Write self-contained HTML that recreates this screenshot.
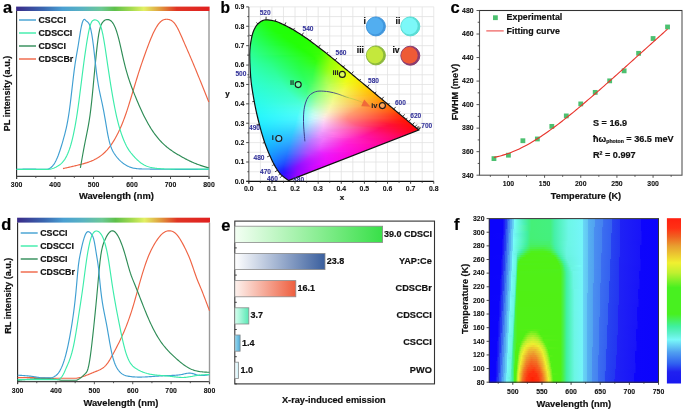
<!DOCTYPE html><html><head><meta charset="utf-8"><style>html,body{margin:0;padding:0;background:#fff;overflow:hidden}svg{display:block;will-change:transform}</style></head><body><svg width="685" height="410" viewBox="0 0 685 410" font-family="Liberation Sans, sans-serif" font-weight="bold"><defs><linearGradient id="sbA"><stop offset="0.000" stop-color="#3a2a88"/><stop offset="0.140" stop-color="#3a66b0"/><stop offset="0.240" stop-color="#4a9fd2"/><stop offset="0.340" stop-color="#58b2c2"/><stop offset="0.440" stop-color="#6cc896"/><stop offset="0.510" stop-color="#5ec04a"/><stop offset="0.600" stop-color="#a8dc50"/><stop offset="0.660" stop-color="#e2f064"/><stop offset="0.740" stop-color="#e0a040"/><stop offset="0.830" stop-color="#e03424"/><stop offset="1.000" stop-color="#e02020"/></linearGradient><linearGradient id="sbD"><stop offset="0.000" stop-color="#3a2a88"/><stop offset="0.140" stop-color="#3a66b0"/><stop offset="0.240" stop-color="#4a9fd2"/><stop offset="0.340" stop-color="#58b2c2"/><stop offset="0.440" stop-color="#6cc896"/><stop offset="0.510" stop-color="#5ec04a"/><stop offset="0.600" stop-color="#a8dc50"/><stop offset="0.660" stop-color="#e2f064"/><stop offset="0.740" stop-color="#e0a040"/><stop offset="0.830" stop-color="#e03424"/><stop offset="1.000" stop-color="#e02020"/></linearGradient><clipPath id="cieclip"><path d="M289.05,180.43 L288.98,180.46 L288.87,180.47 L288.71,180.47 L288.43,180.41 L287.85,180.06 L286.81,179.29 L285.01,177.97 L282.09,175.64 L281.73,175.31 L281.36,174.96 L280.97,174.57 L280.56,174.14 L280.13,173.66 L279.66,173.12 L279.16,172.49 L278.63,171.79 L278.07,171.02 L277.49,170.19 L276.89,169.28 L276.25,168.26 L275.57,167.13 L274.87,165.90 L274.14,164.57 L273.37,163.10 L272.56,161.46 L271.71,159.67 L270.83,157.73 L269.91,155.67 L268.94,153.43 L267.91,150.97 L266.84,148.31 L265.76,145.48 L264.68,142.48 L263.61,139.27 L262.52,135.79 L261.44,132.09 L260.36,128.21 L259.30,124.20 L258.24,119.98 L257.16,115.51 L256.11,110.86 L255.13,106.12 L254.23,101.38 L253.38,96.58 L252.54,91.65 L251.76,86.70 L251.13,81.78 L250.70,77.00 L250.39,72.31 L250.12,67.64 L249.90,63.06 L249.76,58.63 L249.70,54.43 L249.84,50.37 L250.20,46.39 L250.72,42.59 L251.35,39.07 L252.01,35.94 L252.82,33.03 L253.87,30.22 L255.10,27.67 L256.43,25.53 L257.79,23.95 L259.23,22.71 L260.82,21.57 L262.50,20.61 L264.23,19.97 L265.98,19.73 L267.75,19.81 L269.58,20.04 L271.45,20.37 L273.33,20.77 L275.20,21.20 L277.08,21.75 L278.96,22.48 L280.85,23.34 L282.73,24.25 L284.57,25.14 L286.37,26.02 L288.15,26.93 L289.92,27.88 L291.66,28.86 L293.40,29.85 L295.12,30.86 L296.82,31.90 L298.51,32.96 L300.20,34.04 L301.88,35.14 L303.57,36.26 L305.24,37.41 L306.92,38.58 L308.59,39.76 L310.25,40.96 L311.91,42.17 L313.57,43.40 L315.23,44.64 L316.88,45.90 L318.53,47.16 L320.18,48.44 L321.83,49.72 L323.48,51.02 L325.13,52.33 L326.78,53.64 L328.44,54.96 L330.10,56.29 L331.75,57.63 L333.41,58.97 L335.06,60.31 L336.71,61.66 L338.36,63.01 L340.00,64.37 L341.65,65.72 L343.29,67.08 L344.93,68.43 L346.58,69.79 L348.22,71.14 L349.85,72.50 L351.48,73.84 L353.09,75.19 L354.71,76.53 L356.31,77.87 L357.91,79.21 L359.50,80.53 L361.08,81.85 L362.65,83.16 L364.21,84.47 L365.76,85.77 L367.29,87.05 L368.81,88.32 L370.32,89.58 L371.82,90.84 L373.30,92.07 L374.76,93.29 L376.20,94.50 L377.63,95.69 L379.04,96.86 L380.43,98.01 L381.79,99.15 L383.12,100.26 L384.43,101.37 L385.72,102.45 L386.98,103.50 L388.19,104.52 L389.37,105.50 L390.51,106.46 L391.62,107.39 L392.71,108.29 L393.76,109.17 L394.80,110.04 L395.81,110.88 L396.80,111.71 L397.75,112.50 L398.66,113.26 L399.54,113.99 L400.40,114.70 L401.22,115.39 L402.00,116.03 L402.73,116.64 L403.42,117.21 L404.10,117.78 L404.75,118.33 L405.39,118.86 L406.00,119.37 L406.59,119.87 L407.15,120.34 L407.69,120.79 L408.20,121.22 L408.67,121.62 L409.13,122.00 L409.56,122.36 L409.98,122.71 L410.38,123.04 L410.77,123.36 L411.14,123.67 L411.49,123.97 L411.83,124.25 L412.15,124.52 L412.47,124.78 L412.77,125.03 L413.06,125.28 L413.35,125.52 L413.62,125.75 L413.88,125.97 L414.14,126.18 L414.38,126.39 L414.61,126.58 L414.83,126.76 L416.65,128.27 L417.58,129.05 L418.36,129.71 L418.66,129.96 Z"/></clipPath><linearGradient id="c6"><stop offset="0.071" stop-color="#21ff0e"/><stop offset="0.929" stop-color="#20ff08"/></linearGradient><linearGradient id="c7"><stop offset="0.036" stop-color="#21ff12"/><stop offset="0.964" stop-color="#20ff07"/></linearGradient><linearGradient id="c8"><stop offset="0.025" stop-color="#22ff18"/><stop offset="0.975" stop-color="#20ff06"/></linearGradient><linearGradient id="c9"><stop offset="0.022" stop-color="#22ff1d"/><stop offset="0.848" stop-color="#20ff06"/><stop offset="0.978" stop-color="#20ff05"/></linearGradient><linearGradient id="c10"><stop offset="0.019" stop-color="#22ff23"/><stop offset="0.673" stop-color="#21ff07"/><stop offset="0.981" stop-color="#20ff05"/></linearGradient><linearGradient id="c11"><stop offset="0.017" stop-color="#22ff2a"/><stop offset="0.569" stop-color="#21ff08"/><stop offset="0.983" stop-color="#20ff05"/></linearGradient><linearGradient id="c12"><stop offset="0.016" stop-color="#23ff32"/><stop offset="0.516" stop-color="#21ff0a"/><stop offset="0.984" stop-color="#20ff04"/></linearGradient><linearGradient id="c13"><stop offset="0.014" stop-color="#23ff3b"/><stop offset="0.500" stop-color="#21ff0a"/><stop offset="0.986" stop-color="#20ff04"/></linearGradient><linearGradient id="c14"><stop offset="0.014" stop-color="#23ff3f"/><stop offset="0.473" stop-color="#21ff0b"/><stop offset="0.986" stop-color="#20ff03"/></linearGradient><linearGradient id="c15"><stop offset="0.013" stop-color="#23ff46"/><stop offset="0.487" stop-color="#21ff0b"/><stop offset="0.988" stop-color="#21ff03"/></linearGradient><linearGradient id="c16"><stop offset="0.012" stop-color="#23ff4a"/><stop offset="0.488" stop-color="#21ff0b"/><stop offset="0.988" stop-color="#21ff02"/></linearGradient><linearGradient id="c17"><stop offset="0.011" stop-color="#24ff50"/><stop offset="0.511" stop-color="#21ff0b"/><stop offset="0.989" stop-color="#21ff02"/></linearGradient><linearGradient id="c18"><stop offset="0.011" stop-color="#24ff53"/><stop offset="0.511" stop-color="#21ff0b"/><stop offset="0.989" stop-color="#21ff02"/></linearGradient><linearGradient id="c19"><stop offset="0.010" stop-color="#24ff58"/><stop offset="0.541" stop-color="#21ff0a"/><stop offset="0.990" stop-color="#21ff01"/></linearGradient><linearGradient id="c20"><stop offset="0.010" stop-color="#24ff5b"/><stop offset="0.550" stop-color="#21ff0a"/><stop offset="0.990" stop-color="#21ff01"/></linearGradient><linearGradient id="c21"><stop offset="0.010" stop-color="#25ff5e"/><stop offset="0.394" stop-color="#22ff1d"/><stop offset="0.644" stop-color="#22ff07"/><stop offset="0.990" stop-color="#22ff01"/></linearGradient><linearGradient id="c22"><stop offset="0.009" stop-color="#25ff61"/><stop offset="0.387" stop-color="#22ff22"/><stop offset="0.613" stop-color="#22ff08"/><stop offset="0.991" stop-color="#23ff01"/></linearGradient><linearGradient id="c23"><stop offset="0.009" stop-color="#25ff66"/><stop offset="0.384" stop-color="#22ff27"/><stop offset="0.598" stop-color="#22ff09"/><stop offset="0.991" stop-color="#24ff01"/></linearGradient><linearGradient id="c24"><stop offset="0.009" stop-color="#26ff69"/><stop offset="0.395" stop-color="#22ff27"/><stop offset="0.605" stop-color="#22ff09"/><stop offset="0.991" stop-color="#24ff01"/></linearGradient><linearGradient id="c25"><stop offset="0.008" stop-color="#26ff6c"/><stop offset="0.398" stop-color="#22ff28"/><stop offset="0.619" stop-color="#22ff08"/><stop offset="0.992" stop-color="#26ff01"/></linearGradient><linearGradient id="c26"><stop offset="0.008" stop-color="#26ff6f"/><stop offset="0.408" stop-color="#22ff29"/><stop offset="0.625" stop-color="#22ff09"/><stop offset="0.992" stop-color="#26ff01"/></linearGradient><linearGradient id="c27"><stop offset="0.008" stop-color="#27ff72"/><stop offset="0.418" stop-color="#22ff29"/><stop offset="0.648" stop-color="#22ff08"/><stop offset="0.992" stop-color="#27ff01"/></linearGradient><linearGradient id="c28"><stop offset="0.008" stop-color="#27ff77"/><stop offset="0.414" stop-color="#23ff2e"/><stop offset="0.633" stop-color="#22ff09"/><stop offset="0.992" stop-color="#29ff01"/></linearGradient><linearGradient id="c29"><stop offset="0.008" stop-color="#28ff7a"/><stop offset="0.438" stop-color="#22ff2b"/><stop offset="0.669" stop-color="#22ff08"/><stop offset="0.992" stop-color="#29ff01"/></linearGradient><linearGradient id="c30"><stop offset="0.007" stop-color="#28ff7d"/><stop offset="0.440" stop-color="#23ff2c"/><stop offset="0.679" stop-color="#23ff07"/><stop offset="0.993" stop-color="#2bff01"/></linearGradient><linearGradient id="c31"><stop offset="0.007" stop-color="#28ff80"/><stop offset="0.463" stop-color="#22ff29"/><stop offset="0.699" stop-color="#23ff07"/><stop offset="0.993" stop-color="#2cff01"/></linearGradient><linearGradient id="c32"><stop offset="0.007" stop-color="#29ff83"/><stop offset="0.486" stop-color="#23ff27"/><stop offset="0.717" stop-color="#23ff06"/><stop offset="0.993" stop-color="#2eff02"/></linearGradient><linearGradient id="c33"><stop offset="0.007" stop-color="#29ff85"/><stop offset="0.693" stop-color="#23ff08"/><stop offset="0.993" stop-color="#30ff02"/></linearGradient><linearGradient id="c34"><stop offset="0.007" stop-color="#2aff88"/><stop offset="0.688" stop-color="#23ff08"/><stop offset="0.993" stop-color="#36ff02"/></linearGradient><linearGradient id="c35"><stop offset="0.007" stop-color="#2aff8b"/><stop offset="0.705" stop-color="#24ff08"/><stop offset="0.979" stop-color="#37ff02"/><stop offset="0.993" stop-color="#3bff02"/></linearGradient><linearGradient id="c36"><stop offset="0.007" stop-color="#2bff8f"/><stop offset="0.727" stop-color="#24ff07"/><stop offset="0.967" stop-color="#38ff03"/><stop offset="0.993" stop-color="#43ff02"/></linearGradient><linearGradient id="c37"><stop offset="0.006" stop-color="#2bff92"/><stop offset="0.721" stop-color="#24ff08"/><stop offset="0.942" stop-color="#3aff03"/><stop offset="0.994" stop-color="#55ff02"/></linearGradient><linearGradient id="c38"><stop offset="0.006" stop-color="#2bff95"/><stop offset="0.737" stop-color="#25ff07"/><stop offset="0.929" stop-color="#3bff04"/><stop offset="0.994" stop-color="#60ff02"/></linearGradient><linearGradient id="c39"><stop offset="0.006" stop-color="#2cff97"/><stop offset="0.741" stop-color="#26ff08"/><stop offset="0.918" stop-color="#3dff05"/><stop offset="0.994" stop-color="#6aff02"/></linearGradient><linearGradient id="c40"><stop offset="0.006" stop-color="#2cff9a"/><stop offset="0.756" stop-color="#27ff08"/><stop offset="0.894" stop-color="#39ff06"/><stop offset="0.994" stop-color="#74ff02"/></linearGradient><linearGradient id="c41"><stop offset="0.006" stop-color="#2cff9c"/><stop offset="0.750" stop-color="#28ff08"/><stop offset="0.872" stop-color="#3bff06"/><stop offset="0.994" stop-color="#82ff02"/></linearGradient><linearGradient id="c42"><stop offset="0.006" stop-color="#2cff9f"/><stop offset="0.428" stop-color="#25ff47"/><stop offset="0.765" stop-color="#2aff08"/><stop offset="0.873" stop-color="#43ff07"/><stop offset="0.994" stop-color="#89ff02"/></linearGradient><linearGradient id="c43"><stop offset="0.006" stop-color="#2cffa1"/><stop offset="0.387" stop-color="#25ff54"/><stop offset="0.768" stop-color="#2bff09"/><stop offset="0.863" stop-color="#45ff07"/><stop offset="0.982" stop-color="#8aff03"/><stop offset="0.994" stop-color="#8fff02"/></linearGradient><linearGradient id="c44"><stop offset="0.006" stop-color="#2cffa3"/><stop offset="0.347" stop-color="#26ff60"/><stop offset="0.782" stop-color="#2eff09"/><stop offset="0.865" stop-color="#4fff07"/><stop offset="0.982" stop-color="#91ff03"/><stop offset="0.994" stop-color="#95ff02"/></linearGradient><linearGradient id="c45"><stop offset="0.006" stop-color="#2dffa6"/><stop offset="0.293" stop-color="#27ff6e"/><stop offset="0.764" stop-color="#2eff0a"/><stop offset="0.845" stop-color="#51ff08"/><stop offset="0.960" stop-color="#93ff04"/><stop offset="0.994" stop-color="#9fff02"/></linearGradient><linearGradient id="c46"><stop offset="0.006" stop-color="#2dffa8"/><stop offset="0.267" stop-color="#28ff76"/><stop offset="0.756" stop-color="#2fff0c"/><stop offset="0.835" stop-color="#54ff09"/><stop offset="0.949" stop-color="#95ff05"/><stop offset="0.994" stop-color="#a4ff02"/></linearGradient><linearGradient id="c47"><stop offset="0.006" stop-color="#2dffaa"/><stop offset="0.253" stop-color="#29ff7c"/><stop offset="0.579" stop-color="#26ff34"/><stop offset="0.770" stop-color="#35ff0c"/><stop offset="0.927" stop-color="#92ff07"/><stop offset="0.994" stop-color="#a9ff02"/></linearGradient><linearGradient id="c48"><stop offset="0.006" stop-color="#2dffac"/><stop offset="0.250" stop-color="#29ff80"/><stop offset="0.561" stop-color="#26ff39"/><stop offset="0.761" stop-color="#36ff0f"/><stop offset="0.917" stop-color="#94ff08"/><stop offset="0.994" stop-color="#afff03"/></linearGradient><linearGradient id="c49"><stop offset="0.005" stop-color="#2dffae"/><stop offset="0.245" stop-color="#2aff83"/><stop offset="0.549" stop-color="#26ff3c"/><stop offset="0.734" stop-color="#33ff14"/><stop offset="0.897" stop-color="#96ff08"/><stop offset="0.995" stop-color="#b7ff02"/></linearGradient><linearGradient id="c50"><stop offset="0.005" stop-color="#2dffb0"/><stop offset="0.242" stop-color="#2bff87"/><stop offset="0.543" stop-color="#27ff3f"/><stop offset="0.726" stop-color="#34ff18"/><stop offset="0.887" stop-color="#98ff09"/><stop offset="0.995" stop-color="#bcff02"/></linearGradient><linearGradient id="c51"><stop offset="0.005" stop-color="#2dffb2"/><stop offset="0.239" stop-color="#2bff8b"/><stop offset="0.537" stop-color="#27ff41"/><stop offset="0.718" stop-color="#35ff1d"/><stop offset="0.867" stop-color="#95ff0a"/><stop offset="0.995" stop-color="#c0ff03"/></linearGradient><linearGradient id="c52"><stop offset="0.005" stop-color="#2dffb3"/><stop offset="0.239" stop-color="#2bff8b"/><stop offset="0.527" stop-color="#27ff44"/><stop offset="0.697" stop-color="#33ff24"/><stop offset="0.867" stop-color="#9bff0b"/><stop offset="0.995" stop-color="#c5ff03"/></linearGradient><linearGradient id="c53"><stop offset="0.005" stop-color="#2dffb5"/><stop offset="0.247" stop-color="#2cff8c"/><stop offset="0.532" stop-color="#28ff45"/><stop offset="0.689" stop-color="#34ff29"/><stop offset="0.847" stop-color="#99ff0c"/><stop offset="0.995" stop-color="#caff03"/></linearGradient><linearGradient id="c54"><stop offset="0.005" stop-color="#2dffb7"/><stop offset="0.242" stop-color="#2cff90"/><stop offset="0.521" stop-color="#28ff47"/><stop offset="0.675" stop-color="#35ff2e"/><stop offset="0.830" stop-color="#9aff0e"/><stop offset="0.995" stop-color="#d1ff02"/></linearGradient><linearGradient id="c55"><stop offset="0.005" stop-color="#2dffb9"/><stop offset="0.240" stop-color="#2dff93"/><stop offset="0.515" stop-color="#28ff4a"/><stop offset="0.668" stop-color="#36ff32"/><stop offset="0.811" stop-color="#97ff10"/><stop offset="0.995" stop-color="#d6ff03"/></linearGradient><linearGradient id="c56"><stop offset="0.005" stop-color="#2dffbb"/><stop offset="0.247" stop-color="#2dff94"/><stop offset="0.520" stop-color="#29ff4b"/><stop offset="0.652" stop-color="#33ff38"/><stop offset="0.813" stop-color="#9eff12"/><stop offset="0.995" stop-color="#dbff03"/></linearGradient><linearGradient id="c57"><stop offset="0.005" stop-color="#2dffbd"/><stop offset="0.245" stop-color="#2eff98"/><stop offset="0.515" stop-color="#29ff4d"/><stop offset="0.645" stop-color="#35ff3c"/><stop offset="0.795" stop-color="#9bff17"/><stop offset="0.995" stop-color="#dfff03"/></linearGradient><linearGradient id="c58"><stop offset="0.005" stop-color="#2dffbf"/><stop offset="0.252" stop-color="#2eff99"/><stop offset="0.520" stop-color="#2aff4f"/><stop offset="0.639" stop-color="#36ff3f"/><stop offset="0.787" stop-color="#9dff1b"/><stop offset="0.995" stop-color="#e4ff03"/></linearGradient><linearGradient id="c59"><stop offset="0.005" stop-color="#2dffc1"/><stop offset="0.257" stop-color="#2eff9a"/><stop offset="0.510" stop-color="#2aff51"/><stop offset="0.626" stop-color="#38ff42"/><stop offset="0.772" stop-color="#9fff20"/><stop offset="0.995" stop-color="#eafd02"/></linearGradient><linearGradient id="c60"><stop offset="0.005" stop-color="#2dffc2"/><stop offset="0.255" stop-color="#2fff9d"/><stop offset="0.505" stop-color="#2bff53"/><stop offset="0.611" stop-color="#35ff47"/><stop offset="0.764" stop-color="#a0ff25"/><stop offset="0.976" stop-color="#e9fe04"/><stop offset="0.995" stop-color="#edfc03"/></linearGradient><linearGradient id="c61"><stop offset="0.005" stop-color="#2dffc4"/><stop offset="0.262" stop-color="#2fff9e"/><stop offset="0.510" stop-color="#2bff55"/><stop offset="0.605" stop-color="#36ff49"/><stop offset="0.757" stop-color="#a2ff2b"/><stop offset="0.919" stop-color="#dfff0b"/><stop offset="0.995" stop-color="#f0fa03"/></linearGradient><linearGradient id="c62"><stop offset="0.005" stop-color="#2dffc6"/><stop offset="0.259" stop-color="#30ffa2"/><stop offset="0.505" stop-color="#2cff57"/><stop offset="0.599" stop-color="#38ff4c"/><stop offset="0.741" stop-color="#9fff33"/><stop offset="0.901" stop-color="#deff0e"/><stop offset="0.995" stop-color="#f2f703"/></linearGradient><linearGradient id="c63"><stop offset="0.005" stop-color="#2dffc8"/><stop offset="0.266" stop-color="#30ffa3"/><stop offset="0.509" stop-color="#2cff59"/><stop offset="0.593" stop-color="#3aff4f"/><stop offset="0.734" stop-color="#a1ff38"/><stop offset="0.902" stop-color="#e3ff0e"/><stop offset="0.995" stop-color="#f3f403"/></linearGradient><linearGradient id="c64"><stop offset="0.005" stop-color="#2dffc9"/><stop offset="0.271" stop-color="#31ffa4"/><stop offset="0.500" stop-color="#2dff5b"/><stop offset="0.583" stop-color="#3cff52"/><stop offset="0.711" stop-color="#9eff40"/><stop offset="0.894" stop-color="#e8fe0f"/><stop offset="0.995" stop-color="#f5ef03"/></linearGradient><linearGradient id="c65"><stop offset="0.005" stop-color="#2cffcb"/><stop offset="0.268" stop-color="#32ffa8"/><stop offset="0.505" stop-color="#2eff5d"/><stop offset="0.577" stop-color="#3eff55"/><stop offset="0.705" stop-color="#a0ff44"/><stop offset="0.895" stop-color="#ebfd0f"/><stop offset="0.995" stop-color="#f6ec03"/></linearGradient><linearGradient id="c66"><stop offset="0.005" stop-color="#2cffcc"/><stop offset="0.275" stop-color="#32ffa9"/><stop offset="0.500" stop-color="#2eff5f"/><stop offset="0.572" stop-color="#40ff57"/><stop offset="0.698" stop-color="#a2ff48"/><stop offset="0.887" stop-color="#edfd11"/><stop offset="0.995" stop-color="#f7e903"/></linearGradient><linearGradient id="c67"><stop offset="0.005" stop-color="#2dfece"/><stop offset="0.275" stop-color="#32ffaa"/><stop offset="0.500" stop-color="#2fff61"/><stop offset="0.563" stop-color="#43ff5a"/><stop offset="0.689" stop-color="#a4ff4c"/><stop offset="0.869" stop-color="#edfd15"/><stop offset="0.995" stop-color="#f8e603"/></linearGradient><linearGradient id="c68"><stop offset="0.004" stop-color="#2cfecf"/><stop offset="0.272" stop-color="#33ffae"/><stop offset="0.496" stop-color="#30ff64"/><stop offset="0.558" stop-color="#46ff5d"/><stop offset="0.683" stop-color="#a6ff4f"/><stop offset="0.862" stop-color="#eefc19"/><stop offset="0.996" stop-color="#f9e303"/></linearGradient><linearGradient id="c69"><stop offset="0.004" stop-color="#2cfed0"/><stop offset="0.276" stop-color="#34ffaf"/><stop offset="0.496" stop-color="#32ff65"/><stop offset="0.548" stop-color="#49ff60"/><stop offset="0.671" stop-color="#a9ff53"/><stop offset="0.838" stop-color="#edfc20"/><stop offset="0.996" stop-color="#fade03"/></linearGradient><linearGradient id="c70"><stop offset="0.004" stop-color="#2cfed2"/><stop offset="0.274" stop-color="#34ffb3"/><stop offset="0.491" stop-color="#33ff68"/><stop offset="0.543" stop-color="#4cff62"/><stop offset="0.665" stop-color="#abff56"/><stop offset="0.813" stop-color="#ebfd2c"/><stop offset="0.970" stop-color="#fae006"/><stop offset="0.996" stop-color="#fbdb03"/></linearGradient><linearGradient id="c71"><stop offset="0.004" stop-color="#2cfed3"/><stop offset="0.280" stop-color="#35ffb4"/><stop offset="0.496" stop-color="#36ff6a"/><stop offset="0.556" stop-color="#5fff64"/><stop offset="0.694" stop-color="#c0ff54"/><stop offset="0.841" stop-color="#f3f823"/><stop offset="0.996" stop-color="#fcd703"/></linearGradient><linearGradient id="c72"><stop offset="0.004" stop-color="#2cfed5"/><stop offset="0.278" stop-color="#35ffb7"/><stop offset="0.500" stop-color="#3aff6c"/><stop offset="0.671" stop-color="#b9ff5b"/><stop offset="0.816" stop-color="#f1fa30"/><stop offset="0.953" stop-color="#fbdd09"/><stop offset="0.996" stop-color="#fdd403"/></linearGradient><linearGradient id="c73"><stop offset="0.004" stop-color="#2bfed6"/><stop offset="0.284" stop-color="#36ffb9"/><stop offset="0.496" stop-color="#3cff6f"/><stop offset="0.665" stop-color="#bbff5e"/><stop offset="0.809" stop-color="#f3f836"/><stop offset="0.936" stop-color="#fcdd0c"/><stop offset="0.996" stop-color="#fed103"/></linearGradient><linearGradient id="c74"><stop offset="0.004" stop-color="#2bfdd7"/><stop offset="0.287" stop-color="#37ffba"/><stop offset="0.479" stop-color="#3bff73"/><stop offset="0.662" stop-color="#c2ff61"/><stop offset="0.796" stop-color="#f4f73c"/><stop offset="0.929" stop-color="#fdd90d"/><stop offset="0.996" stop-color="#ffcb02"/></linearGradient><linearGradient id="c75"><stop offset="0.004" stop-color="#2bfdd9"/><stop offset="0.287" stop-color="#37ffbc"/><stop offset="0.471" stop-color="#3dff77"/><stop offset="0.646" stop-color="#c0ff65"/><stop offset="0.779" stop-color="#f3f845"/><stop offset="0.921" stop-color="#fdd80f"/><stop offset="0.996" stop-color="#ffc803"/></linearGradient><linearGradient id="c76"><stop offset="0.004" stop-color="#2bfdda"/><stop offset="0.285" stop-color="#38ffbf"/><stop offset="0.467" stop-color="#3fff7a"/><stop offset="0.640" stop-color="#c3ff69"/><stop offset="0.764" stop-color="#f3f84d"/><stop offset="0.930" stop-color="#fed20d"/><stop offset="0.996" stop-color="#ffc403"/></linearGradient><linearGradient id="c77"><stop offset="0.004" stop-color="#2bfddb"/><stop offset="0.291" stop-color="#39ffc1"/><stop offset="0.455" stop-color="#3eff80"/><stop offset="0.643" stop-color="#caff6b"/><stop offset="0.758" stop-color="#f4f751"/><stop offset="0.930" stop-color="#fecf0e"/><stop offset="0.996" stop-color="#ffc003"/></linearGradient><linearGradient id="c78"><stop offset="0.004" stop-color="#2bfddd"/><stop offset="0.297" stop-color="#3affc2"/><stop offset="0.451" stop-color="#40ff84"/><stop offset="0.638" stop-color="#ccff6f"/><stop offset="0.752" stop-color="#f5f554"/><stop offset="0.939" stop-color="#ffc90c"/><stop offset="0.996" stop-color="#ffbc03"/></linearGradient><linearGradient id="c79"><stop offset="0.004" stop-color="#2bfdde"/><stop offset="0.300" stop-color="#3affc4"/><stop offset="0.444" stop-color="#42ff89"/><stop offset="0.620" stop-color="#caff73"/><stop offset="0.732" stop-color="#f5f55b"/><stop offset="0.940" stop-color="#ffc30b"/><stop offset="0.996" stop-color="#ffb602"/></linearGradient><linearGradient id="c80"><stop offset="0.004" stop-color="#2afde0"/><stop offset="0.306" stop-color="#3bffc6"/><stop offset="0.440" stop-color="#45ff8d"/><stop offset="0.607" stop-color="#c8ff78"/><stop offset="0.718" stop-color="#f5f660"/><stop offset="0.940" stop-color="#ffbf0b"/><stop offset="0.996" stop-color="#ffb103"/></linearGradient><linearGradient id="c81"><stop offset="0.004" stop-color="#2bfde1"/><stop offset="0.306" stop-color="#3cffc7"/><stop offset="0.433" stop-color="#48ff92"/><stop offset="0.591" stop-color="#c6ff7d"/><stop offset="0.702" stop-color="#f5f666"/><stop offset="0.948" stop-color="#ffb80a"/><stop offset="0.996" stop-color="#ffad03"/></linearGradient><linearGradient id="c82"><stop offset="0.004" stop-color="#2afce2"/><stop offset="0.311" stop-color="#3dffc9"/><stop offset="0.421" stop-color="#47ff9b"/><stop offset="0.531" stop-color="#a1ff85"/><stop offset="0.657" stop-color="#edfd74"/><stop offset="0.886" stop-color="#ffc31c"/><stop offset="0.996" stop-color="#ffa903"/></linearGradient><linearGradient id="c83"><stop offset="0.004" stop-color="#2afce4"/><stop offset="0.316" stop-color="#3effcb"/><stop offset="0.418" stop-color="#49ffa1"/><stop offset="0.520" stop-color="#9eff8a"/><stop offset="0.645" stop-color="#ecfd7a"/><stop offset="0.848" stop-color="#ffc92f"/><stop offset="0.980" stop-color="#ffa805"/><stop offset="0.996" stop-color="#ffa403"/></linearGradient><linearGradient id="c84"><stop offset="0.004" stop-color="#2afce5"/><stop offset="0.319" stop-color="#40ffcd"/><stop offset="0.412" stop-color="#4dffa7"/><stop offset="0.504" stop-color="#9bff8e"/><stop offset="0.627" stop-color="#ebfd7f"/><stop offset="0.804" stop-color="#ffce41"/><stop offset="0.958" stop-color="#ffa708"/><stop offset="0.996" stop-color="#ff9d02"/></linearGradient><linearGradient id="c85"><stop offset="0.004" stop-color="#2afce6"/><stop offset="0.324" stop-color="#41ffcf"/><stop offset="0.408" stop-color="#50ffac"/><stop offset="0.500" stop-color="#9fff92"/><stop offset="0.622" stop-color="#eefc83"/><stop offset="0.821" stop-color="#ffc53b"/><stop offset="0.966" stop-color="#ffa007"/><stop offset="0.996" stop-color="#ff9802"/></linearGradient><linearGradient id="c86"><stop offset="0.004" stop-color="#29fce8"/><stop offset="0.330" stop-color="#42ffd1"/><stop offset="0.405" stop-color="#54ffb3"/><stop offset="0.496" stop-color="#a2ff96"/><stop offset="0.617" stop-color="#f0fb86"/><stop offset="0.845" stop-color="#ffba32"/><stop offset="0.973" stop-color="#ff9806"/><stop offset="0.996" stop-color="#ff9203"/></linearGradient><linearGradient id="c87"><stop offset="0.004" stop-color="#2afbe9"/><stop offset="0.337" stop-color="#44ffd1"/><stop offset="0.398" stop-color="#57ffb9"/><stop offset="0.489" stop-color="#a5ff9b"/><stop offset="0.602" stop-color="#effc8c"/><stop offset="0.807" stop-color="#ffbf42"/><stop offset="0.966" stop-color="#ff9407"/><stop offset="0.996" stop-color="#ff8c03"/></linearGradient><linearGradient id="c88"><stop offset="0.004" stop-color="#29fbea"/><stop offset="0.342" stop-color="#46ffd3"/><stop offset="0.395" stop-color="#5bffbf"/><stop offset="0.477" stop-color="#a4ffa0"/><stop offset="0.598" stop-color="#f1fb8f"/><stop offset="0.831" stop-color="#ffb43a"/><stop offset="0.974" stop-color="#ff8d06"/><stop offset="0.996" stop-color="#ff8703"/></linearGradient><linearGradient id="c89"><stop offset="0.004" stop-color="#29fbeb"/><stop offset="0.344" stop-color="#48ffd6"/><stop offset="0.396" stop-color="#67ffc1"/><stop offset="0.470" stop-color="#a7ffa5"/><stop offset="0.589" stop-color="#f3fa93"/><stop offset="0.870" stop-color="#ffa126"/><stop offset="0.996" stop-color="#ff7f02"/></linearGradient><linearGradient id="c90"><stop offset="0.004" stop-color="#28fbed"/><stop offset="0.349" stop-color="#4bffd8"/><stop offset="0.401" stop-color="#74ffc4"/><stop offset="0.489" stop-color="#baffa7"/><stop offset="0.585" stop-color="#f5f896"/><stop offset="0.967" stop-color="#ff8106"/><stop offset="0.996" stop-color="#ff7902"/></linearGradient><linearGradient id="c91"><stop offset="0.004" stop-color="#28faee"/><stop offset="0.354" stop-color="#4fffda"/><stop offset="0.456" stop-color="#aaffb1"/><stop offset="0.573" stop-color="#f5f99c"/><stop offset="0.916" stop-color="#ff8915"/><stop offset="0.996" stop-color="#ff7402"/></linearGradient><linearGradient id="c92"><stop offset="0.004" stop-color="#28faef"/><stop offset="0.339" stop-color="#4effe0"/><stop offset="0.449" stop-color="#aeffb6"/><stop offset="0.558" stop-color="#f4f9a3"/><stop offset="0.858" stop-color="#ff932f"/><stop offset="0.989" stop-color="#ff7103"/><stop offset="0.996" stop-color="#ff6f03"/></linearGradient><linearGradient id="c93"><stop offset="0.004" stop-color="#28faf0"/><stop offset="0.337" stop-color="#4ffee3"/><stop offset="0.438" stop-color="#aeffbf"/><stop offset="0.554" stop-color="#f6f7a6"/><stop offset="0.888" stop-color="#ff8522"/><stop offset="0.996" stop-color="#ff6a03"/></linearGradient><linearGradient id="c94"><stop offset="0.004" stop-color="#27f9f1"/><stop offset="0.325" stop-color="#4dfee7"/><stop offset="0.375" stop-color="#7effde"/><stop offset="0.439" stop-color="#b6ffc3"/><stop offset="0.546" stop-color="#f8f6aa"/><stop offset="0.796" stop-color="#ff9644"/><stop offset="0.982" stop-color="#ff6704"/><stop offset="0.996" stop-color="#ff6302"/></linearGradient><linearGradient id="c95"><stop offset="0.004" stop-color="#27f9f2"/><stop offset="0.323" stop-color="#4efeea"/><stop offset="0.372" stop-color="#82ffe2"/><stop offset="0.436" stop-color="#baffca"/><stop offset="0.535" stop-color="#f8f6b0"/><stop offset="0.762" stop-color="#ff9a50"/><stop offset="0.989" stop-color="#ff6003"/><stop offset="0.996" stop-color="#ff5e02"/></linearGradient><linearGradient id="c96"><stop offset="0.004" stop-color="#26f9f4"/><stop offset="0.320" stop-color="#4ffeed"/><stop offset="0.419" stop-color="#b5ffd6"/><stop offset="0.532" stop-color="#f9f4b4"/><stop offset="0.743" stop-color="#ff9a56"/><stop offset="0.989" stop-color="#ff5b03"/><stop offset="0.996" stop-color="#ff5902"/></linearGradient><linearGradient id="c97"><stop offset="0.004" stop-color="#27f9f5"/><stop offset="0.306" stop-color="#4dfdef"/><stop offset="0.349" stop-color="#76feec"/><stop offset="0.405" stop-color="#b4ffdf"/><stop offset="0.518" stop-color="#f9f4bb"/><stop offset="0.715" stop-color="#ff9d5e"/><stop offset="0.996" stop-color="#ff5302"/></linearGradient><linearGradient id="c98"><stop offset="0.003" stop-color="#26f8f6"/><stop offset="0.304" stop-color="#4efdf2"/><stop offset="0.353" stop-color="#84feef"/><stop offset="0.416" stop-color="#c2ffe0"/><stop offset="0.514" stop-color="#fbf1bf"/><stop offset="0.703" stop-color="#ff9b62"/><stop offset="0.997" stop-color="#ff4c03"/></linearGradient><linearGradient id="c99"><stop offset="0.003" stop-color="#26f8f7"/><stop offset="0.300" stop-color="#4efcf4"/><stop offset="0.348" stop-color="#87fdf2"/><stop offset="0.417" stop-color="#cbfee4"/><stop offset="0.507" stop-color="#fceec2"/><stop offset="0.679" stop-color="#ff9b69"/><stop offset="0.997" stop-color="#ff4202"/></linearGradient><linearGradient id="c100"><stop offset="0.003" stop-color="#25f7f8"/><stop offset="0.291" stop-color="#4bfcf6"/><stop offset="0.332" stop-color="#76fcf5"/><stop offset="0.394" stop-color="#befeef"/><stop offset="0.490" stop-color="#faf1ce"/><stop offset="0.654" stop-color="#ff9d72"/><stop offset="0.997" stop-color="#ff3902"/></linearGradient><linearGradient id="c101"><stop offset="0.003" stop-color="#25f7fa"/><stop offset="0.289" stop-color="#4cfbf8"/><stop offset="0.330" stop-color="#79fcf7"/><stop offset="0.391" stop-color="#c1fdf3"/><stop offset="0.480" stop-color="#faf1d6"/><stop offset="0.643" stop-color="#ff9b76"/><stop offset="0.997" stop-color="#ff3102"/></linearGradient><linearGradient id="c102"><stop offset="0.003" stop-color="#25f6fb"/><stop offset="0.282" stop-color="#4cfafa"/><stop offset="0.330" stop-color="#86fbf9"/><stop offset="0.405" stop-color="#d4fcf3"/><stop offset="0.480" stop-color="#fde9d5"/><stop offset="0.629" stop-color="#ff987a"/><stop offset="0.997" stop-color="#ff2a03"/></linearGradient><linearGradient id="c103"><stop offset="0.003" stop-color="#25f6fc"/><stop offset="0.274" stop-color="#49f9fb"/><stop offset="0.314" stop-color="#74f9fb"/><stop offset="0.375" stop-color="#befbf9"/><stop offset="0.463" stop-color="#fbede2"/><stop offset="0.618" stop-color="#ff957e"/><stop offset="0.997" stop-color="#ff2303"/></linearGradient><linearGradient id="c104"><stop offset="0.003" stop-color="#24f5fc"/><stop offset="0.270" stop-color="#49f7fc"/><stop offset="0.310" stop-color="#76f8fc"/><stop offset="0.377" stop-color="#c5f9fb"/><stop offset="0.457" stop-color="#fce8e6"/><stop offset="0.610" stop-color="#ff9080"/><stop offset="0.997" stop-color="#ff1e02"/></linearGradient><linearGradient id="c105"><stop offset="0.003" stop-color="#23f4fd"/><stop offset="0.268" stop-color="#49f6fd"/><stop offset="0.315" stop-color="#82f6fd"/><stop offset="0.394" stop-color="#d7f5fc"/><stop offset="0.460" stop-color="#fddfe5"/><stop offset="0.606" stop-color="#ff8a82"/><stop offset="0.990" stop-color="#ff1b03"/><stop offset="0.997" stop-color="#ff1a02"/></linearGradient><linearGradient id="c106"><stop offset="0.003" stop-color="#24f3fe"/><stop offset="0.262" stop-color="#49f4fe"/><stop offset="0.361" stop-color="#bff3fe"/><stop offset="0.440" stop-color="#fbe2f0"/><stop offset="0.599" stop-color="#ff8585"/><stop offset="0.818" stop-color="#ff423a"/><stop offset="0.977" stop-color="#ff1906"/><stop offset="0.997" stop-color="#ff1803"/></linearGradient><linearGradient id="c107"><stop offset="0.003" stop-color="#23f1fe"/><stop offset="0.260" stop-color="#49f1fe"/><stop offset="0.352" stop-color="#b8effe"/><stop offset="0.438" stop-color="#fbdcf3"/><stop offset="0.602" stop-color="#ff7e86"/><stop offset="0.812" stop-color="#ff3b3c"/><stop offset="0.957" stop-color="#ff180c"/><stop offset="0.997" stop-color="#ff1503"/></linearGradient><linearGradient id="c108"><stop offset="0.003" stop-color="#23f0fe"/><stop offset="0.252" stop-color="#44efff"/><stop offset="0.297" stop-color="#7ceeff"/><stop offset="0.376" stop-color="#cee7ff"/><stop offset="0.441" stop-color="#fcd3f1"/><stop offset="0.605" stop-color="#ff7787"/><stop offset="0.807" stop-color="#ff343e"/><stop offset="0.938" stop-color="#ff1614"/><stop offset="0.997" stop-color="#ff1303"/></linearGradient><linearGradient id="c109"><stop offset="0.003" stop-color="#22eeff"/><stop offset="0.248" stop-color="#44ecff"/><stop offset="0.345" stop-color="#b6e7ff"/><stop offset="0.429" stop-color="#fad1f6"/><stop offset="0.610" stop-color="#ff6d85"/><stop offset="0.816" stop-color="#ff263b"/><stop offset="0.965" stop-color="#ff1209"/><stop offset="0.997" stop-color="#ff1102"/></linearGradient><linearGradient id="c110"><stop offset="0.003" stop-color="#22edff"/><stop offset="0.242" stop-color="#43e9ff"/><stop offset="0.332" stop-color="#afe3ff"/><stop offset="0.423" stop-color="#f9cbf7"/><stop offset="0.616" stop-color="#ff6584"/><stop offset="0.829" stop-color="#ff1a38"/><stop offset="0.997" stop-color="#ff0e03"/></linearGradient><linearGradient id="c111"><stop offset="0.003" stop-color="#21ebff"/><stop offset="0.240" stop-color="#43e6ff"/><stop offset="0.330" stop-color="#adddff"/><stop offset="0.420" stop-color="#f9c5f8"/><stop offset="0.625" stop-color="#ff5c84"/><stop offset="0.843" stop-color="#ff1236"/><stop offset="0.997" stop-color="#ff0c03"/></linearGradient><linearGradient id="c112"><stop offset="0.003" stop-color="#20e9ff"/><stop offset="0.232" stop-color="#3ee3ff"/><stop offset="0.328" stop-color="#acd8ff"/><stop offset="0.417" stop-color="#f8c0f9"/><stop offset="0.646" stop-color="#ff4f7d"/><stop offset="0.825" stop-color="#ff103d"/><stop offset="0.997" stop-color="#ff0b04"/></linearGradient><linearGradient id="c113"><stop offset="0.003" stop-color="#20e7ff"/><stop offset="0.231" stop-color="#3ee0ff"/><stop offset="0.320" stop-color="#a5d4ff"/><stop offset="0.415" stop-color="#f8baf9"/><stop offset="0.693" stop-color="#ff366d"/><stop offset="0.820" stop-color="#ff0e41"/><stop offset="0.997" stop-color="#ff0905"/></linearGradient><linearGradient id="c114"><stop offset="0.003" stop-color="#1fe5ff"/><stop offset="0.223" stop-color="#3ddcff"/><stop offset="0.305" stop-color="#9fd0ff"/><stop offset="0.406" stop-color="#f7b4fa"/><stop offset="0.758" stop-color="#ff1356"/><stop offset="0.997" stop-color="#ff0704"/></linearGradient><linearGradient id="c115"><stop offset="0.003" stop-color="#1ee3ff"/><stop offset="0.216" stop-color="#39daff"/><stop offset="0.303" stop-color="#9ecaff"/><stop offset="0.403" stop-color="#f6affa"/><stop offset="0.753" stop-color="#ff105b"/><stop offset="0.997" stop-color="#ff0506"/></linearGradient><linearGradient id="c116"><stop offset="0.003" stop-color="#1de1ff"/><stop offset="0.214" stop-color="#38d6ff"/><stop offset="0.301" stop-color="#9dc4ff"/><stop offset="0.394" stop-color="#f3abfc"/><stop offset="0.543" stop-color="#ff65be"/><stop offset="0.742" stop-color="#ff1064"/><stop offset="0.997" stop-color="#ff0407"/></linearGradient><linearGradient id="c117"><stop offset="0.003" stop-color="#1ddfff"/><stop offset="0.214" stop-color="#38d3ff"/><stop offset="0.295" stop-color="#97c0ff"/><stop offset="0.394" stop-color="#f2a6fc"/><stop offset="0.537" stop-color="#ff64c4"/><stop offset="0.730" stop-color="#ff106e"/><stop offset="0.997" stop-color="#ff030b"/></linearGradient><linearGradient id="c118"><stop offset="0.003" stop-color="#1cdcff"/><stop offset="0.207" stop-color="#34d0ff"/><stop offset="0.296" stop-color="#95baff"/><stop offset="0.398" stop-color="#f2a1fc"/><stop offset="0.538" stop-color="#ff64ca"/><stop offset="0.729" stop-color="#ff1178"/><stop offset="0.997" stop-color="#ff0216"/></linearGradient><linearGradient id="c119"><stop offset="0.003" stop-color="#1bdaff"/><stop offset="0.210" stop-color="#34cdff"/><stop offset="0.294" stop-color="#90b6ff"/><stop offset="0.384" stop-color="#e69ffe"/><stop offset="0.468" stop-color="#fe83e9"/><stop offset="0.719" stop-color="#ff1385"/><stop offset="0.997" stop-color="#ff0222"/></linearGradient><linearGradient id="c120"><stop offset="0.003" stop-color="#1ad8ff"/><stop offset="0.214" stop-color="#35c9ff"/><stop offset="0.299" stop-color="#8fb0ff"/><stop offset="0.391" stop-color="#e69afe"/><stop offset="0.484" stop-color="#fe7ce8"/><stop offset="0.720" stop-color="#ff148f"/><stop offset="0.997" stop-color="#ff0231"/></linearGradient><linearGradient id="c121"><stop offset="0.003" stop-color="#1ad5ff"/><stop offset="0.206" stop-color="#31c6ff"/><stop offset="0.301" stop-color="#8ea9ff"/><stop offset="0.395" stop-color="#e695fe"/><stop offset="0.497" stop-color="#fe75e7"/><stop offset="0.720" stop-color="#ff1499"/><stop offset="0.997" stop-color="#ff023e"/></linearGradient><linearGradient id="c122"><stop offset="0.003" stop-color="#19d3ff"/><stop offset="0.209" stop-color="#31c3ff"/><stop offset="0.305" stop-color="#8da3ff"/><stop offset="0.408" stop-color="#e98ffe"/><stop offset="0.531" stop-color="#ff65df"/><stop offset="0.716" stop-color="#ff15a2"/><stop offset="0.997" stop-color="#ff0248"/></linearGradient><linearGradient id="c123"><stop offset="0.003" stop-color="#18d1ff"/><stop offset="0.213" stop-color="#32bfff"/><stop offset="0.304" stop-color="#87a0ff"/><stop offset="0.402" stop-color="#e18bff"/><stop offset="0.500" stop-color="#fd71ec"/><stop offset="0.717" stop-color="#ff16ab"/><stop offset="0.997" stop-color="#ff0253"/></linearGradient><linearGradient id="c124"><stop offset="0.004" stop-color="#17ceff"/><stop offset="0.211" stop-color="#32bbff"/><stop offset="0.304" stop-color="#879aff"/><stop offset="0.418" stop-color="#e985fe"/><stop offset="0.554" stop-color="#ff58df"/><stop offset="0.711" stop-color="#ff17b2"/><stop offset="0.996" stop-color="#ff025c"/></linearGradient><linearGradient id="c125"><stop offset="0.004" stop-color="#16ccff"/><stop offset="0.208" stop-color="#2fb9ff"/><stop offset="0.376" stop-color="#c584ff"/><stop offset="0.449" stop-color="#f07cfb"/><stop offset="0.639" stop-color="#ff30cb"/><stop offset="0.770" stop-color="#ff10a8"/><stop offset="0.996" stop-color="#ff0266"/></linearGradient><linearGradient id="c126"><stop offset="0.004" stop-color="#15caff"/><stop offset="0.211" stop-color="#2fb5ff"/><stop offset="0.374" stop-color="#bf80ff"/><stop offset="0.456" stop-color="#f077fc"/><stop offset="0.648" stop-color="#ff2acd"/><stop offset="0.804" stop-color="#ff0ea5"/><stop offset="0.996" stop-color="#ff026e"/></linearGradient><linearGradient id="c127"><stop offset="0.004" stop-color="#14c7ff"/><stop offset="0.216" stop-color="#2fb0ff"/><stop offset="0.375" stop-color="#b97cff"/><stop offset="0.458" stop-color="#ed74fd"/><stop offset="0.648" stop-color="#ff2ad2"/><stop offset="0.814" stop-color="#ff0eaa"/><stop offset="0.996" stop-color="#ff0278"/></linearGradient><linearGradient id="c128"><stop offset="0.004" stop-color="#14c5ff"/><stop offset="0.215" stop-color="#30acff"/><stop offset="0.379" stop-color="#ba78ff"/><stop offset="0.465" stop-color="#ed6ffd"/><stop offset="0.660" stop-color="#ff25d3"/><stop offset="0.934" stop-color="#ff0692"/><stop offset="0.996" stop-color="#ff0282"/></linearGradient><linearGradient id="c129"><stop offset="0.004" stop-color="#13c2ff"/><stop offset="0.218" stop-color="#30a8ff"/><stop offset="0.377" stop-color="#b474ff"/><stop offset="0.464" stop-color="#ea6cfe"/><stop offset="0.655" stop-color="#ff26d8"/><stop offset="0.964" stop-color="#ff0491"/><stop offset="0.996" stop-color="#ff0289"/></linearGradient><linearGradient id="c130"><stop offset="0.004" stop-color="#14bfff"/><stop offset="0.209" stop-color="#2da5ff"/><stop offset="0.373" stop-color="#ae71ff"/><stop offset="0.463" stop-color="#e668fe"/><stop offset="0.660" stop-color="#ff23db"/><stop offset="0.996" stop-color="#ff0393"/></linearGradient><linearGradient id="c131"><stop offset="0.004" stop-color="#13bdff"/><stop offset="0.212" stop-color="#2da1ff"/><stop offset="0.379" stop-color="#b06cff"/><stop offset="0.479" stop-color="#e961fe"/><stop offset="0.696" stop-color="#ff1bd6"/><stop offset="0.996" stop-color="#ff0299"/></linearGradient><linearGradient id="c132"><stop offset="0.004" stop-color="#13baff"/><stop offset="0.218" stop-color="#2d9cff"/><stop offset="0.380" stop-color="#aa69ff"/><stop offset="0.483" stop-color="#e65dfe"/><stop offset="0.697" stop-color="#ff1bdb"/><stop offset="0.996" stop-color="#ff03a2"/></linearGradient><linearGradient id="c133"><stop offset="0.004" stop-color="#13b7ff"/><stop offset="0.215" stop-color="#2e97ff"/><stop offset="0.382" stop-color="#ac65ff"/><stop offset="0.496" stop-color="#e855fe"/><stop offset="0.697" stop-color="#ff1ade"/><stop offset="0.996" stop-color="#ff03a7"/></linearGradient><linearGradient id="c134"><stop offset="0.005" stop-color="#13b4ff"/><stop offset="0.212" stop-color="#2a95ff"/><stop offset="0.383" stop-color="#a662ff"/><stop offset="0.500" stop-color="#e551fe"/><stop offset="0.698" stop-color="#fe1ae2"/><stop offset="0.995" stop-color="#ff03ad"/></linearGradient><linearGradient id="c135"><stop offset="0.005" stop-color="#13b2ff"/><stop offset="0.208" stop-color="#2693ff"/><stop offset="0.394" stop-color="#a85dff"/><stop offset="0.514" stop-color="#e54afe"/><stop offset="0.699" stop-color="#fd1ae6"/><stop offset="0.995" stop-color="#ff03b3"/></linearGradient><linearGradient id="c136"><stop offset="0.005" stop-color="#14aeff"/><stop offset="0.205" stop-color="#268eff"/><stop offset="0.386" stop-color="#a35aff"/><stop offset="0.510" stop-color="#e245ff"/><stop offset="0.690" stop-color="#fc1ae9"/><stop offset="0.995" stop-color="#ff03b7"/></linearGradient><linearGradient id="c137"><stop offset="0.005" stop-color="#14acff"/><stop offset="0.211" stop-color="#2789ff"/><stop offset="0.397" stop-color="#a555ff"/><stop offset="0.534" stop-color="#e43bfe"/><stop offset="0.711" stop-color="#fb18e9"/><stop offset="0.995" stop-color="#ff03bc"/></linearGradient><linearGradient id="c138"><stop offset="0.005" stop-color="#15a8ff"/><stop offset="0.207" stop-color="#2784ff"/><stop offset="0.399" stop-color="#a751ff"/><stop offset="0.551" stop-color="#e731fe"/><stop offset="0.753" stop-color="#fd15e6"/><stop offset="0.995" stop-color="#ff03c0"/></linearGradient><linearGradient id="c139"><stop offset="0.005" stop-color="#14a5ff"/><stop offset="0.214" stop-color="#287fff"/><stop offset="0.422" stop-color="#af4aff"/><stop offset="0.589" stop-color="#eb25fd"/><stop offset="0.932" stop-color="#ff07cf"/><stop offset="0.995" stop-color="#ff03c6"/></linearGradient><linearGradient id="c140"><stop offset="0.005" stop-color="#14a2ff"/><stop offset="0.207" stop-color="#247dff"/><stop offset="0.431" stop-color="#b044ff"/><stop offset="0.601" stop-color="#ea20fd"/><stop offset="0.963" stop-color="#ff05cf"/><stop offset="0.995" stop-color="#ff03ca"/></linearGradient><linearGradient id="c141"><stop offset="0.006" stop-color="#159eff"/><stop offset="0.206" stop-color="#2478ff"/><stop offset="0.472" stop-color="#c037ff"/><stop offset="0.650" stop-color="#ef19fa"/><stop offset="0.994" stop-color="#ff03cf"/></linearGradient><linearGradient id="c142"><stop offset="0.006" stop-color="#159bff"/><stop offset="0.213" stop-color="#2572ff"/><stop offset="0.477" stop-color="#bc33ff"/><stop offset="0.661" stop-color="#ed17fb"/><stop offset="0.994" stop-color="#ff04d5"/></linearGradient><linearGradient id="c143"><stop offset="0.006" stop-color="#1596ff"/><stop offset="0.208" stop-color="#256dff"/><stop offset="0.482" stop-color="#bc2cff"/><stop offset="0.685" stop-color="#ee15fa"/><stop offset="0.994" stop-color="#ff03d9"/></linearGradient><linearGradient id="c144"><stop offset="0.006" stop-color="#1593ff"/><stop offset="0.204" stop-color="#226bff"/><stop offset="0.488" stop-color="#b928ff"/><stop offset="0.698" stop-color="#ec14fb"/><stop offset="0.994" stop-color="#ff04de"/></linearGradient><linearGradient id="c145"><stop offset="0.006" stop-color="#158eff"/><stop offset="0.199" stop-color="#2266ff"/><stop offset="0.481" stop-color="#b523ff"/><stop offset="0.712" stop-color="#ec12fb"/><stop offset="0.994" stop-color="#fe03e2"/></linearGradient><linearGradient id="c146"><stop offset="0.007" stop-color="#148aff"/><stop offset="0.207" stop-color="#2360ff"/><stop offset="0.500" stop-color="#b61eff"/><stop offset="0.740" stop-color="#ec11fb"/><stop offset="0.993" stop-color="#fc04e6"/></linearGradient><linearGradient id="c147"><stop offset="0.007" stop-color="#1484ff"/><stop offset="0.201" stop-color="#245aff"/><stop offset="0.493" stop-color="#b21aff"/><stop offset="0.757" stop-color="#eb0ffb"/><stop offset="0.993" stop-color="#fa03e8"/></linearGradient><linearGradient id="c148"><stop offset="0.007" stop-color="#1380ff"/><stop offset="0.196" stop-color="#2058ff"/><stop offset="0.500" stop-color="#ae17ff"/><stop offset="0.775" stop-color="#ea0efd"/><stop offset="0.993" stop-color="#f703eb"/></linearGradient><linearGradient id="c149"><stop offset="0.008" stop-color="#1379ff"/><stop offset="0.192" stop-color="#2152ff"/><stop offset="0.485" stop-color="#a616ff"/><stop offset="0.792" stop-color="#e80dfd"/><stop offset="0.992" stop-color="#f404ef"/></linearGradient><linearGradient id="c150"><stop offset="0.008" stop-color="#1274ff"/><stop offset="0.198" stop-color="#224cff"/><stop offset="0.468" stop-color="#9c15ff"/><stop offset="0.770" stop-color="#e10cff"/><stop offset="0.992" stop-color="#f203f1"/></linearGradient><linearGradient id="c151"><stop offset="0.008" stop-color="#126cff"/><stop offset="0.195" stop-color="#2346ff"/><stop offset="0.466" stop-color="#9812ff"/><stop offset="0.788" stop-color="#df0bff"/><stop offset="0.992" stop-color="#ef04f5"/></linearGradient><linearGradient id="c152"><stop offset="0.009" stop-color="#1167ff"/><stop offset="0.184" stop-color="#1f43ff"/><stop offset="0.447" stop-color="#8d12ff"/><stop offset="0.728" stop-color="#d10cff"/><stop offset="0.991" stop-color="#ed03f7"/></linearGradient><linearGradient id="c153"><stop offset="0.009" stop-color="#115eff"/><stop offset="0.179" stop-color="#203cff"/><stop offset="0.443" stop-color="#8810ff"/><stop offset="0.708" stop-color="#c70bff"/><stop offset="0.991" stop-color="#ea03fb"/></linearGradient><linearGradient id="c154"><stop offset="0.010" stop-color="#1058ff"/><stop offset="0.186" stop-color="#2134ff"/><stop offset="0.461" stop-color="#8b0dff"/><stop offset="0.775" stop-color="#ce09ff"/><stop offset="0.990" stop-color="#e703fd"/></linearGradient><linearGradient id="c155"><stop offset="0.011" stop-color="#104dff"/><stop offset="0.181" stop-color="#222dff"/><stop offset="0.457" stop-color="#860cff"/><stop offset="0.755" stop-color="#c409ff"/><stop offset="0.989" stop-color="#e203ff"/></linearGradient><linearGradient id="c156"><stop offset="0.011" stop-color="#0f46ff"/><stop offset="0.193" stop-color="#2326ff"/><stop offset="0.489" stop-color="#890aff"/><stop offset="0.852" stop-color="#cb06ff"/><stop offset="0.989" stop-color="#db03ff"/></linearGradient><linearGradient id="c157"><stop offset="0.012" stop-color="#0f3aff"/><stop offset="0.183" stop-color="#251fff"/><stop offset="0.549" stop-color="#9709ff"/><stop offset="0.988" stop-color="#d503ff"/></linearGradient><linearGradient id="c158"><stop offset="0.014" stop-color="#0f2eff"/><stop offset="0.203" stop-color="#2e17ff"/><stop offset="0.581" stop-color="#9908ff"/><stop offset="0.986" stop-color="#cd03ff"/></linearGradient><linearGradient id="c159"><stop offset="0.015" stop-color="#1023ff"/><stop offset="0.221" stop-color="#3911ff"/><stop offset="0.603" stop-color="#9a07ff"/><stop offset="0.985" stop-color="#c703ff"/></linearGradient><linearGradient id="c160"><stop offset="0.016" stop-color="#101dff"/><stop offset="0.242" stop-color="#3b0eff"/><stop offset="0.629" stop-color="#9607ff"/><stop offset="0.984" stop-color="#be03ff"/></linearGradient><linearGradient id="c161"><stop offset="0.018" stop-color="#1316ff"/><stop offset="0.661" stop-color="#9706ff"/><stop offset="0.982" stop-color="#b803ff"/></linearGradient><linearGradient id="c162"><stop offset="0.021" stop-color="#1810ff"/><stop offset="0.688" stop-color="#9405ff"/><stop offset="0.979" stop-color="#af03ff"/></linearGradient><linearGradient id="c163"><stop offset="0.024" stop-color="#200cff"/><stop offset="0.690" stop-color="#9004ff"/><stop offset="0.976" stop-color="#a802ff"/></linearGradient><linearGradient id="c164"><stop offset="0.031" stop-color="#3308ff"/><stop offset="0.719" stop-color="#8c03ff"/><stop offset="0.969" stop-color="#9e02ff"/></linearGradient><linearGradient id="c165"><stop offset="0.042" stop-color="#3e06ff"/><stop offset="0.875" stop-color="#8d03ff"/><stop offset="0.958" stop-color="#9202ff"/></linearGradient><linearGradient id="c166"><stop offset="0.056" stop-color="#4905ff"/><stop offset="0.944" stop-color="#8902ff"/></linearGradient><linearGradient id="c167"><stop offset="0.125" stop-color="#5d03ff"/><stop offset="0.875" stop-color="#7602ff"/></linearGradient><linearGradient id="trajg" gradientUnits="userSpaceOnUse" x1="304" y1="120" x2="366" y2="104"><stop offset="0" stop-color="#3a3f8a"/><stop offset="0.55" stop-color="#4a5088"/><stop offset="0.78" stop-color="#c0d848"/><stop offset="1" stop-color="#f0a040"/></linearGradient><linearGradient id="eb0"><stop offset="0" stop-color="#f4fff4"/><stop offset="1" stop-color="#38e048"/></linearGradient><linearGradient id="eb1"><stop offset="0" stop-color="#ffffff"/><stop offset="1" stop-color="#3a5f9e"/></linearGradient><linearGradient id="eb2"><stop offset="0" stop-color="#fdf2ee"/><stop offset="1" stop-color="#ee5e3e"/></linearGradient><linearGradient id="eb3"><stop offset="0" stop-color="#d8fff0"/><stop offset="1" stop-color="#58e8b4"/></linearGradient><linearGradient id="eb4"><stop offset="0" stop-color="#a0dcf0"/><stop offset="1" stop-color="#4aaad8"/></linearGradient><linearGradient id="eb5"><stop offset="0" stop-color="#ffffff"/><stop offset="1" stop-color="#c8f0f8"/></linearGradient><linearGradient id="f0"><stop offset="0.003" stop-color="#0c04fc"/><stop offset="0.080" stop-color="#0c04fc"/><stop offset="0.092" stop-color="#1e1df6"/><stop offset="0.098" stop-color="#2338f1"/><stop offset="0.104" stop-color="#2640f0"/><stop offset="0.109" stop-color="#3765f0"/><stop offset="0.115" stop-color="#3b6df0"/><stop offset="0.127" stop-color="#53a6f0"/><stop offset="0.133" stop-color="#55adf0"/><stop offset="0.139" stop-color="#63c9f4"/><stop offset="0.145" stop-color="#66d2f5"/><stop offset="0.151" stop-color="#78fcfa"/><stop offset="0.198" stop-color="#53f0bd"/><stop offset="0.234" stop-color="#42f08e"/><stop offset="0.251" stop-color="#45f078"/><stop offset="0.364" stop-color="#44f07f"/><stop offset="0.388" stop-color="#46f0a9"/><stop offset="0.470" stop-color="#6df7e7"/><stop offset="0.553" stop-color="#75f5f9"/><stop offset="0.559" stop-color="#68d6f5"/><stop offset="0.583" stop-color="#62c7f3"/><stop offset="0.589" stop-color="#56aff1"/><stop offset="0.624" stop-color="#52a4f0"/><stop offset="0.630" stop-color="#4a8cf0"/><stop offset="0.672" stop-color="#4583f0"/><stop offset="0.678" stop-color="#3a6df0"/><stop offset="0.725" stop-color="#3561f0"/><stop offset="0.731" stop-color="#2743f0"/><stop offset="0.772" stop-color="#2337f1"/><stop offset="0.778" stop-color="#1f21f5"/><stop offset="0.896" stop-color="#1915f8"/><stop offset="0.902" stop-color="#0d05fc"/><stop offset="0.997" stop-color="#0c04fc"/></linearGradient><linearGradient id="f2"><stop offset="0.003" stop-color="#0c04fc"/><stop offset="0.080" stop-color="#0c04fc"/><stop offset="0.092" stop-color="#1e1ef6"/><stop offset="0.098" stop-color="#2339f1"/><stop offset="0.104" stop-color="#2640f0"/><stop offset="0.115" stop-color="#4583f0"/><stop offset="0.121" stop-color="#498af0"/><stop offset="0.127" stop-color="#53a7f0"/><stop offset="0.133" stop-color="#56aef0"/><stop offset="0.139" stop-color="#63caf4"/><stop offset="0.145" stop-color="#67d3f5"/><stop offset="0.151" stop-color="#77fcf9"/><stop offset="0.204" stop-color="#4ff0b7"/><stop offset="0.234" stop-color="#42f08e"/><stop offset="0.251" stop-color="#45f078"/><stop offset="0.364" stop-color="#44f07f"/><stop offset="0.388" stop-color="#46f0a9"/><stop offset="0.470" stop-color="#6df7e7"/><stop offset="0.553" stop-color="#75f5f9"/><stop offset="0.559" stop-color="#68d6f5"/><stop offset="0.583" stop-color="#62c7f3"/><stop offset="0.589" stop-color="#56aff1"/><stop offset="0.624" stop-color="#52a4f0"/><stop offset="0.630" stop-color="#4a8cf0"/><stop offset="0.672" stop-color="#4583f0"/><stop offset="0.678" stop-color="#3a6df0"/><stop offset="0.725" stop-color="#3561f0"/><stop offset="0.731" stop-color="#2743f0"/><stop offset="0.772" stop-color="#2337f1"/><stop offset="0.778" stop-color="#1f21f5"/><stop offset="0.896" stop-color="#1915f8"/><stop offset="0.902" stop-color="#0d05fc"/><stop offset="0.997" stop-color="#0c04fc"/></linearGradient><linearGradient id="f4"><stop offset="0.003" stop-color="#0c04fc"/><stop offset="0.080" stop-color="#0c04fc"/><stop offset="0.092" stop-color="#1e1ef6"/><stop offset="0.098" stop-color="#243af0"/><stop offset="0.104" stop-color="#2641f0"/><stop offset="0.115" stop-color="#4683f0"/><stop offset="0.121" stop-color="#498af0"/><stop offset="0.127" stop-color="#53a8f0"/><stop offset="0.133" stop-color="#56aef1"/><stop offset="0.139" stop-color="#63caf4"/><stop offset="0.145" stop-color="#67d4f5"/><stop offset="0.151" stop-color="#76fbf7"/><stop offset="0.216" stop-color="#47f0ab"/><stop offset="0.234" stop-color="#42f08e"/><stop offset="0.251" stop-color="#45f078"/><stop offset="0.364" stop-color="#44f07f"/><stop offset="0.388" stop-color="#46f0a9"/><stop offset="0.470" stop-color="#6df7e7"/><stop offset="0.553" stop-color="#75f5f9"/><stop offset="0.559" stop-color="#68d6f5"/><stop offset="0.583" stop-color="#62c7f3"/><stop offset="0.589" stop-color="#56aff1"/><stop offset="0.624" stop-color="#52a4f0"/><stop offset="0.630" stop-color="#4a8cf0"/><stop offset="0.672" stop-color="#4583f0"/><stop offset="0.678" stop-color="#3a6df0"/><stop offset="0.725" stop-color="#3561f0"/><stop offset="0.731" stop-color="#2742f0"/><stop offset="0.772" stop-color="#2337f1"/><stop offset="0.778" stop-color="#1f21f5"/><stop offset="0.896" stop-color="#1915f8"/><stop offset="0.902" stop-color="#0d05fc"/><stop offset="0.997" stop-color="#0c04fc"/></linearGradient><linearGradient id="f6"><stop offset="0.003" stop-color="#0c04fc"/><stop offset="0.080" stop-color="#0c04fc"/><stop offset="0.092" stop-color="#1f1ff5"/><stop offset="0.098" stop-color="#243af0"/><stop offset="0.104" stop-color="#2742f0"/><stop offset="0.115" stop-color="#4684f0"/><stop offset="0.121" stop-color="#498bf0"/><stop offset="0.127" stop-color="#54a9f0"/><stop offset="0.133" stop-color="#56aff1"/><stop offset="0.139" stop-color="#63cbf4"/><stop offset="0.145" stop-color="#68d5f5"/><stop offset="0.151" stop-color="#76fbf6"/><stop offset="0.234" stop-color="#42f08e"/><stop offset="0.251" stop-color="#45f078"/><stop offset="0.364" stop-color="#44f07f"/><stop offset="0.388" stop-color="#46f0a9"/><stop offset="0.470" stop-color="#6df7e7"/><stop offset="0.553" stop-color="#75f5f9"/><stop offset="0.559" stop-color="#68d6f5"/><stop offset="0.583" stop-color="#62c7f3"/><stop offset="0.589" stop-color="#56aff1"/><stop offset="0.624" stop-color="#52a4f0"/><stop offset="0.630" stop-color="#498cf0"/><stop offset="0.672" stop-color="#4582f0"/><stop offset="0.678" stop-color="#3a6cf0"/><stop offset="0.725" stop-color="#3561f0"/><stop offset="0.731" stop-color="#2742f0"/><stop offset="0.772" stop-color="#2337f1"/><stop offset="0.778" stop-color="#1f21f5"/><stop offset="0.896" stop-color="#1915f8"/><stop offset="0.902" stop-color="#0d05fc"/><stop offset="0.997" stop-color="#0c04fc"/></linearGradient><linearGradient id="f8"><stop offset="0.003" stop-color="#0c04fc"/><stop offset="0.080" stop-color="#0c04fc"/><stop offset="0.092" stop-color="#1f20f5"/><stop offset="0.098" stop-color="#243bf0"/><stop offset="0.104" stop-color="#2743f0"/><stop offset="0.115" stop-color="#4685f0"/><stop offset="0.121" stop-color="#498cf0"/><stop offset="0.127" stop-color="#54a9f0"/><stop offset="0.133" stop-color="#57aff1"/><stop offset="0.139" stop-color="#64cbf4"/><stop offset="0.145" stop-color="#68d6f5"/><stop offset="0.151" stop-color="#75fbf5"/><stop offset="0.234" stop-color="#42f08e"/><stop offset="0.251" stop-color="#45f078"/><stop offset="0.364" stop-color="#44f07f"/><stop offset="0.388" stop-color="#46f0a9"/><stop offset="0.470" stop-color="#6df6e7"/><stop offset="0.553" stop-color="#75f5f9"/><stop offset="0.559" stop-color="#68d6f5"/><stop offset="0.583" stop-color="#62c7f3"/><stop offset="0.589" stop-color="#56aff1"/><stop offset="0.618" stop-color="#53a6f0"/><stop offset="0.624" stop-color="#4a8ef0"/><stop offset="0.666" stop-color="#4684f0"/><stop offset="0.672" stop-color="#3b6ef0"/><stop offset="0.725" stop-color="#3561f0"/><stop offset="0.731" stop-color="#2742f0"/><stop offset="0.772" stop-color="#2337f1"/><stop offset="0.778" stop-color="#1f21f5"/><stop offset="0.896" stop-color="#1915f8"/><stop offset="0.902" stop-color="#0d05fc"/><stop offset="0.997" stop-color="#0c04fc"/></linearGradient><linearGradient id="f10"><stop offset="0.003" stop-color="#0c04fc"/><stop offset="0.080" stop-color="#0c04fc"/><stop offset="0.092" stop-color="#1f20f5"/><stop offset="0.104" stop-color="#3560f0"/><stop offset="0.109" stop-color="#3969f0"/><stop offset="0.115" stop-color="#4785f0"/><stop offset="0.121" stop-color="#4a8df0"/><stop offset="0.133" stop-color="#61c6f3"/><stop offset="0.139" stop-color="#64ccf4"/><stop offset="0.145" stop-color="#71ecf8"/><stop offset="0.157" stop-color="#71f9ee"/><stop offset="0.234" stop-color="#42f08e"/><stop offset="0.251" stop-color="#45f078"/><stop offset="0.364" stop-color="#44f07f"/><stop offset="0.388" stop-color="#46f0a9"/><stop offset="0.470" stop-color="#6df6e7"/><stop offset="0.553" stop-color="#75f5f9"/><stop offset="0.559" stop-color="#68d6f5"/><stop offset="0.583" stop-color="#62c7f3"/><stop offset="0.589" stop-color="#56aff1"/><stop offset="0.618" stop-color="#53a6f0"/><stop offset="0.624" stop-color="#4a8ef0"/><stop offset="0.666" stop-color="#4683f0"/><stop offset="0.672" stop-color="#3b6df0"/><stop offset="0.725" stop-color="#3560f0"/><stop offset="0.731" stop-color="#2742f0"/><stop offset="0.772" stop-color="#2337f1"/><stop offset="0.778" stop-color="#1f21f5"/><stop offset="0.896" stop-color="#1915f8"/><stop offset="0.902" stop-color="#0d05fc"/><stop offset="0.997" stop-color="#0c04fc"/></linearGradient><linearGradient id="f12"><stop offset="0.003" stop-color="#0c04fc"/><stop offset="0.080" stop-color="#0c04fc"/><stop offset="0.092" stop-color="#1f21f5"/><stop offset="0.104" stop-color="#3561f0"/><stop offset="0.109" stop-color="#396af0"/><stop offset="0.115" stop-color="#4786f0"/><stop offset="0.121" stop-color="#4a8df0"/><stop offset="0.133" stop-color="#62c7f3"/><stop offset="0.139" stop-color="#65cdf4"/><stop offset="0.145" stop-color="#73f0f8"/><stop offset="0.157" stop-color="#71f8ed"/><stop offset="0.228" stop-color="#40f09d"/><stop offset="0.246" stop-color="#45f078"/><stop offset="0.364" stop-color="#44f07f"/><stop offset="0.388" stop-color="#46f0a9"/><stop offset="0.470" stop-color="#6df6e7"/><stop offset="0.553" stop-color="#75f5f9"/><stop offset="0.559" stop-color="#68d6f5"/><stop offset="0.583" stop-color="#62c7f3"/><stop offset="0.589" stop-color="#56aff1"/><stop offset="0.618" stop-color="#52a6f0"/><stop offset="0.624" stop-color="#4a8ef0"/><stop offset="0.666" stop-color="#4683f0"/><stop offset="0.672" stop-color="#3b6df0"/><stop offset="0.725" stop-color="#3560f0"/><stop offset="0.731" stop-color="#2742f0"/><stop offset="0.772" stop-color="#2337f1"/><stop offset="0.778" stop-color="#1f21f5"/><stop offset="0.896" stop-color="#1915f8"/><stop offset="0.908" stop-color="#0d05fc"/><stop offset="0.997" stop-color="#0c04fc"/></linearGradient><linearGradient id="f14"><stop offset="0.003" stop-color="#0c04fc"/><stop offset="0.080" stop-color="#0d05fc"/><stop offset="0.092" stop-color="#1f22f5"/><stop offset="0.104" stop-color="#3562f0"/><stop offset="0.109" stop-color="#396bf0"/><stop offset="0.121" stop-color="#52a4f0"/><stop offset="0.127" stop-color="#55abf0"/><stop offset="0.133" stop-color="#62c7f3"/><stop offset="0.139" stop-color="#65cef4"/><stop offset="0.145" stop-color="#74f3f9"/><stop offset="0.228" stop-color="#40f09d"/><stop offset="0.246" stop-color="#45f077"/><stop offset="0.364" stop-color="#44f07e"/><stop offset="0.388" stop-color="#46f0a9"/><stop offset="0.470" stop-color="#6df6e6"/><stop offset="0.553" stop-color="#75f5f9"/><stop offset="0.559" stop-color="#68d6f5"/><stop offset="0.583" stop-color="#62c7f3"/><stop offset="0.589" stop-color="#56aff1"/><stop offset="0.618" stop-color="#52a6f0"/><stop offset="0.624" stop-color="#4a8ef0"/><stop offset="0.666" stop-color="#4683f0"/><stop offset="0.672" stop-color="#3b6df0"/><stop offset="0.719" stop-color="#3562f0"/><stop offset="0.725" stop-color="#2744f0"/><stop offset="0.772" stop-color="#2337f1"/><stop offset="0.778" stop-color="#1f21f5"/><stop offset="0.896" stop-color="#1915f8"/><stop offset="0.908" stop-color="#0d05fc"/><stop offset="0.997" stop-color="#0c04fc"/></linearGradient><linearGradient id="f16"><stop offset="0.003" stop-color="#0c04fc"/><stop offset="0.080" stop-color="#0d05fc"/><stop offset="0.092" stop-color="#2337f1"/><stop offset="0.098" stop-color="#253ef0"/><stop offset="0.104" stop-color="#3663f0"/><stop offset="0.109" stop-color="#3a6cf0"/><stop offset="0.121" stop-color="#52a5f0"/><stop offset="0.127" stop-color="#55acf0"/><stop offset="0.133" stop-color="#62c8f4"/><stop offset="0.139" stop-color="#65cff4"/><stop offset="0.145" stop-color="#75f6f9"/><stop offset="0.228" stop-color="#40f09c"/><stop offset="0.246" stop-color="#45f077"/><stop offset="0.364" stop-color="#44f07e"/><stop offset="0.388" stop-color="#46f0a9"/><stop offset="0.470" stop-color="#6df6e6"/><stop offset="0.553" stop-color="#75f5f9"/><stop offset="0.559" stop-color="#68d6f5"/><stop offset="0.583" stop-color="#62c7f3"/><stop offset="0.589" stop-color="#56aff1"/><stop offset="0.618" stop-color="#52a6f0"/><stop offset="0.624" stop-color="#4a8ef0"/><stop offset="0.666" stop-color="#4683f0"/><stop offset="0.672" stop-color="#3b6df0"/><stop offset="0.719" stop-color="#3562f0"/><stop offset="0.725" stop-color="#2743f0"/><stop offset="0.772" stop-color="#2337f1"/><stop offset="0.778" stop-color="#1f21f5"/><stop offset="0.896" stop-color="#1915f8"/><stop offset="0.908" stop-color="#0d05fc"/><stop offset="0.997" stop-color="#0c04fc"/></linearGradient><linearGradient id="f18"><stop offset="0.003" stop-color="#0c04fc"/><stop offset="0.080" stop-color="#0d05fc"/><stop offset="0.092" stop-color="#2338f1"/><stop offset="0.098" stop-color="#253ff0"/><stop offset="0.104" stop-color="#3664f0"/><stop offset="0.109" stop-color="#3a6cf0"/><stop offset="0.121" stop-color="#52a6f0"/><stop offset="0.127" stop-color="#55acf0"/><stop offset="0.133" stop-color="#62c8f4"/><stop offset="0.139" stop-color="#66d1f5"/><stop offset="0.145" stop-color="#77f9fa"/><stop offset="0.228" stop-color="#41f09b"/><stop offset="0.246" stop-color="#45f076"/><stop offset="0.364" stop-color="#44f07d"/><stop offset="0.388" stop-color="#46f0a8"/><stop offset="0.470" stop-color="#6df6e6"/><stop offset="0.553" stop-color="#75f5f9"/><stop offset="0.559" stop-color="#68d6f5"/><stop offset="0.583" stop-color="#62c7f3"/><stop offset="0.589" stop-color="#56aff1"/><stop offset="0.618" stop-color="#52a6f0"/><stop offset="0.624" stop-color="#4a8ef0"/><stop offset="0.666" stop-color="#4683f0"/><stop offset="0.672" stop-color="#3b6df0"/><stop offset="0.719" stop-color="#3562f0"/><stop offset="0.725" stop-color="#2743f0"/><stop offset="0.772" stop-color="#2337f1"/><stop offset="0.778" stop-color="#1f21f5"/><stop offset="0.896" stop-color="#1915f8"/><stop offset="0.908" stop-color="#0d05fc"/><stop offset="0.997" stop-color="#0c04fc"/></linearGradient><linearGradient id="f20"><stop offset="0.003" stop-color="#0c04fc"/><stop offset="0.074" stop-color="#0c04fc"/><stop offset="0.086" stop-color="#1e1df6"/><stop offset="0.092" stop-color="#2338f1"/><stop offset="0.098" stop-color="#263ff0"/><stop offset="0.104" stop-color="#3765f0"/><stop offset="0.109" stop-color="#3a6df0"/><stop offset="0.121" stop-color="#53a6f0"/><stop offset="0.127" stop-color="#55adf0"/><stop offset="0.133" stop-color="#63c9f4"/><stop offset="0.139" stop-color="#66d2f5"/><stop offset="0.145" stop-color="#78fcfa"/><stop offset="0.228" stop-color="#41f099"/><stop offset="0.246" stop-color="#45f073"/><stop offset="0.364" stop-color="#44f07c"/><stop offset="0.388" stop-color="#45f0a8"/><stop offset="0.470" stop-color="#6df6e6"/><stop offset="0.553" stop-color="#75f5f9"/><stop offset="0.559" stop-color="#68d6f5"/><stop offset="0.583" stop-color="#62c7f3"/><stop offset="0.589" stop-color="#56aff1"/><stop offset="0.618" stop-color="#52a5f0"/><stop offset="0.624" stop-color="#4a8ef0"/><stop offset="0.666" stop-color="#4683f0"/><stop offset="0.672" stop-color="#3a6df0"/><stop offset="0.719" stop-color="#3562f0"/><stop offset="0.725" stop-color="#2743f0"/><stop offset="0.772" stop-color="#2337f1"/><stop offset="0.778" stop-color="#1f21f5"/><stop offset="0.896" stop-color="#1914f8"/><stop offset="0.908" stop-color="#0d05fc"/><stop offset="0.997" stop-color="#0c04fc"/></linearGradient><linearGradient id="f22"><stop offset="0.003" stop-color="#0c04fc"/><stop offset="0.074" stop-color="#0c04fc"/><stop offset="0.086" stop-color="#1e1ef6"/><stop offset="0.092" stop-color="#2339f1"/><stop offset="0.098" stop-color="#2640f0"/><stop offset="0.104" stop-color="#3766f0"/><stop offset="0.109" stop-color="#3b6ef0"/><stop offset="0.121" stop-color="#53a7f0"/><stop offset="0.127" stop-color="#56aef0"/><stop offset="0.133" stop-color="#63caf4"/><stop offset="0.139" stop-color="#67d3f5"/><stop offset="0.145" stop-color="#77fcf9"/><stop offset="0.228" stop-color="#41f095"/><stop offset="0.246" stop-color="#46f06f"/><stop offset="0.358" stop-color="#45f072"/><stop offset="0.388" stop-color="#45f0a7"/><stop offset="0.464" stop-color="#6cf6e4"/><stop offset="0.553" stop-color="#75f5f9"/><stop offset="0.559" stop-color="#68d6f5"/><stop offset="0.583" stop-color="#62c7f3"/><stop offset="0.589" stop-color="#56aff1"/><stop offset="0.618" stop-color="#52a5f0"/><stop offset="0.624" stop-color="#4a8df0"/><stop offset="0.666" stop-color="#4583f0"/><stop offset="0.672" stop-color="#3a6df0"/><stop offset="0.719" stop-color="#3562f0"/><stop offset="0.725" stop-color="#2743f0"/><stop offset="0.772" stop-color="#2337f1"/><stop offset="0.778" stop-color="#1f21f5"/><stop offset="0.896" stop-color="#1814f8"/><stop offset="0.908" stop-color="#0d05fc"/><stop offset="0.997" stop-color="#0c04fc"/></linearGradient><linearGradient id="f24"><stop offset="0.003" stop-color="#0c04fc"/><stop offset="0.074" stop-color="#0c04fc"/><stop offset="0.086" stop-color="#1e1ef6"/><stop offset="0.092" stop-color="#2439f0"/><stop offset="0.098" stop-color="#2641f0"/><stop offset="0.109" stop-color="#4683f0"/><stop offset="0.115" stop-color="#498af0"/><stop offset="0.121" stop-color="#53a8f0"/><stop offset="0.127" stop-color="#56aef0"/><stop offset="0.133" stop-color="#63caf4"/><stop offset="0.139" stop-color="#67d4f5"/><stop offset="0.145" stop-color="#77fbf8"/><stop offset="0.222" stop-color="#40f09e"/><stop offset="0.246" stop-color="#46f068"/><stop offset="0.358" stop-color="#46f06d"/><stop offset="0.388" stop-color="#44f0a6"/><stop offset="0.464" stop-color="#6cf6e4"/><stop offset="0.553" stop-color="#75f5f9"/><stop offset="0.559" stop-color="#68d6f5"/><stop offset="0.583" stop-color="#62c7f3"/><stop offset="0.589" stop-color="#56aff1"/><stop offset="0.618" stop-color="#52a5f0"/><stop offset="0.624" stop-color="#4a8df0"/><stop offset="0.666" stop-color="#4583f0"/><stop offset="0.672" stop-color="#3a6df0"/><stop offset="0.719" stop-color="#3561f0"/><stop offset="0.725" stop-color="#2743f0"/><stop offset="0.772" stop-color="#2337f1"/><stop offset="0.778" stop-color="#1f21f5"/><stop offset="0.896" stop-color="#1814f8"/><stop offset="0.908" stop-color="#0d05fc"/><stop offset="0.997" stop-color="#0c04fc"/></linearGradient><linearGradient id="f26"><stop offset="0.003" stop-color="#0c04fc"/><stop offset="0.074" stop-color="#0c04fc"/><stop offset="0.086" stop-color="#1f1ff5"/><stop offset="0.092" stop-color="#243af0"/><stop offset="0.098" stop-color="#2742f0"/><stop offset="0.109" stop-color="#4684f0"/><stop offset="0.115" stop-color="#498bf0"/><stop offset="0.121" stop-color="#53a8f0"/><stop offset="0.127" stop-color="#56aff1"/><stop offset="0.133" stop-color="#63cbf4"/><stop offset="0.139" stop-color="#68d5f5"/><stop offset="0.145" stop-color="#76fbf6"/><stop offset="0.222" stop-color="#42f093"/><stop offset="0.246" stop-color="#48f05d"/><stop offset="0.334" stop-color="#48f05b"/><stop offset="0.364" stop-color="#46f06c"/><stop offset="0.393" stop-color="#46f0a9"/><stop offset="0.464" stop-color="#6bf6e4"/><stop offset="0.553" stop-color="#75f5f9"/><stop offset="0.559" stop-color="#68d6f5"/><stop offset="0.583" stop-color="#62c7f3"/><stop offset="0.589" stop-color="#56aff1"/><stop offset="0.618" stop-color="#52a5f0"/><stop offset="0.624" stop-color="#4a8df0"/><stop offset="0.666" stop-color="#4583f0"/><stop offset="0.672" stop-color="#3a6df0"/><stop offset="0.719" stop-color="#3561f0"/><stop offset="0.725" stop-color="#2743f0"/><stop offset="0.772" stop-color="#2337f1"/><stop offset="0.778" stop-color="#1f21f5"/><stop offset="0.891" stop-color="#1915f8"/><stop offset="0.896" stop-color="#0d05fc"/><stop offset="0.997" stop-color="#0c04fc"/></linearGradient><linearGradient id="f28"><stop offset="0.003" stop-color="#0c04fc"/><stop offset="0.074" stop-color="#0c04fc"/><stop offset="0.086" stop-color="#1f20f5"/><stop offset="0.092" stop-color="#243bf0"/><stop offset="0.098" stop-color="#2743f0"/><stop offset="0.109" stop-color="#4684f0"/><stop offset="0.115" stop-color="#498cf0"/><stop offset="0.121" stop-color="#54a9f0"/><stop offset="0.127" stop-color="#56aff1"/><stop offset="0.133" stop-color="#64cbf4"/><stop offset="0.139" stop-color="#68d6f5"/><stop offset="0.145" stop-color="#75fbf5"/><stop offset="0.216" stop-color="#42f091"/><stop offset="0.246" stop-color="#4af04b"/><stop offset="0.322" stop-color="#4af044"/><stop offset="0.364" stop-color="#48f05e"/><stop offset="0.393" stop-color="#43f0a5"/><stop offset="0.459" stop-color="#6af5e2"/><stop offset="0.553" stop-color="#75f5f9"/><stop offset="0.559" stop-color="#68d6f5"/><stop offset="0.583" stop-color="#62c7f3"/><stop offset="0.589" stop-color="#56aff1"/><stop offset="0.618" stop-color="#52a5f0"/><stop offset="0.624" stop-color="#4a8df0"/><stop offset="0.666" stop-color="#4583f0"/><stop offset="0.672" stop-color="#3a6df0"/><stop offset="0.719" stop-color="#3561f0"/><stop offset="0.725" stop-color="#2743f0"/><stop offset="0.772" stop-color="#2337f1"/><stop offset="0.778" stop-color="#1f21f5"/><stop offset="0.891" stop-color="#1915f8"/><stop offset="0.896" stop-color="#0d05fc"/><stop offset="0.997" stop-color="#0c04fc"/></linearGradient><linearGradient id="f30"><stop offset="0.003" stop-color="#0c04fc"/><stop offset="0.074" stop-color="#0c04fc"/><stop offset="0.086" stop-color="#1f20f5"/><stop offset="0.092" stop-color="#243bf0"/><stop offset="0.098" stop-color="#2744f0"/><stop offset="0.109" stop-color="#4785f0"/><stop offset="0.115" stop-color="#4a8cf0"/><stop offset="0.121" stop-color="#54aaf0"/><stop offset="0.127" stop-color="#57b0f1"/><stop offset="0.133" stop-color="#64ccf4"/><stop offset="0.139" stop-color="#69d7f5"/><stop offset="0.145" stop-color="#75faf4"/><stop offset="0.163" stop-color="#6af5e2"/><stop offset="0.192" stop-color="#49f0ad"/><stop offset="0.210" stop-color="#43f088"/><stop offset="0.246" stop-color="#4cf035"/><stop offset="0.317" stop-color="#4df02b"/><stop offset="0.364" stop-color="#4af04a"/><stop offset="0.399" stop-color="#44f0a5"/><stop offset="0.459" stop-color="#6af5e2"/><stop offset="0.553" stop-color="#75f5f9"/><stop offset="0.559" stop-color="#68d6f5"/><stop offset="0.583" stop-color="#62c7f3"/><stop offset="0.589" stop-color="#56aef1"/><stop offset="0.618" stop-color="#52a5f0"/><stop offset="0.624" stop-color="#4a8df0"/><stop offset="0.666" stop-color="#4583f0"/><stop offset="0.672" stop-color="#3a6df0"/><stop offset="0.719" stop-color="#3561f0"/><stop offset="0.725" stop-color="#2742f0"/><stop offset="0.772" stop-color="#2337f1"/><stop offset="0.778" stop-color="#1f21f5"/><stop offset="0.891" stop-color="#1915f8"/><stop offset="0.896" stop-color="#0d05fc"/><stop offset="0.997" stop-color="#0c04fc"/></linearGradient><linearGradient id="f32"><stop offset="0.003" stop-color="#0c04fc"/><stop offset="0.074" stop-color="#0c04fc"/><stop offset="0.086" stop-color="#1f21f5"/><stop offset="0.098" stop-color="#3561f0"/><stop offset="0.104" stop-color="#396af0"/><stop offset="0.109" stop-color="#4786f0"/><stop offset="0.115" stop-color="#4a8df0"/><stop offset="0.127" stop-color="#61c7f3"/><stop offset="0.133" stop-color="#64cdf4"/><stop offset="0.139" stop-color="#72eff8"/><stop offset="0.151" stop-color="#71f8ed"/><stop offset="0.163" stop-color="#68f4de"/><stop offset="0.175" stop-color="#53f0bd"/><stop offset="0.192" stop-color="#40f0a0"/><stop offset="0.228" stop-color="#4cf03b"/><stop offset="0.251" stop-color="#4ff01b"/><stop offset="0.340" stop-color="#4ff01c"/><stop offset="0.364" stop-color="#4df030"/><stop offset="0.405" stop-color="#43f0a5"/><stop offset="0.459" stop-color="#6af5e1"/><stop offset="0.553" stop-color="#75f5f9"/><stop offset="0.559" stop-color="#68d6f5"/><stop offset="0.583" stop-color="#62c7f3"/><stop offset="0.589" stop-color="#56aef1"/><stop offset="0.618" stop-color="#52a5f0"/><stop offset="0.624" stop-color="#4a8df0"/><stop offset="0.666" stop-color="#4582f0"/><stop offset="0.672" stop-color="#3a6cf0"/><stop offset="0.719" stop-color="#3561f0"/><stop offset="0.725" stop-color="#2742f0"/><stop offset="0.772" stop-color="#2337f1"/><stop offset="0.778" stop-color="#1f21f5"/><stop offset="0.891" stop-color="#1915f8"/><stop offset="0.896" stop-color="#0d05fc"/><stop offset="0.997" stop-color="#0c04fc"/></linearGradient><linearGradient id="f34"><stop offset="0.003" stop-color="#0c04fc"/><stop offset="0.074" stop-color="#0c04fc"/><stop offset="0.086" stop-color="#1f21f5"/><stop offset="0.098" stop-color="#3562f0"/><stop offset="0.104" stop-color="#396bf0"/><stop offset="0.109" stop-color="#4786f0"/><stop offset="0.115" stop-color="#4a8ef0"/><stop offset="0.127" stop-color="#62c7f3"/><stop offset="0.133" stop-color="#65cef4"/><stop offset="0.139" stop-color="#74f2f9"/><stop offset="0.163" stop-color="#65f3da"/><stop offset="0.169" stop-color="#51f0ba"/><stop offset="0.186" stop-color="#42f08b"/><stop offset="0.216" stop-color="#4cf035"/><stop offset="0.240" stop-color="#50f014"/><stop offset="0.364" stop-color="#50f016"/><stop offset="0.393" stop-color="#48f05d"/><stop offset="0.411" stop-color="#42f0a2"/><stop offset="0.459" stop-color="#69f5e0"/><stop offset="0.553" stop-color="#75f5f9"/><stop offset="0.559" stop-color="#68d6f5"/><stop offset="0.583" stop-color="#62c7f3"/><stop offset="0.589" stop-color="#56aef1"/><stop offset="0.618" stop-color="#52a5f0"/><stop offset="0.624" stop-color="#4a8df0"/><stop offset="0.660" stop-color="#4684f0"/><stop offset="0.666" stop-color="#3b6ef0"/><stop offset="0.719" stop-color="#3561f0"/><stop offset="0.725" stop-color="#2742f0"/><stop offset="0.772" stop-color="#2336f1"/><stop offset="0.778" stop-color="#1f21f5"/><stop offset="0.891" stop-color="#1915f8"/><stop offset="0.896" stop-color="#0d05fc"/><stop offset="0.997" stop-color="#0c04fc"/></linearGradient><linearGradient id="f36"><stop offset="0.003" stop-color="#0c04fc"/><stop offset="0.074" stop-color="#0d05fc"/><stop offset="0.086" stop-color="#2337f1"/><stop offset="0.092" stop-color="#253df0"/><stop offset="0.098" stop-color="#3663f0"/><stop offset="0.104" stop-color="#3a6bf0"/><stop offset="0.115" stop-color="#52a5f0"/><stop offset="0.121" stop-color="#55acf0"/><stop offset="0.127" stop-color="#62c8f3"/><stop offset="0.133" stop-color="#65cff4"/><stop offset="0.139" stop-color="#75f5f9"/><stop offset="0.157" stop-color="#6df6e6"/><stop offset="0.163" stop-color="#63f1d5"/><stop offset="0.169" stop-color="#46f0a9"/><stop offset="0.192" stop-color="#4af04c"/><stop offset="0.222" stop-color="#50f014"/><stop offset="0.382" stop-color="#4ff01b"/><stop offset="0.399" stop-color="#4af04d"/><stop offset="0.417" stop-color="#40f09d"/><stop offset="0.459" stop-color="#68f4de"/><stop offset="0.553" stop-color="#75f5f9"/><stop offset="0.559" stop-color="#68d6f5"/><stop offset="0.583" stop-color="#62c7f3"/><stop offset="0.589" stop-color="#56aef1"/><stop offset="0.618" stop-color="#52a5f0"/><stop offset="0.624" stop-color="#4a8df0"/><stop offset="0.660" stop-color="#4684f0"/><stop offset="0.666" stop-color="#3b6df0"/><stop offset="0.719" stop-color="#3560f0"/><stop offset="0.725" stop-color="#2742f0"/><stop offset="0.772" stop-color="#2336f1"/><stop offset="0.778" stop-color="#1f21f5"/><stop offset="0.891" stop-color="#1915f8"/><stop offset="0.896" stop-color="#0d05fc"/><stop offset="0.997" stop-color="#0c04fc"/></linearGradient><linearGradient id="f38"><stop offset="0.003" stop-color="#0c04fc"/><stop offset="0.074" stop-color="#0d05fc"/><stop offset="0.086" stop-color="#2337f1"/><stop offset="0.092" stop-color="#253ef0"/><stop offset="0.098" stop-color="#3664f0"/><stop offset="0.104" stop-color="#3a6cf0"/><stop offset="0.115" stop-color="#52a5f0"/><stop offset="0.121" stop-color="#55acf0"/><stop offset="0.127" stop-color="#62c8f4"/><stop offset="0.133" stop-color="#66d0f5"/><stop offset="0.139" stop-color="#76f8fa"/><stop offset="0.157" stop-color="#6cf6e6"/><stop offset="0.163" stop-color="#60f0d1"/><stop offset="0.169" stop-color="#43f088"/><stop offset="0.186" stop-color="#4cf036"/><stop offset="0.204" stop-color="#50f014"/><stop offset="0.393" stop-color="#50f016"/><stop offset="0.429" stop-color="#44f0a6"/><stop offset="0.459" stop-color="#66f3db"/><stop offset="0.553" stop-color="#75f5f9"/><stop offset="0.559" stop-color="#68d5f5"/><stop offset="0.583" stop-color="#61c7f3"/><stop offset="0.589" stop-color="#56aef1"/><stop offset="0.618" stop-color="#52a5f0"/><stop offset="0.624" stop-color="#4a8df0"/><stop offset="0.660" stop-color="#4683f0"/><stop offset="0.666" stop-color="#3b6df0"/><stop offset="0.719" stop-color="#3560f0"/><stop offset="0.725" stop-color="#2742f0"/><stop offset="0.766" stop-color="#2338f1"/><stop offset="0.772" stop-color="#1f22f5"/><stop offset="0.891" stop-color="#1915f8"/><stop offset="0.896" stop-color="#0d05fc"/><stop offset="0.997" stop-color="#0c04fc"/></linearGradient><linearGradient id="f40"><stop offset="0.003" stop-color="#0c04fc"/><stop offset="0.068" stop-color="#0c04fc"/><stop offset="0.080" stop-color="#1e1df6"/><stop offset="0.086" stop-color="#2338f1"/><stop offset="0.092" stop-color="#253ff0"/><stop offset="0.098" stop-color="#3765f0"/><stop offset="0.104" stop-color="#3a6df0"/><stop offset="0.115" stop-color="#53a6f0"/><stop offset="0.121" stop-color="#55adf0"/><stop offset="0.127" stop-color="#63c9f4"/><stop offset="0.133" stop-color="#66d1f5"/><stop offset="0.139" stop-color="#78fbfa"/><stop offset="0.157" stop-color="#6cf6e5"/><stop offset="0.163" stop-color="#5df0cb"/><stop offset="0.169" stop-color="#45f072"/><stop offset="0.175" stop-color="#4bf044"/><stop offset="0.186" stop-color="#50f018"/><stop offset="0.399" stop-color="#50f014"/><stop offset="0.417" stop-color="#49f052"/><stop offset="0.435" stop-color="#43f0a4"/><stop offset="0.464" stop-color="#66f3db"/><stop offset="0.553" stop-color="#75f5f9"/><stop offset="0.559" stop-color="#68d5f5"/><stop offset="0.583" stop-color="#61c7f3"/><stop offset="0.589" stop-color="#56aef1"/><stop offset="0.618" stop-color="#52a5f0"/><stop offset="0.624" stop-color="#4a8df0"/><stop offset="0.660" stop-color="#4683f0"/><stop offset="0.666" stop-color="#3b6df0"/><stop offset="0.713" stop-color="#3562f0"/><stop offset="0.719" stop-color="#2744f0"/><stop offset="0.766" stop-color="#2338f1"/><stop offset="0.772" stop-color="#1f22f5"/><stop offset="0.891" stop-color="#1915f8"/><stop offset="0.902" stop-color="#0d05fc"/><stop offset="0.997" stop-color="#0c04fc"/></linearGradient><linearGradient id="f42"><stop offset="0.003" stop-color="#0c04fc"/><stop offset="0.068" stop-color="#0c04fc"/><stop offset="0.080" stop-color="#1e1ef6"/><stop offset="0.086" stop-color="#2339f1"/><stop offset="0.092" stop-color="#2640f0"/><stop offset="0.098" stop-color="#3766f0"/><stop offset="0.104" stop-color="#3b6df0"/><stop offset="0.115" stop-color="#53a7f0"/><stop offset="0.121" stop-color="#56adf0"/><stop offset="0.127" stop-color="#63c9f4"/><stop offset="0.133" stop-color="#67d2f5"/><stop offset="0.139" stop-color="#77fcf9"/><stop offset="0.157" stop-color="#6cf6e5"/><stop offset="0.163" stop-color="#59f0c5"/><stop offset="0.169" stop-color="#47f063"/><stop offset="0.175" stop-color="#4ef029"/><stop offset="0.180" stop-color="#50f014"/><stop offset="0.405" stop-color="#50f014"/><stop offset="0.423" stop-color="#4af04d"/><stop offset="0.441" stop-color="#43f0a4"/><stop offset="0.470" stop-color="#67f4dc"/><stop offset="0.553" stop-color="#75f5f9"/><stop offset="0.559" stop-color="#68d5f5"/><stop offset="0.583" stop-color="#61c7f3"/><stop offset="0.589" stop-color="#56aef0"/><stop offset="0.618" stop-color="#52a5f0"/><stop offset="0.624" stop-color="#4a8df0"/><stop offset="0.660" stop-color="#4683f0"/><stop offset="0.666" stop-color="#3b6df0"/><stop offset="0.713" stop-color="#3562f0"/><stop offset="0.719" stop-color="#2743f0"/><stop offset="0.766" stop-color="#2337f1"/><stop offset="0.772" stop-color="#1f22f5"/><stop offset="0.891" stop-color="#1915f8"/><stop offset="0.902" stop-color="#0d05fc"/><stop offset="0.997" stop-color="#0c04fc"/></linearGradient><linearGradient id="f44"><stop offset="0.003" stop-color="#0c04fc"/><stop offset="0.068" stop-color="#0c04fc"/><stop offset="0.080" stop-color="#1e1ef6"/><stop offset="0.086" stop-color="#2339f1"/><stop offset="0.092" stop-color="#2641f0"/><stop offset="0.104" stop-color="#4583f0"/><stop offset="0.109" stop-color="#498af0"/><stop offset="0.115" stop-color="#53a8f0"/><stop offset="0.121" stop-color="#56aef0"/><stop offset="0.127" stop-color="#63caf4"/><stop offset="0.133" stop-color="#67d4f5"/><stop offset="0.139" stop-color="#77fbf8"/><stop offset="0.157" stop-color="#6bf6e4"/><stop offset="0.163" stop-color="#55f0bf"/><stop offset="0.169" stop-color="#49f054"/><stop offset="0.175" stop-color="#4ff019"/><stop offset="0.411" stop-color="#50f014"/><stop offset="0.429" stop-color="#4af04c"/><stop offset="0.447" stop-color="#44f0a7"/><stop offset="0.476" stop-color="#68f4dd"/><stop offset="0.553" stop-color="#75f5f9"/><stop offset="0.559" stop-color="#68d5f5"/><stop offset="0.583" stop-color="#61c7f3"/><stop offset="0.589" stop-color="#56aef0"/><stop offset="0.618" stop-color="#52a5f0"/><stop offset="0.624" stop-color="#4a8df0"/><stop offset="0.660" stop-color="#4683f0"/><stop offset="0.666" stop-color="#3b6df0"/><stop offset="0.713" stop-color="#3562f0"/><stop offset="0.719" stop-color="#2743f0"/><stop offset="0.766" stop-color="#2337f1"/><stop offset="0.772" stop-color="#1f21f5"/><stop offset="0.891" stop-color="#1915f8"/><stop offset="0.902" stop-color="#0d05fc"/><stop offset="0.997" stop-color="#0c04fc"/></linearGradient><linearGradient id="f46"><stop offset="0.003" stop-color="#0c04fc"/><stop offset="0.068" stop-color="#0c04fc"/><stop offset="0.080" stop-color="#1f1ff5"/><stop offset="0.086" stop-color="#243af0"/><stop offset="0.092" stop-color="#2742f0"/><stop offset="0.104" stop-color="#4684f0"/><stop offset="0.109" stop-color="#498bf0"/><stop offset="0.115" stop-color="#53a8f0"/><stop offset="0.121" stop-color="#56aff1"/><stop offset="0.127" stop-color="#63cbf4"/><stop offset="0.133" stop-color="#68d5f5"/><stop offset="0.139" stop-color="#76fbf7"/><stop offset="0.157" stop-color="#6bf6e3"/><stop offset="0.163" stop-color="#51f0b9"/><stop offset="0.169" stop-color="#4af045"/><stop offset="0.175" stop-color="#50f014"/><stop offset="0.417" stop-color="#50f016"/><stop offset="0.435" stop-color="#49f055"/><stop offset="0.447" stop-color="#41f098"/><stop offset="0.476" stop-color="#65f2d9"/><stop offset="0.536" stop-color="#76fbf6"/><stop offset="0.553" stop-color="#75f5f9"/><stop offset="0.559" stop-color="#68d5f5"/><stop offset="0.583" stop-color="#61c7f3"/><stop offset="0.589" stop-color="#56aef0"/><stop offset="0.618" stop-color="#52a5f0"/><stop offset="0.624" stop-color="#4a8df0"/><stop offset="0.660" stop-color="#4683f0"/><stop offset="0.666" stop-color="#3b6df0"/><stop offset="0.713" stop-color="#3561f0"/><stop offset="0.719" stop-color="#2743f0"/><stop offset="0.766" stop-color="#2337f1"/><stop offset="0.772" stop-color="#1f21f5"/><stop offset="0.891" stop-color="#1914f8"/><stop offset="0.902" stop-color="#0d05fc"/><stop offset="0.997" stop-color="#0c04fc"/></linearGradient><linearGradient id="f48"><stop offset="0.003" stop-color="#0c04fc"/><stop offset="0.068" stop-color="#0c04fc"/><stop offset="0.080" stop-color="#1f1ff5"/><stop offset="0.086" stop-color="#243af0"/><stop offset="0.092" stop-color="#2743f0"/><stop offset="0.104" stop-color="#4684f0"/><stop offset="0.109" stop-color="#498bf0"/><stop offset="0.115" stop-color="#54a9f0"/><stop offset="0.121" stop-color="#56aff1"/><stop offset="0.127" stop-color="#64cbf4"/><stop offset="0.133" stop-color="#68d6f5"/><stop offset="0.139" stop-color="#75fbf6"/><stop offset="0.157" stop-color="#6bf5e3"/><stop offset="0.163" stop-color="#4df0b3"/><stop offset="0.169" stop-color="#4cf036"/><stop offset="0.175" stop-color="#50f014"/><stop offset="0.417" stop-color="#50f014"/><stop offset="0.435" stop-color="#4af048"/><stop offset="0.453" stop-color="#42f0a3"/><stop offset="0.488" stop-color="#6af5e2"/><stop offset="0.553" stop-color="#75f5f9"/><stop offset="0.559" stop-color="#68d5f5"/><stop offset="0.583" stop-color="#61c6f3"/><stop offset="0.589" stop-color="#56aef0"/><stop offset="0.618" stop-color="#52a5f0"/><stop offset="0.624" stop-color="#4a8df0"/><stop offset="0.660" stop-color="#4683f0"/><stop offset="0.666" stop-color="#3a6df0"/><stop offset="0.713" stop-color="#3561f0"/><stop offset="0.719" stop-color="#2743f0"/><stop offset="0.766" stop-color="#2337f1"/><stop offset="0.772" stop-color="#1f21f5"/><stop offset="0.891" stop-color="#1814f8"/><stop offset="0.902" stop-color="#0d05fc"/><stop offset="0.997" stop-color="#0c04fc"/></linearGradient><linearGradient id="f50"><stop offset="0.003" stop-color="#0c04fc"/><stop offset="0.068" stop-color="#0c04fc"/><stop offset="0.080" stop-color="#1f20f5"/><stop offset="0.086" stop-color="#243bf0"/><stop offset="0.092" stop-color="#2743f0"/><stop offset="0.104" stop-color="#4685f0"/><stop offset="0.109" stop-color="#498cf0"/><stop offset="0.115" stop-color="#54aaf0"/><stop offset="0.121" stop-color="#57b0f1"/><stop offset="0.127" stop-color="#64ccf4"/><stop offset="0.133" stop-color="#68d7f5"/><stop offset="0.139" stop-color="#75faf4"/><stop offset="0.157" stop-color="#6af5e2"/><stop offset="0.163" stop-color="#49f0ad"/><stop offset="0.169" stop-color="#4ef027"/><stop offset="0.175" stop-color="#50f014"/><stop offset="0.423" stop-color="#4ff01b"/><stop offset="0.441" stop-color="#47f05f"/><stop offset="0.453" stop-color="#40f09c"/><stop offset="0.488" stop-color="#68f4de"/><stop offset="0.553" stop-color="#75f5f9"/><stop offset="0.559" stop-color="#68d5f5"/><stop offset="0.583" stop-color="#61c6f3"/><stop offset="0.589" stop-color="#56aef0"/><stop offset="0.618" stop-color="#52a4f0"/><stop offset="0.624" stop-color="#4a8cf0"/><stop offset="0.660" stop-color="#4583f0"/><stop offset="0.666" stop-color="#3a6df0"/><stop offset="0.713" stop-color="#3561f0"/><stop offset="0.719" stop-color="#2743f0"/><stop offset="0.766" stop-color="#2337f1"/><stop offset="0.772" stop-color="#1f21f5"/><stop offset="0.891" stop-color="#1814f8"/><stop offset="0.902" stop-color="#0d05fc"/><stop offset="0.997" stop-color="#0c04fc"/></linearGradient><linearGradient id="f52"><stop offset="0.003" stop-color="#0c04fc"/><stop offset="0.068" stop-color="#0c04fc"/><stop offset="0.080" stop-color="#1f21f5"/><stop offset="0.092" stop-color="#3561f0"/><stop offset="0.098" stop-color="#396af0"/><stop offset="0.104" stop-color="#4786f0"/><stop offset="0.109" stop-color="#4a8df0"/><stop offset="0.121" stop-color="#61c6f3"/><stop offset="0.127" stop-color="#64cdf4"/><stop offset="0.133" stop-color="#72eef8"/><stop offset="0.145" stop-color="#71f8ee"/><stop offset="0.157" stop-color="#69f4df"/><stop offset="0.163" stop-color="#45f0a7"/><stop offset="0.169" stop-color="#50f018"/><stop offset="0.423" stop-color="#4ff019"/><stop offset="0.441" stop-color="#48f05a"/><stop offset="0.459" stop-color="#45f0a8"/><stop offset="0.500" stop-color="#6ef7e8"/><stop offset="0.553" stop-color="#75f5f9"/><stop offset="0.559" stop-color="#68d5f5"/><stop offset="0.583" stop-color="#61c6f3"/><stop offset="0.589" stop-color="#56aef0"/><stop offset="0.618" stop-color="#52a4f0"/><stop offset="0.624" stop-color="#4a8cf0"/><stop offset="0.660" stop-color="#4583f0"/><stop offset="0.666" stop-color="#3a6df0"/><stop offset="0.713" stop-color="#3561f0"/><stop offset="0.719" stop-color="#2743f0"/><stop offset="0.766" stop-color="#2337f1"/><stop offset="0.772" stop-color="#1f21f5"/><stop offset="0.885" stop-color="#1915f8"/><stop offset="0.891" stop-color="#0d05fc"/><stop offset="0.997" stop-color="#0c04fc"/></linearGradient><linearGradient id="f54"><stop offset="0.003" stop-color="#0c04fc"/><stop offset="0.068" stop-color="#0c04fc"/><stop offset="0.080" stop-color="#1f21f5"/><stop offset="0.092" stop-color="#3562f0"/><stop offset="0.098" stop-color="#396bf0"/><stop offset="0.104" stop-color="#4786f0"/><stop offset="0.109" stop-color="#4a8ef0"/><stop offset="0.121" stop-color="#62c7f3"/><stop offset="0.127" stop-color="#65cef4"/><stop offset="0.133" stop-color="#73f1f9"/><stop offset="0.151" stop-color="#6df7e7"/><stop offset="0.157" stop-color="#66f3db"/><stop offset="0.163" stop-color="#41f0a1"/><stop offset="0.169" stop-color="#50f017"/><stop offset="0.423" stop-color="#50f017"/><stop offset="0.441" stop-color="#48f057"/><stop offset="0.459" stop-color="#44f0a6"/><stop offset="0.500" stop-color="#6df6e6"/><stop offset="0.553" stop-color="#75f5f9"/><stop offset="0.559" stop-color="#68d5f5"/><stop offset="0.583" stop-color="#61c6f3"/><stop offset="0.589" stop-color="#56aef0"/><stop offset="0.618" stop-color="#52a4f0"/><stop offset="0.624" stop-color="#4a8cf0"/><stop offset="0.660" stop-color="#4583f0"/><stop offset="0.666" stop-color="#3a6df0"/><stop offset="0.713" stop-color="#3561f0"/><stop offset="0.719" stop-color="#2743f0"/><stop offset="0.766" stop-color="#2337f1"/><stop offset="0.772" stop-color="#1f21f5"/><stop offset="0.885" stop-color="#1915f8"/><stop offset="0.891" stop-color="#0d05fc"/><stop offset="0.997" stop-color="#0c04fc"/></linearGradient><linearGradient id="f56"><stop offset="0.003" stop-color="#0c04fc"/><stop offset="0.068" stop-color="#0d05fc"/><stop offset="0.080" stop-color="#2337f1"/><stop offset="0.086" stop-color="#253df0"/><stop offset="0.092" stop-color="#3663f0"/><stop offset="0.098" stop-color="#3a6bf0"/><stop offset="0.109" stop-color="#52a4f0"/><stop offset="0.115" stop-color="#55acf0"/><stop offset="0.121" stop-color="#62c8f3"/><stop offset="0.127" stop-color="#65cff4"/><stop offset="0.133" stop-color="#75f4f9"/><stop offset="0.157" stop-color="#64f2d6"/><stop offset="0.163" stop-color="#41f093"/><stop offset="0.169" stop-color="#50f016"/><stop offset="0.423" stop-color="#50f017"/><stop offset="0.441" stop-color="#48f056"/><stop offset="0.459" stop-color="#43f0a5"/><stop offset="0.500" stop-color="#6cf6e5"/><stop offset="0.553" stop-color="#75f5f9"/><stop offset="0.559" stop-color="#68d5f5"/><stop offset="0.583" stop-color="#61c6f3"/><stop offset="0.589" stop-color="#56aef0"/><stop offset="0.618" stop-color="#52a4f0"/><stop offset="0.624" stop-color="#498cf0"/><stop offset="0.660" stop-color="#4583f0"/><stop offset="0.666" stop-color="#3a6df0"/><stop offset="0.713" stop-color="#3561f0"/><stop offset="0.719" stop-color="#2742f0"/><stop offset="0.766" stop-color="#2337f1"/><stop offset="0.772" stop-color="#1f21f5"/><stop offset="0.885" stop-color="#1915f8"/><stop offset="0.891" stop-color="#0d05fc"/><stop offset="0.997" stop-color="#0c04fc"/></linearGradient><linearGradient id="f58"><stop offset="0.003" stop-color="#0c04fc"/><stop offset="0.068" stop-color="#0d05fc"/><stop offset="0.080" stop-color="#2337f1"/><stop offset="0.086" stop-color="#253ef0"/><stop offset="0.092" stop-color="#3664f0"/><stop offset="0.098" stop-color="#3a6cf0"/><stop offset="0.109" stop-color="#52a5f0"/><stop offset="0.115" stop-color="#55acf0"/><stop offset="0.121" stop-color="#62c8f4"/><stop offset="0.127" stop-color="#66d0f4"/><stop offset="0.133" stop-color="#76f7f9"/><stop offset="0.151" stop-color="#6df6e6"/><stop offset="0.157" stop-color="#61f0d2"/><stop offset="0.163" stop-color="#43f084"/><stop offset="0.169" stop-color="#50f016"/><stop offset="0.423" stop-color="#50f016"/><stop offset="0.441" stop-color="#49f055"/><stop offset="0.459" stop-color="#43f0a4"/><stop offset="0.500" stop-color="#6cf6e4"/><stop offset="0.553" stop-color="#75f5f9"/><stop offset="0.559" stop-color="#68d5f5"/><stop offset="0.583" stop-color="#61c6f3"/><stop offset="0.589" stop-color="#56aef0"/><stop offset="0.618" stop-color="#52a4f0"/><stop offset="0.624" stop-color="#498cf0"/><stop offset="0.660" stop-color="#4583f0"/><stop offset="0.666" stop-color="#3a6df0"/><stop offset="0.713" stop-color="#3561f0"/><stop offset="0.719" stop-color="#2742f0"/><stop offset="0.766" stop-color="#2337f1"/><stop offset="0.772" stop-color="#1f21f5"/><stop offset="0.885" stop-color="#1915f8"/><stop offset="0.891" stop-color="#0d05fc"/><stop offset="0.997" stop-color="#0c04fc"/></linearGradient><linearGradient id="f60"><stop offset="0.003" stop-color="#0c04fc"/><stop offset="0.062" stop-color="#0c04fc"/><stop offset="0.074" stop-color="#1e1df6"/><stop offset="0.080" stop-color="#2338f1"/><stop offset="0.086" stop-color="#253ff0"/><stop offset="0.092" stop-color="#3665f0"/><stop offset="0.098" stop-color="#3a6df0"/><stop offset="0.109" stop-color="#53a6f0"/><stop offset="0.115" stop-color="#55adf0"/><stop offset="0.121" stop-color="#62c9f4"/><stop offset="0.127" stop-color="#66d1f5"/><stop offset="0.133" stop-color="#77fafa"/><stop offset="0.151" stop-color="#6cf6e5"/><stop offset="0.157" stop-color="#5ef0cc"/><stop offset="0.163" stop-color="#45f075"/><stop offset="0.169" stop-color="#50f016"/><stop offset="0.423" stop-color="#50f016"/><stop offset="0.441" stop-color="#49f055"/><stop offset="0.459" stop-color="#43f0a4"/><stop offset="0.500" stop-color="#6bf6e4"/><stop offset="0.553" stop-color="#75f5f9"/><stop offset="0.559" stop-color="#68d5f5"/><stop offset="0.583" stop-color="#61c6f3"/><stop offset="0.589" stop-color="#56aef0"/><stop offset="0.618" stop-color="#52a4f0"/><stop offset="0.624" stop-color="#498cf0"/><stop offset="0.660" stop-color="#4583f0"/><stop offset="0.666" stop-color="#3a6cf0"/><stop offset="0.713" stop-color="#3560f0"/><stop offset="0.719" stop-color="#2742f0"/><stop offset="0.766" stop-color="#2337f1"/><stop offset="0.772" stop-color="#1f21f5"/><stop offset="0.885" stop-color="#1915f8"/><stop offset="0.896" stop-color="#0d05fc"/><stop offset="0.997" stop-color="#0c04fc"/></linearGradient><linearGradient id="f62"><stop offset="0.003" stop-color="#0c04fc"/><stop offset="0.062" stop-color="#0c04fc"/><stop offset="0.074" stop-color="#1e1df6"/><stop offset="0.080" stop-color="#2338f1"/><stop offset="0.086" stop-color="#2640f0"/><stop offset="0.092" stop-color="#3766f0"/><stop offset="0.098" stop-color="#3b6df0"/><stop offset="0.109" stop-color="#53a7f0"/><stop offset="0.115" stop-color="#56adf0"/><stop offset="0.121" stop-color="#63c9f4"/><stop offset="0.127" stop-color="#67d2f5"/><stop offset="0.133" stop-color="#78fcf9"/><stop offset="0.151" stop-color="#6cf6e5"/><stop offset="0.157" stop-color="#5af0c6"/><stop offset="0.163" stop-color="#47f067"/><stop offset="0.169" stop-color="#50f016"/><stop offset="0.423" stop-color="#50f016"/><stop offset="0.441" stop-color="#49f054"/><stop offset="0.459" stop-color="#42f0a4"/><stop offset="0.500" stop-color="#6bf6e4"/><stop offset="0.553" stop-color="#75f5f9"/><stop offset="0.559" stop-color="#68d5f5"/><stop offset="0.583" stop-color="#61c6f3"/><stop offset="0.589" stop-color="#56aef0"/><stop offset="0.618" stop-color="#52a4f0"/><stop offset="0.624" stop-color="#498cf0"/><stop offset="0.660" stop-color="#4582f0"/><stop offset="0.666" stop-color="#3a6cf0"/><stop offset="0.707" stop-color="#3562f0"/><stop offset="0.713" stop-color="#2744f0"/><stop offset="0.766" stop-color="#2337f1"/><stop offset="0.772" stop-color="#1f21f5"/><stop offset="0.885" stop-color="#1915f8"/><stop offset="0.896" stop-color="#0d05fc"/><stop offset="0.997" stop-color="#0c04fc"/></linearGradient><linearGradient id="f64"><stop offset="0.003" stop-color="#0c04fc"/><stop offset="0.062" stop-color="#0c04fc"/><stop offset="0.074" stop-color="#1e1ef6"/><stop offset="0.080" stop-color="#2339f1"/><stop offset="0.086" stop-color="#2641f0"/><stop offset="0.098" stop-color="#4583f0"/><stop offset="0.104" stop-color="#498af0"/><stop offset="0.109" stop-color="#53a7f0"/><stop offset="0.115" stop-color="#56aef0"/><stop offset="0.121" stop-color="#63caf4"/><stop offset="0.127" stop-color="#67d3f5"/><stop offset="0.133" stop-color="#77fbf8"/><stop offset="0.151" stop-color="#6bf6e4"/><stop offset="0.157" stop-color="#56f0c0"/><stop offset="0.163" stop-color="#48f058"/><stop offset="0.169" stop-color="#50f016"/><stop offset="0.423" stop-color="#50f016"/><stop offset="0.441" stop-color="#49f054"/><stop offset="0.459" stop-color="#42f0a3"/><stop offset="0.500" stop-color="#6bf6e3"/><stop offset="0.553" stop-color="#75f5f9"/><stop offset="0.559" stop-color="#68d5f5"/><stop offset="0.583" stop-color="#61c6f3"/><stop offset="0.589" stop-color="#56aef0"/><stop offset="0.612" stop-color="#53a6f0"/><stop offset="0.618" stop-color="#4a8ef0"/><stop offset="0.654" stop-color="#4684f0"/><stop offset="0.660" stop-color="#3b6ef0"/><stop offset="0.707" stop-color="#3562f0"/><stop offset="0.713" stop-color="#2743f0"/><stop offset="0.766" stop-color="#2337f1"/><stop offset="0.772" stop-color="#1f21f5"/><stop offset="0.885" stop-color="#1914f8"/><stop offset="0.896" stop-color="#0d05fc"/><stop offset="0.997" stop-color="#0c04fc"/></linearGradient><linearGradient id="f66"><stop offset="0.003" stop-color="#0c04fc"/><stop offset="0.062" stop-color="#0c04fc"/><stop offset="0.074" stop-color="#1e1ff6"/><stop offset="0.080" stop-color="#243af0"/><stop offset="0.086" stop-color="#2641f0"/><stop offset="0.098" stop-color="#4683f0"/><stop offset="0.104" stop-color="#498bf0"/><stop offset="0.109" stop-color="#53a8f0"/><stop offset="0.115" stop-color="#56aef1"/><stop offset="0.121" stop-color="#63caf4"/><stop offset="0.127" stop-color="#67d4f5"/><stop offset="0.133" stop-color="#76fbf7"/><stop offset="0.151" stop-color="#6bf6e4"/><stop offset="0.157" stop-color="#52f0ba"/><stop offset="0.163" stop-color="#4af049"/><stop offset="0.169" stop-color="#50f016"/><stop offset="0.423" stop-color="#50f016"/><stop offset="0.441" stop-color="#49f054"/><stop offset="0.459" stop-color="#42f0a3"/><stop offset="0.500" stop-color="#6bf6e3"/><stop offset="0.553" stop-color="#75f5f9"/><stop offset="0.559" stop-color="#68d5f5"/><stop offset="0.583" stop-color="#61c6f3"/><stop offset="0.589" stop-color="#56aef0"/><stop offset="0.612" stop-color="#53a6f0"/><stop offset="0.618" stop-color="#4a8ef0"/><stop offset="0.654" stop-color="#4684f0"/><stop offset="0.660" stop-color="#3b6df0"/><stop offset="0.707" stop-color="#3562f0"/><stop offset="0.713" stop-color="#2743f0"/><stop offset="0.766" stop-color="#2337f1"/><stop offset="0.772" stop-color="#1f21f5"/><stop offset="0.885" stop-color="#1814f8"/><stop offset="0.896" stop-color="#0d05fc"/><stop offset="0.997" stop-color="#0c04fc"/></linearGradient><linearGradient id="f68"><stop offset="0.003" stop-color="#0c04fc"/><stop offset="0.062" stop-color="#0c04fc"/><stop offset="0.074" stop-color="#1f1ff5"/><stop offset="0.080" stop-color="#243af0"/><stop offset="0.086" stop-color="#2742f0"/><stop offset="0.098" stop-color="#4684f0"/><stop offset="0.104" stop-color="#498bf0"/><stop offset="0.109" stop-color="#54a9f0"/><stop offset="0.115" stop-color="#56aff1"/><stop offset="0.121" stop-color="#64cbf4"/><stop offset="0.127" stop-color="#68d5f5"/><stop offset="0.133" stop-color="#76fbf6"/><stop offset="0.151" stop-color="#6bf5e3"/><stop offset="0.157" stop-color="#4ef0b4"/><stop offset="0.163" stop-color="#4cf03a"/><stop offset="0.169" stop-color="#50f016"/><stop offset="0.423" stop-color="#50f016"/><stop offset="0.441" stop-color="#49f054"/><stop offset="0.459" stop-color="#42f0a3"/><stop offset="0.500" stop-color="#6bf5e3"/><stop offset="0.553" stop-color="#75f5f9"/><stop offset="0.559" stop-color="#68d5f5"/><stop offset="0.583" stop-color="#61c6f3"/><stop offset="0.589" stop-color="#56aef0"/><stop offset="0.612" stop-color="#53a6f0"/><stop offset="0.618" stop-color="#4a8ef0"/><stop offset="0.654" stop-color="#4684f0"/><stop offset="0.660" stop-color="#3b6df0"/><stop offset="0.707" stop-color="#3561f0"/><stop offset="0.713" stop-color="#2743f0"/><stop offset="0.766" stop-color="#2337f1"/><stop offset="0.772" stop-color="#1f21f5"/><stop offset="0.885" stop-color="#1814f8"/><stop offset="0.896" stop-color="#0d05fc"/><stop offset="0.997" stop-color="#0c04fc"/></linearGradient><linearGradient id="f70"><stop offset="0.003" stop-color="#0c04fc"/><stop offset="0.062" stop-color="#0c04fc"/><stop offset="0.074" stop-color="#1f20f5"/><stop offset="0.080" stop-color="#243bf0"/><stop offset="0.086" stop-color="#2743f0"/><stop offset="0.098" stop-color="#4685f0"/><stop offset="0.104" stop-color="#498cf0"/><stop offset="0.109" stop-color="#54aaf0"/><stop offset="0.115" stop-color="#57b0f1"/><stop offset="0.121" stop-color="#64ccf4"/><stop offset="0.127" stop-color="#68d7f5"/><stop offset="0.133" stop-color="#75faf5"/><stop offset="0.151" stop-color="#6af5e2"/><stop offset="0.157" stop-color="#4af0ae"/><stop offset="0.163" stop-color="#4df02b"/><stop offset="0.169" stop-color="#50f016"/><stop offset="0.423" stop-color="#50f016"/><stop offset="0.441" stop-color="#49f054"/><stop offset="0.459" stop-color="#42f0a3"/><stop offset="0.506" stop-color="#6ef7e8"/><stop offset="0.553" stop-color="#75f5f9"/><stop offset="0.559" stop-color="#68d5f5"/><stop offset="0.583" stop-color="#61c6f3"/><stop offset="0.589" stop-color="#56aef0"/><stop offset="0.612" stop-color="#53a6f0"/><stop offset="0.618" stop-color="#4a8ef0"/><stop offset="0.654" stop-color="#4683f0"/><stop offset="0.660" stop-color="#3b6df0"/><stop offset="0.707" stop-color="#3561f0"/><stop offset="0.713" stop-color="#2743f0"/><stop offset="0.766" stop-color="#2337f1"/><stop offset="0.772" stop-color="#1f21f5"/><stop offset="0.879" stop-color="#1915f8"/><stop offset="0.885" stop-color="#0d05fc"/><stop offset="0.997" stop-color="#0c04fc"/></linearGradient><linearGradient id="f72"><stop offset="0.003" stop-color="#0c04fc"/><stop offset="0.062" stop-color="#0c04fc"/><stop offset="0.074" stop-color="#1f20f5"/><stop offset="0.086" stop-color="#3561f0"/><stop offset="0.092" stop-color="#396af0"/><stop offset="0.098" stop-color="#4785f0"/><stop offset="0.104" stop-color="#4a8df0"/><stop offset="0.115" stop-color="#61c6f3"/><stop offset="0.121" stop-color="#64ccf4"/><stop offset="0.127" stop-color="#72edf8"/><stop offset="0.139" stop-color="#71f9ee"/><stop offset="0.151" stop-color="#69f5e0"/><stop offset="0.157" stop-color="#46f0a8"/><stop offset="0.163" stop-color="#4ef026"/><stop offset="0.175" stop-color="#50f014"/><stop offset="0.423" stop-color="#50f016"/><stop offset="0.441" stop-color="#49f054"/><stop offset="0.459" stop-color="#42f0a3"/><stop offset="0.506" stop-color="#6df7e8"/><stop offset="0.553" stop-color="#75f5f9"/><stop offset="0.559" stop-color="#68d5f5"/><stop offset="0.583" stop-color="#61c6f3"/><stop offset="0.589" stop-color="#56aef0"/><stop offset="0.612" stop-color="#52a6f0"/><stop offset="0.618" stop-color="#4a8ef0"/><stop offset="0.654" stop-color="#4683f0"/><stop offset="0.660" stop-color="#3b6df0"/><stop offset="0.707" stop-color="#3561f0"/><stop offset="0.713" stop-color="#2743f0"/><stop offset="0.766" stop-color="#2337f1"/><stop offset="0.772" stop-color="#1f21f5"/><stop offset="0.879" stop-color="#1915f8"/><stop offset="0.885" stop-color="#0d05fc"/><stop offset="0.997" stop-color="#0c04fc"/></linearGradient><linearGradient id="f74"><stop offset="0.003" stop-color="#0c04fc"/><stop offset="0.062" stop-color="#0c04fc"/><stop offset="0.074" stop-color="#1f21f5"/><stop offset="0.086" stop-color="#3562f0"/><stop offset="0.092" stop-color="#396af0"/><stop offset="0.098" stop-color="#4786f0"/><stop offset="0.104" stop-color="#4a8df0"/><stop offset="0.115" stop-color="#62c7f3"/><stop offset="0.121" stop-color="#65cef4"/><stop offset="0.127" stop-color="#73f0f9"/><stop offset="0.145" stop-color="#6df7e7"/><stop offset="0.151" stop-color="#67f3dc"/><stop offset="0.157" stop-color="#42f0a2"/><stop offset="0.163" stop-color="#4ef026"/><stop offset="0.175" stop-color="#50f014"/><stop offset="0.423" stop-color="#50f015"/><stop offset="0.441" stop-color="#49f054"/><stop offset="0.459" stop-color="#42f0a3"/><stop offset="0.506" stop-color="#6df7e7"/><stop offset="0.553" stop-color="#75f5f9"/><stop offset="0.559" stop-color="#68d5f5"/><stop offset="0.577" stop-color="#62c9f4"/><stop offset="0.583" stop-color="#57b0f1"/><stop offset="0.612" stop-color="#52a6f0"/><stop offset="0.618" stop-color="#4a8ef0"/><stop offset="0.654" stop-color="#4683f0"/><stop offset="0.660" stop-color="#3b6df0"/><stop offset="0.707" stop-color="#3561f0"/><stop offset="0.713" stop-color="#2743f0"/><stop offset="0.766" stop-color="#2337f1"/><stop offset="0.772" stop-color="#1f21f5"/><stop offset="0.879" stop-color="#1915f8"/><stop offset="0.885" stop-color="#0d05fc"/><stop offset="0.997" stop-color="#0c04fc"/></linearGradient><linearGradient id="f76"><stop offset="0.003" stop-color="#0c04fc"/><stop offset="0.062" stop-color="#0d05fc"/><stop offset="0.074" stop-color="#2336f1"/><stop offset="0.080" stop-color="#243df0"/><stop offset="0.086" stop-color="#3663f0"/><stop offset="0.092" stop-color="#3a6bf0"/><stop offset="0.104" stop-color="#52a4f0"/><stop offset="0.109" stop-color="#55abf0"/><stop offset="0.115" stop-color="#62c7f3"/><stop offset="0.121" stop-color="#65cff4"/><stop offset="0.127" stop-color="#74f3f9"/><stop offset="0.151" stop-color="#64f2d7"/><stop offset="0.157" stop-color="#41f097"/><stop offset="0.163" stop-color="#4ef026"/><stop offset="0.175" stop-color="#50f014"/><stop offset="0.423" stop-color="#50f015"/><stop offset="0.441" stop-color="#49f054"/><stop offset="0.459" stop-color="#42f0a3"/><stop offset="0.506" stop-color="#6df7e7"/><stop offset="0.553" stop-color="#75f5f9"/><stop offset="0.559" stop-color="#68d5f5"/><stop offset="0.577" stop-color="#62c9f4"/><stop offset="0.583" stop-color="#57b0f1"/><stop offset="0.612" stop-color="#52a6f0"/><stop offset="0.618" stop-color="#4a8ef0"/><stop offset="0.654" stop-color="#4683f0"/><stop offset="0.660" stop-color="#3b6df0"/><stop offset="0.707" stop-color="#3561f0"/><stop offset="0.713" stop-color="#2743f0"/><stop offset="0.766" stop-color="#2337f1"/><stop offset="0.772" stop-color="#1f21f5"/><stop offset="0.879" stop-color="#1915f8"/><stop offset="0.885" stop-color="#0d05fc"/><stop offset="0.997" stop-color="#0c04fc"/></linearGradient><linearGradient id="f78"><stop offset="0.003" stop-color="#0c04fc"/><stop offset="0.062" stop-color="#0d05fc"/><stop offset="0.074" stop-color="#2337f1"/><stop offset="0.080" stop-color="#253ef0"/><stop offset="0.086" stop-color="#3663f0"/><stop offset="0.092" stop-color="#3a6cf0"/><stop offset="0.104" stop-color="#52a5f0"/><stop offset="0.109" stop-color="#55acf0"/><stop offset="0.115" stop-color="#62c8f4"/><stop offset="0.121" stop-color="#66d0f4"/><stop offset="0.127" stop-color="#76f7f9"/><stop offset="0.145" stop-color="#6df6e6"/><stop offset="0.151" stop-color="#62f1d3"/><stop offset="0.157" stop-color="#43f088"/><stop offset="0.163" stop-color="#4ef026"/><stop offset="0.175" stop-color="#50f014"/><stop offset="0.423" stop-color="#50f015"/><stop offset="0.441" stop-color="#49f053"/><stop offset="0.459" stop-color="#42f0a3"/><stop offset="0.506" stop-color="#6df7e7"/><stop offset="0.553" stop-color="#75f5f9"/><stop offset="0.559" stop-color="#68d5f5"/><stop offset="0.577" stop-color="#62c9f4"/><stop offset="0.583" stop-color="#57b0f1"/><stop offset="0.612" stop-color="#52a6f0"/><stop offset="0.618" stop-color="#4a8df0"/><stop offset="0.654" stop-color="#4683f0"/><stop offset="0.660" stop-color="#3a6df0"/><stop offset="0.707" stop-color="#3561f0"/><stop offset="0.713" stop-color="#2742f0"/><stop offset="0.766" stop-color="#2337f1"/><stop offset="0.772" stop-color="#1f21f5"/><stop offset="0.879" stop-color="#1915f8"/><stop offset="0.885" stop-color="#0d05fc"/><stop offset="0.997" stop-color="#0c04fc"/></linearGradient><linearGradient id="f80"><stop offset="0.003" stop-color="#0c04fc"/><stop offset="0.062" stop-color="#0d05fc"/><stop offset="0.074" stop-color="#2338f1"/><stop offset="0.080" stop-color="#253ff0"/><stop offset="0.086" stop-color="#3664f0"/><stop offset="0.092" stop-color="#3a6cf0"/><stop offset="0.104" stop-color="#52a6f0"/><stop offset="0.109" stop-color="#55adf0"/><stop offset="0.115" stop-color="#62c9f4"/><stop offset="0.121" stop-color="#66d1f5"/><stop offset="0.127" stop-color="#77fafa"/><stop offset="0.145" stop-color="#6cf6e5"/><stop offset="0.151" stop-color="#5ff0ce"/><stop offset="0.157" stop-color="#44f079"/><stop offset="0.163" stop-color="#4ef026"/><stop offset="0.175" stop-color="#50f014"/><stop offset="0.423" stop-color="#50f015"/><stop offset="0.441" stop-color="#49f053"/><stop offset="0.459" stop-color="#42f0a3"/><stop offset="0.506" stop-color="#6df7e7"/><stop offset="0.553" stop-color="#75f5f9"/><stop offset="0.559" stop-color="#68d5f5"/><stop offset="0.577" stop-color="#62c9f4"/><stop offset="0.583" stop-color="#57b0f1"/><stop offset="0.612" stop-color="#52a5f0"/><stop offset="0.618" stop-color="#4a8df0"/><stop offset="0.654" stop-color="#4683f0"/><stop offset="0.660" stop-color="#3a6df0"/><stop offset="0.707" stop-color="#3561f0"/><stop offset="0.713" stop-color="#2742f0"/><stop offset="0.766" stop-color="#2337f1"/><stop offset="0.772" stop-color="#1f21f5"/><stop offset="0.879" stop-color="#1915f8"/><stop offset="0.891" stop-color="#0d05fc"/><stop offset="0.997" stop-color="#0c04fc"/></linearGradient><linearGradient id="f82"><stop offset="0.003" stop-color="#0c04fc"/><stop offset="0.056" stop-color="#0c04fc"/><stop offset="0.068" stop-color="#1e1df6"/><stop offset="0.074" stop-color="#2338f1"/><stop offset="0.080" stop-color="#2640f0"/><stop offset="0.086" stop-color="#3765f0"/><stop offset="0.092" stop-color="#3b6df0"/><stop offset="0.104" stop-color="#53a6f0"/><stop offset="0.109" stop-color="#55adf0"/><stop offset="0.115" stop-color="#63c9f4"/><stop offset="0.121" stop-color="#66d2f5"/><stop offset="0.127" stop-color="#78fcfa"/><stop offset="0.145" stop-color="#6cf6e5"/><stop offset="0.151" stop-color="#5bf0c8"/><stop offset="0.157" stop-color="#46f06a"/><stop offset="0.163" stop-color="#4ef026"/><stop offset="0.175" stop-color="#50f014"/><stop offset="0.423" stop-color="#50f015"/><stop offset="0.441" stop-color="#49f053"/><stop offset="0.459" stop-color="#42f0a3"/><stop offset="0.506" stop-color="#6df7e7"/><stop offset="0.553" stop-color="#75f5f9"/><stop offset="0.559" stop-color="#68d5f5"/><stop offset="0.577" stop-color="#62c9f4"/><stop offset="0.583" stop-color="#57b0f1"/><stop offset="0.612" stop-color="#52a5f0"/><stop offset="0.618" stop-color="#4a8df0"/><stop offset="0.654" stop-color="#4583f0"/><stop offset="0.660" stop-color="#3a6df0"/><stop offset="0.707" stop-color="#3560f0"/><stop offset="0.713" stop-color="#2742f0"/><stop offset="0.766" stop-color="#2336f1"/><stop offset="0.772" stop-color="#1f21f5"/><stop offset="0.879" stop-color="#1915f8"/><stop offset="0.891" stop-color="#0d05fc"/><stop offset="0.997" stop-color="#0c04fc"/></linearGradient><linearGradient id="f84"><stop offset="0.003" stop-color="#0c04fc"/><stop offset="0.056" stop-color="#0c04fc"/><stop offset="0.068" stop-color="#1e1ef6"/><stop offset="0.074" stop-color="#2339f1"/><stop offset="0.080" stop-color="#2640f0"/><stop offset="0.092" stop-color="#4583f0"/><stop offset="0.098" stop-color="#498af0"/><stop offset="0.104" stop-color="#53a7f0"/><stop offset="0.109" stop-color="#56aef0"/><stop offset="0.115" stop-color="#63caf4"/><stop offset="0.121" stop-color="#67d3f5"/><stop offset="0.127" stop-color="#77fcf9"/><stop offset="0.145" stop-color="#6cf6e4"/><stop offset="0.151" stop-color="#57f0c2"/><stop offset="0.157" stop-color="#48f05b"/><stop offset="0.163" stop-color="#4ef026"/><stop offset="0.175" stop-color="#50f014"/><stop offset="0.423" stop-color="#50f015"/><stop offset="0.441" stop-color="#49f053"/><stop offset="0.459" stop-color="#42f0a3"/><stop offset="0.506" stop-color="#6df7e7"/><stop offset="0.553" stop-color="#75f5f9"/><stop offset="0.559" stop-color="#68d5f5"/><stop offset="0.577" stop-color="#62c9f4"/><stop offset="0.583" stop-color="#57b0f1"/><stop offset="0.612" stop-color="#52a5f0"/><stop offset="0.618" stop-color="#4a8df0"/><stop offset="0.654" stop-color="#4583f0"/><stop offset="0.660" stop-color="#3a6df0"/><stop offset="0.701" stop-color="#3562f0"/><stop offset="0.707" stop-color="#2744f0"/><stop offset="0.766" stop-color="#2336f1"/><stop offset="0.772" stop-color="#1f21f5"/><stop offset="0.879" stop-color="#1914f8"/><stop offset="0.891" stop-color="#0d05fc"/><stop offset="0.997" stop-color="#0c04fc"/></linearGradient><linearGradient id="f86"><stop offset="0.003" stop-color="#0c04fc"/><stop offset="0.056" stop-color="#0c04fc"/><stop offset="0.068" stop-color="#1e1ef6"/><stop offset="0.074" stop-color="#243af0"/><stop offset="0.080" stop-color="#2641f0"/><stop offset="0.092" stop-color="#4683f0"/><stop offset="0.098" stop-color="#498af0"/><stop offset="0.104" stop-color="#53a8f0"/><stop offset="0.109" stop-color="#56aef1"/><stop offset="0.115" stop-color="#63caf4"/><stop offset="0.121" stop-color="#67d4f5"/><stop offset="0.127" stop-color="#76fbf7"/><stop offset="0.145" stop-color="#6bf6e4"/><stop offset="0.151" stop-color="#53f0bc"/><stop offset="0.157" stop-color="#4af04c"/><stop offset="0.163" stop-color="#4ef026"/><stop offset="0.175" stop-color="#50f014"/><stop offset="0.423" stop-color="#50f015"/><stop offset="0.441" stop-color="#49f053"/><stop offset="0.459" stop-color="#42f0a3"/><stop offset="0.506" stop-color="#6df7e7"/><stop offset="0.553" stop-color="#75f5f9"/><stop offset="0.559" stop-color="#68d5f5"/><stop offset="0.577" stop-color="#62c9f4"/><stop offset="0.583" stop-color="#57b0f1"/><stop offset="0.612" stop-color="#52a5f0"/><stop offset="0.618" stop-color="#4a8df0"/><stop offset="0.654" stop-color="#4583f0"/><stop offset="0.660" stop-color="#3a6df0"/><stop offset="0.701" stop-color="#3562f0"/><stop offset="0.707" stop-color="#2743f0"/><stop offset="0.760" stop-color="#2337f1"/><stop offset="0.766" stop-color="#1f22f5"/><stop offset="0.879" stop-color="#1814f8"/><stop offset="0.891" stop-color="#0d05fc"/><stop offset="0.997" stop-color="#0c04fc"/></linearGradient><linearGradient id="f88"><stop offset="0.003" stop-color="#0c04fc"/><stop offset="0.056" stop-color="#0c04fc"/><stop offset="0.068" stop-color="#1f1ff5"/><stop offset="0.074" stop-color="#243af0"/><stop offset="0.080" stop-color="#2742f0"/><stop offset="0.092" stop-color="#4684f0"/><stop offset="0.098" stop-color="#498bf0"/><stop offset="0.104" stop-color="#54a9f0"/><stop offset="0.109" stop-color="#56aff1"/><stop offset="0.115" stop-color="#63cbf4"/><stop offset="0.121" stop-color="#68d5f5"/><stop offset="0.127" stop-color="#76fbf6"/><stop offset="0.145" stop-color="#6bf5e3"/><stop offset="0.151" stop-color="#4ff0b6"/><stop offset="0.157" stop-color="#4bf03d"/><stop offset="0.169" stop-color="#50f016"/><stop offset="0.423" stop-color="#50f015"/><stop offset="0.441" stop-color="#49f053"/><stop offset="0.459" stop-color="#42f0a3"/><stop offset="0.506" stop-color="#6df7e7"/><stop offset="0.553" stop-color="#75f5f9"/><stop offset="0.559" stop-color="#68d5f5"/><stop offset="0.577" stop-color="#62c9f4"/><stop offset="0.583" stop-color="#57b0f1"/><stop offset="0.612" stop-color="#52a5f0"/><stop offset="0.618" stop-color="#4a8df0"/><stop offset="0.654" stop-color="#4583f0"/><stop offset="0.660" stop-color="#3a6df0"/><stop offset="0.701" stop-color="#3562f0"/><stop offset="0.707" stop-color="#2743f0"/><stop offset="0.760" stop-color="#2337f1"/><stop offset="0.766" stop-color="#1f22f5"/><stop offset="0.873" stop-color="#1915f8"/><stop offset="0.879" stop-color="#0d05fc"/><stop offset="0.997" stop-color="#0c04fc"/></linearGradient><linearGradient id="f90"><stop offset="0.003" stop-color="#0c04fc"/><stop offset="0.056" stop-color="#0c04fc"/><stop offset="0.068" stop-color="#1f20f5"/><stop offset="0.074" stop-color="#243bf0"/><stop offset="0.080" stop-color="#2743f0"/><stop offset="0.092" stop-color="#4685f0"/><stop offset="0.098" stop-color="#498cf0"/><stop offset="0.104" stop-color="#54a9f0"/><stop offset="0.109" stop-color="#57aff1"/><stop offset="0.115" stop-color="#64cbf4"/><stop offset="0.121" stop-color="#68d6f5"/><stop offset="0.127" stop-color="#75fbf5"/><stop offset="0.145" stop-color="#6bf5e3"/><stop offset="0.151" stop-color="#4bf0b0"/><stop offset="0.157" stop-color="#4cf037"/><stop offset="0.169" stop-color="#50f016"/><stop offset="0.423" stop-color="#50f015"/><stop offset="0.441" stop-color="#49f053"/><stop offset="0.459" stop-color="#42f0a2"/><stop offset="0.506" stop-color="#6df7e7"/><stop offset="0.553" stop-color="#75f5f9"/><stop offset="0.559" stop-color="#68d5f5"/><stop offset="0.577" stop-color="#62c9f4"/><stop offset="0.583" stop-color="#57b0f1"/><stop offset="0.612" stop-color="#52a5f0"/><stop offset="0.618" stop-color="#4a8df0"/><stop offset="0.654" stop-color="#4583f0"/><stop offset="0.660" stop-color="#3a6cf0"/><stop offset="0.701" stop-color="#3561f0"/><stop offset="0.707" stop-color="#2743f0"/><stop offset="0.760" stop-color="#2337f1"/><stop offset="0.766" stop-color="#1f21f5"/><stop offset="0.873" stop-color="#1915f8"/><stop offset="0.879" stop-color="#0d05fc"/><stop offset="0.997" stop-color="#0c04fc"/></linearGradient><linearGradient id="f92"><stop offset="0.003" stop-color="#0c04fc"/><stop offset="0.056" stop-color="#0c04fc"/><stop offset="0.068" stop-color="#1f20f5"/><stop offset="0.080" stop-color="#3560f0"/><stop offset="0.086" stop-color="#3969f0"/><stop offset="0.092" stop-color="#4785f0"/><stop offset="0.098" stop-color="#4a8df0"/><stop offset="0.109" stop-color="#61c6f3"/><stop offset="0.115" stop-color="#64ccf4"/><stop offset="0.121" stop-color="#71ecf8"/><stop offset="0.133" stop-color="#71f9ee"/><stop offset="0.145" stop-color="#6af5e1"/><stop offset="0.151" stop-color="#47f0aa"/><stop offset="0.157" stop-color="#4cf037"/><stop offset="0.169" stop-color="#50f016"/><stop offset="0.423" stop-color="#50f015"/><stop offset="0.441" stop-color="#49f053"/><stop offset="0.459" stop-color="#42f0a2"/><stop offset="0.506" stop-color="#6df6e7"/><stop offset="0.553" stop-color="#75f5f9"/><stop offset="0.559" stop-color="#68d5f5"/><stop offset="0.577" stop-color="#62c8f4"/><stop offset="0.583" stop-color="#57b0f1"/><stop offset="0.612" stop-color="#52a5f0"/><stop offset="0.618" stop-color="#4a8df0"/><stop offset="0.654" stop-color="#4583f0"/><stop offset="0.660" stop-color="#3a6cf0"/><stop offset="0.701" stop-color="#3561f0"/><stop offset="0.707" stop-color="#2743f0"/><stop offset="0.760" stop-color="#2337f1"/><stop offset="0.766" stop-color="#1f21f5"/><stop offset="0.873" stop-color="#1915f8"/><stop offset="0.879" stop-color="#0d05fc"/><stop offset="0.997" stop-color="#0c04fc"/></linearGradient><linearGradient id="f94"><stop offset="0.003" stop-color="#0c04fc"/><stop offset="0.056" stop-color="#0c04fc"/><stop offset="0.068" stop-color="#1f21f5"/><stop offset="0.080" stop-color="#3561f0"/><stop offset="0.086" stop-color="#396af0"/><stop offset="0.092" stop-color="#4786f0"/><stop offset="0.098" stop-color="#4a8df0"/><stop offset="0.109" stop-color="#62c7f3"/><stop offset="0.115" stop-color="#65cdf4"/><stop offset="0.121" stop-color="#73f0f8"/><stop offset="0.133" stop-color="#71f8ed"/><stop offset="0.145" stop-color="#67f4dd"/><stop offset="0.151" stop-color="#43f0a4"/><stop offset="0.157" stop-color="#4cf037"/><stop offset="0.169" stop-color="#50f016"/><stop offset="0.423" stop-color="#50f015"/><stop offset="0.441" stop-color="#49f053"/><stop offset="0.459" stop-color="#42f0a2"/><stop offset="0.506" stop-color="#6df6e7"/><stop offset="0.553" stop-color="#75f5f9"/><stop offset="0.559" stop-color="#68d5f5"/><stop offset="0.577" stop-color="#62c8f4"/><stop offset="0.583" stop-color="#57b0f1"/><stop offset="0.612" stop-color="#52a5f0"/><stop offset="0.618" stop-color="#4a8df0"/><stop offset="0.654" stop-color="#4583f0"/><stop offset="0.660" stop-color="#3a6cf0"/><stop offset="0.701" stop-color="#3561f0"/><stop offset="0.707" stop-color="#2743f0"/><stop offset="0.760" stop-color="#2337f1"/><stop offset="0.766" stop-color="#1f21f5"/><stop offset="0.873" stop-color="#1915f8"/><stop offset="0.879" stop-color="#0d05fc"/><stop offset="0.997" stop-color="#0c04fc"/></linearGradient><linearGradient id="f96"><stop offset="0.003" stop-color="#0c04fc"/><stop offset="0.056" stop-color="#0d05fc"/><stop offset="0.068" stop-color="#1f22f5"/><stop offset="0.080" stop-color="#3562f0"/><stop offset="0.086" stop-color="#396bf0"/><stop offset="0.098" stop-color="#52a4f0"/><stop offset="0.104" stop-color="#55abf0"/><stop offset="0.109" stop-color="#62c7f3"/><stop offset="0.115" stop-color="#65cef4"/><stop offset="0.121" stop-color="#74f3f9"/><stop offset="0.145" stop-color="#65f2d8"/><stop offset="0.151" stop-color="#41f09b"/><stop offset="0.157" stop-color="#4cf037"/><stop offset="0.169" stop-color="#50f016"/><stop offset="0.423" stop-color="#50f015"/><stop offset="0.441" stop-color="#49f053"/><stop offset="0.459" stop-color="#42f0a2"/><stop offset="0.506" stop-color="#6df6e7"/><stop offset="0.553" stop-color="#75f5f9"/><stop offset="0.559" stop-color="#68d5f5"/><stop offset="0.577" stop-color="#62c8f4"/><stop offset="0.583" stop-color="#57b0f1"/><stop offset="0.612" stop-color="#52a5f0"/><stop offset="0.618" stop-color="#4a8df0"/><stop offset="0.654" stop-color="#4582f0"/><stop offset="0.660" stop-color="#3a6cf0"/><stop offset="0.701" stop-color="#3561f0"/><stop offset="0.707" stop-color="#2743f0"/><stop offset="0.760" stop-color="#2337f1"/><stop offset="0.766" stop-color="#1f21f5"/><stop offset="0.873" stop-color="#1915f8"/><stop offset="0.879" stop-color="#0d05fc"/><stop offset="0.997" stop-color="#0c04fc"/></linearGradient><linearGradient id="f98"><stop offset="0.003" stop-color="#0c04fc"/><stop offset="0.056" stop-color="#0d05fc"/><stop offset="0.068" stop-color="#2337f1"/><stop offset="0.074" stop-color="#253ef0"/><stop offset="0.080" stop-color="#3663f0"/><stop offset="0.086" stop-color="#3a6cf0"/><stop offset="0.098" stop-color="#52a5f0"/><stop offset="0.104" stop-color="#55acf0"/><stop offset="0.109" stop-color="#62c8f4"/><stop offset="0.115" stop-color="#65cff4"/><stop offset="0.121" stop-color="#75f6f9"/><stop offset="0.139" stop-color="#6df6e6"/><stop offset="0.145" stop-color="#62f1d4"/><stop offset="0.151" stop-color="#42f08c"/><stop offset="0.157" stop-color="#4cf037"/><stop offset="0.169" stop-color="#50f016"/><stop offset="0.423" stop-color="#50f015"/><stop offset="0.441" stop-color="#49f053"/><stop offset="0.459" stop-color="#41f0a2"/><stop offset="0.506" stop-color="#6df6e6"/><stop offset="0.553" stop-color="#75f5f9"/><stop offset="0.559" stop-color="#68d5f5"/><stop offset="0.577" stop-color="#62c8f4"/><stop offset="0.583" stop-color="#57b0f1"/><stop offset="0.612" stop-color="#52a5f0"/><stop offset="0.618" stop-color="#4a8df0"/><stop offset="0.648" stop-color="#4684f0"/><stop offset="0.654" stop-color="#3b6ef0"/><stop offset="0.701" stop-color="#3561f0"/><stop offset="0.707" stop-color="#2743f0"/><stop offset="0.760" stop-color="#2337f1"/><stop offset="0.766" stop-color="#1f21f5"/><stop offset="0.873" stop-color="#1915f8"/><stop offset="0.879" stop-color="#0d05fc"/><stop offset="0.997" stop-color="#0c04fc"/></linearGradient><linearGradient id="f100"><stop offset="0.003" stop-color="#0c04fc"/><stop offset="0.056" stop-color="#0d05fc"/><stop offset="0.068" stop-color="#2338f1"/><stop offset="0.074" stop-color="#253ff0"/><stop offset="0.080" stop-color="#3664f0"/><stop offset="0.086" stop-color="#3a6cf0"/><stop offset="0.098" stop-color="#52a6f0"/><stop offset="0.104" stop-color="#55acf0"/><stop offset="0.109" stop-color="#62c8f4"/><stop offset="0.115" stop-color="#66d1f5"/><stop offset="0.121" stop-color="#77f9fa"/><stop offset="0.139" stop-color="#6cf6e6"/><stop offset="0.145" stop-color="#60f0cf"/><stop offset="0.151" stop-color="#44f07d"/><stop offset="0.157" stop-color="#4cf037"/><stop offset="0.169" stop-color="#50f016"/><stop offset="0.423" stop-color="#50f015"/><stop offset="0.441" stop-color="#49f053"/><stop offset="0.459" stop-color="#41f0a2"/><stop offset="0.506" stop-color="#6df6e6"/><stop offset="0.553" stop-color="#75f4f9"/><stop offset="0.559" stop-color="#68d5f5"/><stop offset="0.577" stop-color="#62c8f4"/><stop offset="0.583" stop-color="#57b0f1"/><stop offset="0.612" stop-color="#52a5f0"/><stop offset="0.618" stop-color="#4a8df0"/><stop offset="0.648" stop-color="#4684f0"/><stop offset="0.654" stop-color="#3b6df0"/><stop offset="0.701" stop-color="#3561f0"/><stop offset="0.707" stop-color="#2742f0"/><stop offset="0.760" stop-color="#2337f1"/><stop offset="0.766" stop-color="#1f21f5"/><stop offset="0.873" stop-color="#1915f8"/><stop offset="0.879" stop-color="#0d05fc"/><stop offset="0.997" stop-color="#0c04fc"/></linearGradient><linearGradient id="f102"><stop offset="0.003" stop-color="#0c04fc"/><stop offset="0.050" stop-color="#0c04fc"/><stop offset="0.062" stop-color="#1e1df6"/><stop offset="0.068" stop-color="#2338f1"/><stop offset="0.074" stop-color="#263ff0"/><stop offset="0.080" stop-color="#3765f0"/><stop offset="0.086" stop-color="#3a6df0"/><stop offset="0.098" stop-color="#53a6f0"/><stop offset="0.104" stop-color="#55adf0"/><stop offset="0.109" stop-color="#63c9f4"/><stop offset="0.115" stop-color="#66d2f5"/><stop offset="0.121" stop-color="#78fcfa"/><stop offset="0.139" stop-color="#6cf6e5"/><stop offset="0.145" stop-color="#5cf0c9"/><stop offset="0.151" stop-color="#46f06e"/><stop offset="0.157" stop-color="#4cf037"/><stop offset="0.169" stop-color="#50f016"/><stop offset="0.423" stop-color="#50f015"/><stop offset="0.441" stop-color="#49f052"/><stop offset="0.459" stop-color="#41f0a2"/><stop offset="0.506" stop-color="#6df6e6"/><stop offset="0.553" stop-color="#75f4f9"/><stop offset="0.559" stop-color="#68d5f5"/><stop offset="0.577" stop-color="#62c8f4"/><stop offset="0.583" stop-color="#57aff1"/><stop offset="0.612" stop-color="#52a5f0"/><stop offset="0.618" stop-color="#4a8df0"/><stop offset="0.648" stop-color="#4684f0"/><stop offset="0.654" stop-color="#3b6df0"/><stop offset="0.701" stop-color="#3561f0"/><stop offset="0.707" stop-color="#2742f0"/><stop offset="0.760" stop-color="#2337f1"/><stop offset="0.766" stop-color="#1f21f5"/><stop offset="0.873" stop-color="#1915f8"/><stop offset="0.885" stop-color="#0d05fc"/><stop offset="0.997" stop-color="#0c04fc"/></linearGradient><linearGradient id="f104"><stop offset="0.003" stop-color="#0c04fc"/><stop offset="0.050" stop-color="#0c04fc"/><stop offset="0.062" stop-color="#1e1ef6"/><stop offset="0.068" stop-color="#2339f1"/><stop offset="0.074" stop-color="#2640f0"/><stop offset="0.080" stop-color="#3766f0"/><stop offset="0.086" stop-color="#3b6ef0"/><stop offset="0.098" stop-color="#53a7f0"/><stop offset="0.104" stop-color="#56aef0"/><stop offset="0.109" stop-color="#63caf4"/><stop offset="0.115" stop-color="#67d3f5"/><stop offset="0.121" stop-color="#77fcf9"/><stop offset="0.139" stop-color="#6cf6e4"/><stop offset="0.145" stop-color="#58f0c3"/><stop offset="0.151" stop-color="#47f05f"/><stop offset="0.157" stop-color="#4cf037"/><stop offset="0.169" stop-color="#50f016"/><stop offset="0.423" stop-color="#50f015"/><stop offset="0.441" stop-color="#49f052"/><stop offset="0.459" stop-color="#41f0a2"/><stop offset="0.506" stop-color="#6df6e6"/><stop offset="0.553" stop-color="#75f4f9"/><stop offset="0.559" stop-color="#68d5f5"/><stop offset="0.577" stop-color="#62c8f4"/><stop offset="0.583" stop-color="#57aff1"/><stop offset="0.612" stop-color="#52a5f0"/><stop offset="0.618" stop-color="#4a8df0"/><stop offset="0.648" stop-color="#4684f0"/><stop offset="0.654" stop-color="#3b6df0"/><stop offset="0.701" stop-color="#3560f0"/><stop offset="0.707" stop-color="#2742f0"/><stop offset="0.760" stop-color="#2337f1"/><stop offset="0.766" stop-color="#1f21f5"/><stop offset="0.873" stop-color="#1915f8"/><stop offset="0.885" stop-color="#0d05fc"/><stop offset="0.997" stop-color="#0c04fc"/></linearGradient><linearGradient id="f106"><stop offset="0.003" stop-color="#0c04fc"/><stop offset="0.050" stop-color="#0c04fc"/><stop offset="0.062" stop-color="#1e1ef6"/><stop offset="0.068" stop-color="#2439f0"/><stop offset="0.074" stop-color="#2641f0"/><stop offset="0.086" stop-color="#4683f0"/><stop offset="0.092" stop-color="#498af0"/><stop offset="0.098" stop-color="#53a8f0"/><stop offset="0.104" stop-color="#56aef0"/><stop offset="0.109" stop-color="#63caf4"/><stop offset="0.115" stop-color="#67d4f5"/><stop offset="0.121" stop-color="#77fbf8"/><stop offset="0.139" stop-color="#6bf6e4"/><stop offset="0.145" stop-color="#54f0bd"/><stop offset="0.151" stop-color="#49f050"/><stop offset="0.169" stop-color="#50f016"/><stop offset="0.423" stop-color="#50f015"/><stop offset="0.441" stop-color="#49f052"/><stop offset="0.459" stop-color="#41f0a2"/><stop offset="0.506" stop-color="#6df6e6"/><stop offset="0.553" stop-color="#75f4f9"/><stop offset="0.559" stop-color="#68d5f5"/><stop offset="0.577" stop-color="#62c8f4"/><stop offset="0.583" stop-color="#57aff1"/><stop offset="0.612" stop-color="#52a5f0"/><stop offset="0.618" stop-color="#4a8df0"/><stop offset="0.648" stop-color="#4683f0"/><stop offset="0.654" stop-color="#3b6df0"/><stop offset="0.695" stop-color="#3562f0"/><stop offset="0.701" stop-color="#2744f0"/><stop offset="0.760" stop-color="#2337f1"/><stop offset="0.766" stop-color="#1f21f5"/><stop offset="0.873" stop-color="#1914f8"/><stop offset="0.885" stop-color="#0d05fc"/><stop offset="0.997" stop-color="#0c04fc"/></linearGradient><linearGradient id="f108"><stop offset="0.003" stop-color="#0c04fc"/><stop offset="0.050" stop-color="#0c04fc"/><stop offset="0.062" stop-color="#1f1ff5"/><stop offset="0.068" stop-color="#243af0"/><stop offset="0.074" stop-color="#2742f0"/><stop offset="0.086" stop-color="#4684f0"/><stop offset="0.092" stop-color="#498bf0"/><stop offset="0.098" stop-color="#53a8f0"/><stop offset="0.104" stop-color="#56aff1"/><stop offset="0.109" stop-color="#63cbf4"/><stop offset="0.115" stop-color="#68d5f5"/><stop offset="0.121" stop-color="#76fbf6"/><stop offset="0.139" stop-color="#6bf5e3"/><stop offset="0.145" stop-color="#50f0b7"/><stop offset="0.151" stop-color="#4af048"/><stop offset="0.169" stop-color="#50f016"/><stop offset="0.423" stop-color="#50f015"/><stop offset="0.441" stop-color="#49f052"/><stop offset="0.459" stop-color="#41f0a2"/><stop offset="0.506" stop-color="#6df6e6"/><stop offset="0.553" stop-color="#75f4f9"/><stop offset="0.559" stop-color="#68d5f5"/><stop offset="0.577" stop-color="#62c8f4"/><stop offset="0.583" stop-color="#57aff1"/><stop offset="0.612" stop-color="#52a5f0"/><stop offset="0.618" stop-color="#4a8cf0"/><stop offset="0.648" stop-color="#4683f0"/><stop offset="0.654" stop-color="#3b6df0"/><stop offset="0.695" stop-color="#3562f0"/><stop offset="0.701" stop-color="#2744f0"/><stop offset="0.760" stop-color="#2337f1"/><stop offset="0.766" stop-color="#1f21f5"/><stop offset="0.873" stop-color="#1814f8"/><stop offset="0.885" stop-color="#0d05fc"/><stop offset="0.997" stop-color="#0c04fc"/></linearGradient><linearGradient id="f110"><stop offset="0.003" stop-color="#0c04fc"/><stop offset="0.050" stop-color="#0c04fc"/><stop offset="0.062" stop-color="#1f20f5"/><stop offset="0.068" stop-color="#243bf0"/><stop offset="0.074" stop-color="#2743f0"/><stop offset="0.086" stop-color="#4684f0"/><stop offset="0.092" stop-color="#498cf0"/><stop offset="0.098" stop-color="#54a9f0"/><stop offset="0.104" stop-color="#56aff1"/><stop offset="0.109" stop-color="#64cbf4"/><stop offset="0.115" stop-color="#68d6f5"/><stop offset="0.121" stop-color="#75fbf5"/><stop offset="0.139" stop-color="#6bf5e3"/><stop offset="0.145" stop-color="#4cf0b1"/><stop offset="0.151" stop-color="#4af048"/><stop offset="0.169" stop-color="#50f016"/><stop offset="0.240" stop-color="#55f015"/><stop offset="0.269" stop-color="#5af017"/><stop offset="0.317" stop-color="#50f014"/><stop offset="0.423" stop-color="#50f015"/><stop offset="0.441" stop-color="#49f052"/><stop offset="0.459" stop-color="#41f0a2"/><stop offset="0.506" stop-color="#6df6e6"/><stop offset="0.553" stop-color="#75f4f9"/><stop offset="0.559" stop-color="#68d5f5"/><stop offset="0.577" stop-color="#62c8f4"/><stop offset="0.583" stop-color="#57aff1"/><stop offset="0.612" stop-color="#52a5f0"/><stop offset="0.618" stop-color="#4a8cf0"/><stop offset="0.648" stop-color="#4683f0"/><stop offset="0.654" stop-color="#3b6df0"/><stop offset="0.695" stop-color="#3562f0"/><stop offset="0.701" stop-color="#2743f0"/><stop offset="0.760" stop-color="#2337f1"/><stop offset="0.766" stop-color="#1f21f5"/><stop offset="0.867" stop-color="#1915f8"/><stop offset="0.873" stop-color="#0d05fc"/><stop offset="0.997" stop-color="#0c04fc"/></linearGradient><linearGradient id="f112"><stop offset="0.003" stop-color="#0c04fc"/><stop offset="0.050" stop-color="#0c04fc"/><stop offset="0.062" stop-color="#1f20f5"/><stop offset="0.068" stop-color="#243bf0"/><stop offset="0.074" stop-color="#2744f0"/><stop offset="0.086" stop-color="#4785f0"/><stop offset="0.092" stop-color="#4a8cf0"/><stop offset="0.098" stop-color="#54aaf0"/><stop offset="0.104" stop-color="#57b0f1"/><stop offset="0.109" stop-color="#64ccf4"/><stop offset="0.115" stop-color="#69d7f5"/><stop offset="0.121" stop-color="#75faf4"/><stop offset="0.139" stop-color="#6af5e2"/><stop offset="0.145" stop-color="#48f0ab"/><stop offset="0.151" stop-color="#4af048"/><stop offset="0.169" stop-color="#50f016"/><stop offset="0.222" stop-color="#50f014"/><stop offset="0.251" stop-color="#76f01e"/><stop offset="0.281" stop-color="#67f01a"/><stop offset="0.299" stop-color="#50f014"/><stop offset="0.423" stop-color="#50f015"/><stop offset="0.441" stop-color="#49f052"/><stop offset="0.459" stop-color="#41f0a2"/><stop offset="0.506" stop-color="#6cf6e6"/><stop offset="0.553" stop-color="#75f4f9"/><stop offset="0.559" stop-color="#68d5f5"/><stop offset="0.577" stop-color="#62c8f4"/><stop offset="0.583" stop-color="#56aff1"/><stop offset="0.612" stop-color="#52a4f0"/><stop offset="0.618" stop-color="#4a8cf0"/><stop offset="0.648" stop-color="#4683f0"/><stop offset="0.654" stop-color="#3a6df0"/><stop offset="0.695" stop-color="#3562f0"/><stop offset="0.701" stop-color="#2743f0"/><stop offset="0.760" stop-color="#2336f1"/><stop offset="0.766" stop-color="#1f21f5"/><stop offset="0.867" stop-color="#1915f8"/><stop offset="0.873" stop-color="#0d05fc"/><stop offset="0.997" stop-color="#0c04fc"/></linearGradient><linearGradient id="f114"><stop offset="0.003" stop-color="#0c04fc"/><stop offset="0.050" stop-color="#0c04fc"/><stop offset="0.062" stop-color="#1f21f5"/><stop offset="0.074" stop-color="#3561f0"/><stop offset="0.080" stop-color="#396af0"/><stop offset="0.086" stop-color="#4786f0"/><stop offset="0.092" stop-color="#4a8df0"/><stop offset="0.104" stop-color="#61c7f3"/><stop offset="0.109" stop-color="#64cdf4"/><stop offset="0.115" stop-color="#72eff8"/><stop offset="0.127" stop-color="#71f8ed"/><stop offset="0.139" stop-color="#68f4de"/><stop offset="0.145" stop-color="#44f0a5"/><stop offset="0.151" stop-color="#4af048"/><stop offset="0.169" stop-color="#50f016"/><stop offset="0.210" stop-color="#50f014"/><stop offset="0.246" stop-color="#8cf023"/><stop offset="0.275" stop-color="#87f022"/><stop offset="0.305" stop-color="#50f014"/><stop offset="0.423" stop-color="#50f015"/><stop offset="0.441" stop-color="#49f052"/><stop offset="0.459" stop-color="#41f0a2"/><stop offset="0.506" stop-color="#6cf6e6"/><stop offset="0.553" stop-color="#75f4f9"/><stop offset="0.559" stop-color="#68d5f5"/><stop offset="0.577" stop-color="#62c8f4"/><stop offset="0.583" stop-color="#56aff1"/><stop offset="0.612" stop-color="#52a4f0"/><stop offset="0.618" stop-color="#498cf0"/><stop offset="0.648" stop-color="#4683f0"/><stop offset="0.654" stop-color="#3a6df0"/><stop offset="0.695" stop-color="#3561f0"/><stop offset="0.701" stop-color="#2743f0"/><stop offset="0.760" stop-color="#2336f1"/><stop offset="0.766" stop-color="#1f21f5"/><stop offset="0.867" stop-color="#1915f8"/><stop offset="0.873" stop-color="#0d05fc"/><stop offset="0.997" stop-color="#0c04fc"/></linearGradient><linearGradient id="f116"><stop offset="0.003" stop-color="#0c04fc"/><stop offset="0.050" stop-color="#0c04fc"/><stop offset="0.062" stop-color="#1f21f5"/><stop offset="0.074" stop-color="#3562f0"/><stop offset="0.080" stop-color="#396bf0"/><stop offset="0.086" stop-color="#4786f0"/><stop offset="0.092" stop-color="#4a8ef0"/><stop offset="0.104" stop-color="#62c7f3"/><stop offset="0.109" stop-color="#65cef4"/><stop offset="0.115" stop-color="#74f2f9"/><stop offset="0.139" stop-color="#65f3da"/><stop offset="0.145" stop-color="#40f09f"/><stop offset="0.151" stop-color="#4af048"/><stop offset="0.169" stop-color="#50f016"/><stop offset="0.204" stop-color="#50f014"/><stop offset="0.234" stop-color="#97f026"/><stop offset="0.263" stop-color="#a8f02a"/><stop offset="0.293" stop-color="#83f021"/><stop offset="0.311" stop-color="#54f015"/><stop offset="0.423" stop-color="#50f015"/><stop offset="0.441" stop-color="#49f052"/><stop offset="0.459" stop-color="#41f0a2"/><stop offset="0.506" stop-color="#6cf6e6"/><stop offset="0.553" stop-color="#75f4f9"/><stop offset="0.559" stop-color="#68d5f5"/><stop offset="0.577" stop-color="#62c8f4"/><stop offset="0.583" stop-color="#56aff1"/><stop offset="0.612" stop-color="#52a4f0"/><stop offset="0.618" stop-color="#498cf0"/><stop offset="0.648" stop-color="#4683f0"/><stop offset="0.654" stop-color="#3a6df0"/><stop offset="0.695" stop-color="#3561f0"/><stop offset="0.701" stop-color="#2743f0"/><stop offset="0.754" stop-color="#2337f1"/><stop offset="0.760" stop-color="#1f22f5"/><stop offset="0.867" stop-color="#1915f8"/><stop offset="0.873" stop-color="#0d05fc"/><stop offset="0.997" stop-color="#0c04fc"/></linearGradient><linearGradient id="f118"><stop offset="0.003" stop-color="#0c04fc"/><stop offset="0.050" stop-color="#0d05fc"/><stop offset="0.062" stop-color="#2337f1"/><stop offset="0.068" stop-color="#253df0"/><stop offset="0.074" stop-color="#3663f0"/><stop offset="0.080" stop-color="#3a6bf0"/><stop offset="0.092" stop-color="#52a5f0"/><stop offset="0.098" stop-color="#55acf0"/><stop offset="0.104" stop-color="#62c8f3"/><stop offset="0.109" stop-color="#65cff4"/><stop offset="0.115" stop-color="#75f5f9"/><stop offset="0.133" stop-color="#6df6e6"/><stop offset="0.139" stop-color="#63f1d5"/><stop offset="0.145" stop-color="#42f090"/><stop offset="0.151" stop-color="#4af048"/><stop offset="0.169" stop-color="#50f014"/><stop offset="0.198" stop-color="#50f014"/><stop offset="0.228" stop-color="#a5f029"/><stop offset="0.257" stop-color="#c1f030"/><stop offset="0.287" stop-color="#a7f02a"/><stop offset="0.322" stop-color="#50f014"/><stop offset="0.423" stop-color="#50f015"/><stop offset="0.441" stop-color="#49f052"/><stop offset="0.459" stop-color="#41f0a2"/><stop offset="0.506" stop-color="#6cf6e6"/><stop offset="0.553" stop-color="#75f4f9"/><stop offset="0.559" stop-color="#68d5f5"/><stop offset="0.577" stop-color="#62c8f4"/><stop offset="0.583" stop-color="#56aff1"/><stop offset="0.612" stop-color="#52a4f0"/><stop offset="0.618" stop-color="#498cf0"/><stop offset="0.648" stop-color="#4683f0"/><stop offset="0.654" stop-color="#3a6df0"/><stop offset="0.695" stop-color="#3561f0"/><stop offset="0.701" stop-color="#2743f0"/><stop offset="0.754" stop-color="#2337f1"/><stop offset="0.760" stop-color="#1f22f5"/><stop offset="0.867" stop-color="#1915f8"/><stop offset="0.873" stop-color="#0d05fc"/><stop offset="0.997" stop-color="#0c04fc"/></linearGradient><linearGradient id="f120"><stop offset="0.003" stop-color="#0c04fc"/><stop offset="0.050" stop-color="#0d05fc"/><stop offset="0.062" stop-color="#2337f1"/><stop offset="0.068" stop-color="#253ef0"/><stop offset="0.074" stop-color="#3664f0"/><stop offset="0.080" stop-color="#3a6cf0"/><stop offset="0.092" stop-color="#52a5f0"/><stop offset="0.098" stop-color="#55acf0"/><stop offset="0.104" stop-color="#62c8f4"/><stop offset="0.109" stop-color="#66d0f5"/><stop offset="0.115" stop-color="#76f8fa"/><stop offset="0.133" stop-color="#6cf6e6"/><stop offset="0.139" stop-color="#60f0d1"/><stop offset="0.145" stop-color="#44f081"/><stop offset="0.151" stop-color="#4af048"/><stop offset="0.169" stop-color="#50f014"/><stop offset="0.192" stop-color="#50f014"/><stop offset="0.228" stop-color="#bdf02f"/><stop offset="0.263" stop-color="#cff030"/><stop offset="0.293" stop-color="#b3f02d"/><stop offset="0.322" stop-color="#58f016"/><stop offset="0.423" stop-color="#50f015"/><stop offset="0.441" stop-color="#49f052"/><stop offset="0.459" stop-color="#41f0a1"/><stop offset="0.506" stop-color="#6cf6e5"/><stop offset="0.553" stop-color="#75f4f9"/><stop offset="0.559" stop-color="#68d5f5"/><stop offset="0.577" stop-color="#62c8f4"/><stop offset="0.583" stop-color="#56aff1"/><stop offset="0.612" stop-color="#52a4f0"/><stop offset="0.618" stop-color="#498cf0"/><stop offset="0.648" stop-color="#4583f0"/><stop offset="0.654" stop-color="#3a6df0"/><stop offset="0.695" stop-color="#3561f0"/><stop offset="0.701" stop-color="#2743f0"/><stop offset="0.754" stop-color="#2337f1"/><stop offset="0.760" stop-color="#1f21f5"/><stop offset="0.867" stop-color="#1915f8"/><stop offset="0.873" stop-color="#0d05fc"/><stop offset="0.997" stop-color="#0c04fc"/></linearGradient><linearGradient id="f122"><stop offset="0.003" stop-color="#0c04fc"/><stop offset="0.044" stop-color="#0c04fc"/><stop offset="0.056" stop-color="#1e1df6"/><stop offset="0.062" stop-color="#2338f1"/><stop offset="0.068" stop-color="#253ff0"/><stop offset="0.074" stop-color="#3765f0"/><stop offset="0.080" stop-color="#3a6df0"/><stop offset="0.092" stop-color="#53a6f0"/><stop offset="0.098" stop-color="#55adf0"/><stop offset="0.104" stop-color="#63c9f4"/><stop offset="0.109" stop-color="#66d1f5"/><stop offset="0.115" stop-color="#78fbfa"/><stop offset="0.133" stop-color="#6cf6e5"/><stop offset="0.139" stop-color="#5df0cb"/><stop offset="0.145" stop-color="#45f072"/><stop offset="0.151" stop-color="#4af048"/><stop offset="0.169" stop-color="#50f014"/><stop offset="0.186" stop-color="#50f014"/><stop offset="0.198" stop-color="#7af01f"/><stop offset="0.216" stop-color="#bbf02f"/><stop offset="0.251" stop-color="#dff030"/><stop offset="0.287" stop-color="#cff030"/><stop offset="0.305" stop-color="#aff02c"/><stop offset="0.328" stop-color="#59f016"/><stop offset="0.364" stop-color="#50f014"/><stop offset="0.423" stop-color="#50f015"/><stop offset="0.441" stop-color="#49f052"/><stop offset="0.459" stop-color="#41f0a1"/><stop offset="0.506" stop-color="#6cf6e5"/><stop offset="0.553" stop-color="#75f4f9"/><stop offset="0.559" stop-color="#68d5f5"/><stop offset="0.577" stop-color="#62c8f4"/><stop offset="0.583" stop-color="#56aff1"/><stop offset="0.612" stop-color="#52a4f0"/><stop offset="0.618" stop-color="#498cf0"/><stop offset="0.648" stop-color="#4583f0"/><stop offset="0.654" stop-color="#3a6df0"/><stop offset="0.695" stop-color="#3561f0"/><stop offset="0.701" stop-color="#2742f0"/><stop offset="0.754" stop-color="#2337f1"/><stop offset="0.760" stop-color="#1f21f5"/><stop offset="0.867" stop-color="#1915f8"/><stop offset="0.879" stop-color="#0d05fc"/><stop offset="0.997" stop-color="#0c04fc"/></linearGradient><linearGradient id="f124"><stop offset="0.003" stop-color="#0c04fc"/><stop offset="0.044" stop-color="#0c04fc"/><stop offset="0.056" stop-color="#1e1ef6"/><stop offset="0.062" stop-color="#2339f1"/><stop offset="0.068" stop-color="#2640f0"/><stop offset="0.074" stop-color="#3766f0"/><stop offset="0.080" stop-color="#3b6df0"/><stop offset="0.092" stop-color="#53a7f0"/><stop offset="0.098" stop-color="#56adf0"/><stop offset="0.104" stop-color="#63c9f4"/><stop offset="0.109" stop-color="#67d2f5"/><stop offset="0.115" stop-color="#77fcf9"/><stop offset="0.133" stop-color="#6cf6e5"/><stop offset="0.139" stop-color="#59f0c5"/><stop offset="0.145" stop-color="#46f06a"/><stop offset="0.151" stop-color="#4af048"/><stop offset="0.157" stop-color="#4cf037"/><stop offset="0.163" stop-color="#50f014"/><stop offset="0.186" stop-color="#5af016"/><stop offset="0.204" stop-color="#b1f02c"/><stop offset="0.228" stop-color="#e1f030"/><stop offset="0.263" stop-color="#f0ed30"/><stop offset="0.299" stop-color="#d2f030"/><stop offset="0.317" stop-color="#a5f029"/><stop offset="0.334" stop-color="#5cf017"/><stop offset="0.352" stop-color="#50f014"/><stop offset="0.423" stop-color="#50f015"/><stop offset="0.441" stop-color="#49f052"/><stop offset="0.459" stop-color="#41f0a1"/><stop offset="0.506" stop-color="#6cf6e5"/><stop offset="0.553" stop-color="#75f4f9"/><stop offset="0.559" stop-color="#68d5f5"/><stop offset="0.577" stop-color="#62c8f4"/><stop offset="0.583" stop-color="#56aff1"/><stop offset="0.612" stop-color="#52a4f0"/><stop offset="0.618" stop-color="#498cf0"/><stop offset="0.648" stop-color="#4583f0"/><stop offset="0.654" stop-color="#3a6df0"/><stop offset="0.695" stop-color="#3561f0"/><stop offset="0.701" stop-color="#2742f0"/><stop offset="0.754" stop-color="#2337f1"/><stop offset="0.760" stop-color="#1f21f5"/><stop offset="0.867" stop-color="#1915f8"/><stop offset="0.879" stop-color="#0d05fc"/><stop offset="0.997" stop-color="#0c04fc"/></linearGradient><linearGradient id="f126"><stop offset="0.003" stop-color="#0c04fc"/><stop offset="0.044" stop-color="#0c04fc"/><stop offset="0.056" stop-color="#1e1ef6"/><stop offset="0.062" stop-color="#2339f1"/><stop offset="0.068" stop-color="#2641f0"/><stop offset="0.080" stop-color="#4583f0"/><stop offset="0.086" stop-color="#498af0"/><stop offset="0.092" stop-color="#53a8f0"/><stop offset="0.098" stop-color="#56aef0"/><stop offset="0.104" stop-color="#63caf4"/><stop offset="0.109" stop-color="#67d4f5"/><stop offset="0.115" stop-color="#77fbf8"/><stop offset="0.133" stop-color="#6bf6e4"/><stop offset="0.139" stop-color="#55f0bf"/><stop offset="0.145" stop-color="#46f06a"/><stop offset="0.151" stop-color="#4af048"/><stop offset="0.157" stop-color="#4cf037"/><stop offset="0.163" stop-color="#50f014"/><stop offset="0.180" stop-color="#50f014"/><stop offset="0.198" stop-color="#b5f02d"/><stop offset="0.222" stop-color="#ebf030"/><stop offset="0.263" stop-color="#efd830"/><stop offset="0.293" stop-color="#edf030"/><stop offset="0.317" stop-color="#c2f030"/><stop offset="0.340" stop-color="#5bf017"/><stop offset="0.358" stop-color="#50f014"/><stop offset="0.423" stop-color="#50f015"/><stop offset="0.441" stop-color="#49f052"/><stop offset="0.459" stop-color="#41f0a1"/><stop offset="0.506" stop-color="#6cf6e5"/><stop offset="0.553" stop-color="#75f4f9"/><stop offset="0.559" stop-color="#68d5f5"/><stop offset="0.577" stop-color="#62c8f4"/><stop offset="0.583" stop-color="#56aff1"/><stop offset="0.612" stop-color="#52a4f0"/><stop offset="0.618" stop-color="#498cf0"/><stop offset="0.648" stop-color="#4583f0"/><stop offset="0.654" stop-color="#3a6cf0"/><stop offset="0.695" stop-color="#3560f0"/><stop offset="0.701" stop-color="#2742f0"/><stop offset="0.754" stop-color="#2337f1"/><stop offset="0.760" stop-color="#1f21f5"/><stop offset="0.867" stop-color="#1915f8"/><stop offset="0.879" stop-color="#0d05fc"/><stop offset="0.997" stop-color="#0c04fc"/></linearGradient><linearGradient id="f128"><stop offset="0.003" stop-color="#0c04fc"/><stop offset="0.044" stop-color="#0c04fc"/><stop offset="0.056" stop-color="#1f1ff5"/><stop offset="0.062" stop-color="#243af0"/><stop offset="0.068" stop-color="#2742f0"/><stop offset="0.080" stop-color="#4684f0"/><stop offset="0.086" stop-color="#498bf0"/><stop offset="0.092" stop-color="#53a8f0"/><stop offset="0.098" stop-color="#56aff1"/><stop offset="0.104" stop-color="#63cbf4"/><stop offset="0.109" stop-color="#68d5f5"/><stop offset="0.115" stop-color="#76fbf7"/><stop offset="0.133" stop-color="#6bf6e3"/><stop offset="0.139" stop-color="#51f0b9"/><stop offset="0.145" stop-color="#46f06a"/><stop offset="0.151" stop-color="#4af048"/><stop offset="0.157" stop-color="#4cf037"/><stop offset="0.163" stop-color="#50f014"/><stop offset="0.175" stop-color="#50f014"/><stop offset="0.180" stop-color="#68f01a"/><stop offset="0.192" stop-color="#b3f02d"/><stop offset="0.210" stop-color="#e7f030"/><stop offset="0.251" stop-color="#eec330"/><stop offset="0.287" stop-color="#efd630"/><stop offset="0.305" stop-color="#ebf030"/><stop offset="0.328" stop-color="#aef02c"/><stop offset="0.346" stop-color="#58f016"/><stop offset="0.423" stop-color="#50f015"/><stop offset="0.441" stop-color="#49f051"/><stop offset="0.459" stop-color="#41f0a1"/><stop offset="0.506" stop-color="#6cf6e5"/><stop offset="0.553" stop-color="#75f4f9"/><stop offset="0.559" stop-color="#68d5f5"/><stop offset="0.577" stop-color="#62c8f4"/><stop offset="0.583" stop-color="#56aff1"/><stop offset="0.607" stop-color="#53a6f0"/><stop offset="0.612" stop-color="#4a8ef0"/><stop offset="0.648" stop-color="#4583f0"/><stop offset="0.654" stop-color="#3a6cf0"/><stop offset="0.695" stop-color="#3560f0"/><stop offset="0.701" stop-color="#2742f0"/><stop offset="0.754" stop-color="#2337f1"/><stop offset="0.760" stop-color="#1f21f5"/><stop offset="0.867" stop-color="#1914f8"/><stop offset="0.879" stop-color="#0d05fc"/><stop offset="0.997" stop-color="#0c04fc"/></linearGradient><linearGradient id="f130"><stop offset="0.003" stop-color="#0c04fc"/><stop offset="0.044" stop-color="#0c04fc"/><stop offset="0.056" stop-color="#1f1ff5"/><stop offset="0.062" stop-color="#243af0"/><stop offset="0.068" stop-color="#2743f0"/><stop offset="0.080" stop-color="#4684f0"/><stop offset="0.086" stop-color="#498bf0"/><stop offset="0.092" stop-color="#54a9f0"/><stop offset="0.098" stop-color="#56aff1"/><stop offset="0.104" stop-color="#64cbf4"/><stop offset="0.109" stop-color="#68d6f5"/><stop offset="0.115" stop-color="#75fbf6"/><stop offset="0.133" stop-color="#6bf5e3"/><stop offset="0.139" stop-color="#4df0b3"/><stop offset="0.145" stop-color="#46f06a"/><stop offset="0.157" stop-color="#4ef026"/><stop offset="0.163" stop-color="#50f014"/><stop offset="0.175" stop-color="#50f014"/><stop offset="0.192" stop-color="#c5f030"/><stop offset="0.210" stop-color="#f0ea30"/><stop offset="0.240" stop-color="#edb930"/><stop offset="0.275" stop-color="#edb930"/><stop offset="0.311" stop-color="#edf030"/><stop offset="0.328" stop-color="#c2f030"/><stop offset="0.352" stop-color="#50f014"/><stop offset="0.423" stop-color="#50f015"/><stop offset="0.441" stop-color="#49f051"/><stop offset="0.459" stop-color="#41f0a1"/><stop offset="0.506" stop-color="#6cf6e5"/><stop offset="0.553" stop-color="#75f4f9"/><stop offset="0.559" stop-color="#68d5f5"/><stop offset="0.577" stop-color="#62c8f4"/><stop offset="0.583" stop-color="#56aff1"/><stop offset="0.607" stop-color="#53a6f0"/><stop offset="0.612" stop-color="#4a8ef0"/><stop offset="0.648" stop-color="#4583f0"/><stop offset="0.654" stop-color="#3a6cf0"/><stop offset="0.689" stop-color="#3562f0"/><stop offset="0.695" stop-color="#2744f0"/><stop offset="0.754" stop-color="#2337f1"/><stop offset="0.760" stop-color="#1f21f5"/><stop offset="0.867" stop-color="#1814f8"/><stop offset="0.879" stop-color="#0d05fc"/><stop offset="0.997" stop-color="#0c04fc"/></linearGradient><linearGradient id="f132"><stop offset="0.003" stop-color="#0c04fc"/><stop offset="0.044" stop-color="#0c04fc"/><stop offset="0.056" stop-color="#1f20f5"/><stop offset="0.062" stop-color="#243bf0"/><stop offset="0.068" stop-color="#2743f0"/><stop offset="0.080" stop-color="#4685f0"/><stop offset="0.086" stop-color="#498cf0"/><stop offset="0.092" stop-color="#54aaf0"/><stop offset="0.098" stop-color="#57b0f1"/><stop offset="0.104" stop-color="#64ccf4"/><stop offset="0.109" stop-color="#68d7f5"/><stop offset="0.115" stop-color="#75faf4"/><stop offset="0.133" stop-color="#6af5e2"/><stop offset="0.139" stop-color="#49f0ad"/><stop offset="0.145" stop-color="#46f06a"/><stop offset="0.151" stop-color="#4af048"/><stop offset="0.157" stop-color="#50f014"/><stop offset="0.169" stop-color="#50f014"/><stop offset="0.175" stop-color="#5df017"/><stop offset="0.186" stop-color="#b8f02e"/><stop offset="0.204" stop-color="#f0ed30"/><stop offset="0.234" stop-color="#edb230"/><stop offset="0.263" stop-color="#eca430"/><stop offset="0.299" stop-color="#eecd30"/><stop offset="0.317" stop-color="#ebf030"/><stop offset="0.334" stop-color="#baf02f"/><stop offset="0.352" stop-color="#5cf017"/><stop offset="0.364" stop-color="#50f014"/><stop offset="0.423" stop-color="#50f015"/><stop offset="0.441" stop-color="#49f051"/><stop offset="0.459" stop-color="#41f0a1"/><stop offset="0.506" stop-color="#6cf6e5"/><stop offset="0.553" stop-color="#75f4f9"/><stop offset="0.559" stop-color="#68d5f5"/><stop offset="0.577" stop-color="#62c8f4"/><stop offset="0.583" stop-color="#56aff1"/><stop offset="0.607" stop-color="#53a6f0"/><stop offset="0.612" stop-color="#4a8ef0"/><stop offset="0.648" stop-color="#4582f0"/><stop offset="0.654" stop-color="#3a6cf0"/><stop offset="0.689" stop-color="#3562f0"/><stop offset="0.695" stop-color="#2743f0"/><stop offset="0.754" stop-color="#2336f1"/><stop offset="0.760" stop-color="#1f21f5"/><stop offset="0.861" stop-color="#1915f8"/><stop offset="0.867" stop-color="#0d05fc"/><stop offset="0.997" stop-color="#0c04fc"/></linearGradient><linearGradient id="f134"><stop offset="0.003" stop-color="#0c04fc"/><stop offset="0.044" stop-color="#0c04fc"/><stop offset="0.056" stop-color="#1f21f5"/><stop offset="0.068" stop-color="#3561f0"/><stop offset="0.074" stop-color="#396af0"/><stop offset="0.080" stop-color="#4786f0"/><stop offset="0.086" stop-color="#4a8df0"/><stop offset="0.098" stop-color="#61c6f3"/><stop offset="0.104" stop-color="#64cdf4"/><stop offset="0.109" stop-color="#72eef8"/><stop offset="0.121" stop-color="#71f8ee"/><stop offset="0.133" stop-color="#69f4df"/><stop offset="0.139" stop-color="#45f0a7"/><stop offset="0.145" stop-color="#46f06a"/><stop offset="0.151" stop-color="#4af048"/><stop offset="0.157" stop-color="#50f014"/><stop offset="0.169" stop-color="#50f014"/><stop offset="0.175" stop-color="#6ef01b"/><stop offset="0.186" stop-color="#c6f030"/><stop offset="0.198" stop-color="#eef030"/><stop offset="0.234" stop-color="#eca430"/><stop offset="0.263" stop-color="#ed952d"/><stop offset="0.299" stop-color="#eebf30"/><stop offset="0.322" stop-color="#e8f030"/><stop offset="0.340" stop-color="#aef02b"/><stop offset="0.358" stop-color="#50f014"/><stop offset="0.423" stop-color="#50f014"/><stop offset="0.441" stop-color="#49f051"/><stop offset="0.459" stop-color="#41f0a1"/><stop offset="0.506" stop-color="#6cf6e5"/><stop offset="0.553" stop-color="#75f4f9"/><stop offset="0.559" stop-color="#68d5f5"/><stop offset="0.577" stop-color="#62c8f4"/><stop offset="0.583" stop-color="#56aff1"/><stop offset="0.607" stop-color="#53a6f0"/><stop offset="0.612" stop-color="#4a8ef0"/><stop offset="0.648" stop-color="#4582f0"/><stop offset="0.654" stop-color="#3a6cf0"/><stop offset="0.689" stop-color="#3562f0"/><stop offset="0.695" stop-color="#2743f0"/><stop offset="0.754" stop-color="#2336f1"/><stop offset="0.760" stop-color="#1f21f5"/><stop offset="0.861" stop-color="#1915f8"/><stop offset="0.867" stop-color="#0d05fc"/><stop offset="0.997" stop-color="#0c04fc"/></linearGradient><linearGradient id="f136"><stop offset="0.003" stop-color="#0c04fc"/><stop offset="0.044" stop-color="#0c04fc"/><stop offset="0.056" stop-color="#1f21f5"/><stop offset="0.068" stop-color="#3562f0"/><stop offset="0.074" stop-color="#396bf0"/><stop offset="0.080" stop-color="#4786f0"/><stop offset="0.086" stop-color="#4a8ef0"/><stop offset="0.098" stop-color="#62c7f3"/><stop offset="0.104" stop-color="#65cef4"/><stop offset="0.109" stop-color="#73f1f9"/><stop offset="0.127" stop-color="#6df7e7"/><stop offset="0.133" stop-color="#66f3db"/><stop offset="0.139" stop-color="#41f0a1"/><stop offset="0.145" stop-color="#46f06a"/><stop offset="0.151" stop-color="#4af048"/><stop offset="0.157" stop-color="#50f014"/><stop offset="0.169" stop-color="#50f014"/><stop offset="0.180" stop-color="#b1f02c"/><stop offset="0.192" stop-color="#e6f030"/><stop offset="0.216" stop-color="#edb530"/><stop offset="0.246" stop-color="#ef8a2a"/><stop offset="0.275" stop-color="#ee8e2c"/><stop offset="0.311" stop-color="#eecd30"/><stop offset="0.322" stop-color="#f0ed30"/><stop offset="0.340" stop-color="#c0f030"/><stop offset="0.358" stop-color="#5bf017"/><stop offset="0.382" stop-color="#50f014"/><stop offset="0.423" stop-color="#50f014"/><stop offset="0.441" stop-color="#49f051"/><stop offset="0.459" stop-color="#41f0a1"/><stop offset="0.506" stop-color="#6cf6e5"/><stop offset="0.553" stop-color="#75f4f9"/><stop offset="0.559" stop-color="#68d5f5"/><stop offset="0.577" stop-color="#62c8f4"/><stop offset="0.583" stop-color="#56aff1"/><stop offset="0.607" stop-color="#53a6f0"/><stop offset="0.612" stop-color="#4a8ef0"/><stop offset="0.642" stop-color="#4684f0"/><stop offset="0.648" stop-color="#3b6ef0"/><stop offset="0.689" stop-color="#3561f0"/><stop offset="0.695" stop-color="#2743f0"/><stop offset="0.749" stop-color="#2337f1"/><stop offset="0.754" stop-color="#1f22f5"/><stop offset="0.861" stop-color="#1915f8"/><stop offset="0.867" stop-color="#0d05fc"/><stop offset="0.997" stop-color="#0c04fc"/></linearGradient><linearGradient id="f138"><stop offset="0.003" stop-color="#0c04fc"/><stop offset="0.044" stop-color="#0d05fc"/><stop offset="0.056" stop-color="#2337f1"/><stop offset="0.062" stop-color="#253df0"/><stop offset="0.068" stop-color="#3663f0"/><stop offset="0.074" stop-color="#3a6bf0"/><stop offset="0.086" stop-color="#52a4f0"/><stop offset="0.092" stop-color="#55acf0"/><stop offset="0.098" stop-color="#62c8f3"/><stop offset="0.104" stop-color="#65cff4"/><stop offset="0.109" stop-color="#75f4f9"/><stop offset="0.133" stop-color="#64f2d6"/><stop offset="0.139" stop-color="#40f09e"/><stop offset="0.145" stop-color="#46f06a"/><stop offset="0.151" stop-color="#4af048"/><stop offset="0.157" stop-color="#50f014"/><stop offset="0.169" stop-color="#51f014"/><stop offset="0.180" stop-color="#c0f030"/><stop offset="0.192" stop-color="#eff030"/><stop offset="0.222" stop-color="#ec9d2f"/><stop offset="0.251" stop-color="#f17b27"/><stop offset="0.281" stop-color="#ef882a"/><stop offset="0.317" stop-color="#eed130"/><stop offset="0.328" stop-color="#ecf030"/><stop offset="0.346" stop-color="#aef02b"/><stop offset="0.364" stop-color="#50f014"/><stop offset="0.423" stop-color="#50f014"/><stop offset="0.441" stop-color="#49f051"/><stop offset="0.459" stop-color="#41f0a1"/><stop offset="0.506" stop-color="#6cf6e5"/><stop offset="0.553" stop-color="#75f4f9"/><stop offset="0.559" stop-color="#68d5f5"/><stop offset="0.577" stop-color="#62c8f4"/><stop offset="0.583" stop-color="#56aff1"/><stop offset="0.607" stop-color="#53a6f0"/><stop offset="0.612" stop-color="#4a8ef0"/><stop offset="0.642" stop-color="#4684f0"/><stop offset="0.648" stop-color="#3b6df0"/><stop offset="0.689" stop-color="#3561f0"/><stop offset="0.695" stop-color="#2743f0"/><stop offset="0.749" stop-color="#2337f1"/><stop offset="0.754" stop-color="#1f21f5"/><stop offset="0.861" stop-color="#1915f8"/><stop offset="0.867" stop-color="#0d05fc"/><stop offset="0.997" stop-color="#0c04fc"/></linearGradient><linearGradient id="f140"><stop offset="0.003" stop-color="#0c04fc"/><stop offset="0.044" stop-color="#0d05fc"/><stop offset="0.056" stop-color="#2337f1"/><stop offset="0.062" stop-color="#253ef0"/><stop offset="0.068" stop-color="#3664f0"/><stop offset="0.074" stop-color="#3a6cf0"/><stop offset="0.086" stop-color="#52a5f0"/><stop offset="0.092" stop-color="#55acf0"/><stop offset="0.098" stop-color="#62c8f4"/><stop offset="0.104" stop-color="#66d0f4"/><stop offset="0.109" stop-color="#76f7f9"/><stop offset="0.127" stop-color="#6df6e6"/><stop offset="0.133" stop-color="#61f0d2"/><stop offset="0.139" stop-color="#40f09e"/><stop offset="0.145" stop-color="#46f06a"/><stop offset="0.151" stop-color="#4af048"/><stop offset="0.157" stop-color="#50f014"/><stop offset="0.169" stop-color="#5ef018"/><stop offset="0.180" stop-color="#c8f030"/><stop offset="0.192" stop-color="#f0e730"/><stop offset="0.222" stop-color="#ee912c"/><stop offset="0.251" stop-color="#f26e24"/><stop offset="0.281" stop-color="#f07c27"/><stop offset="0.317" stop-color="#eec730"/><stop offset="0.328" stop-color="#f0ea30"/><stop offset="0.346" stop-color="#bcf02f"/><stop offset="0.364" stop-color="#51f014"/><stop offset="0.423" stop-color="#50f014"/><stop offset="0.441" stop-color="#49f051"/><stop offset="0.459" stop-color="#41f0a1"/><stop offset="0.506" stop-color="#6cf6e5"/><stop offset="0.553" stop-color="#75f4f9"/><stop offset="0.559" stop-color="#68d5f5"/><stop offset="0.577" stop-color="#62c8f4"/><stop offset="0.583" stop-color="#56aff1"/><stop offset="0.607" stop-color="#53a6f0"/><stop offset="0.612" stop-color="#4a8ef0"/><stop offset="0.642" stop-color="#4684f0"/><stop offset="0.648" stop-color="#3b6df0"/><stop offset="0.689" stop-color="#3561f0"/><stop offset="0.695" stop-color="#2743f0"/><stop offset="0.749" stop-color="#2337f1"/><stop offset="0.754" stop-color="#1f21f5"/><stop offset="0.861" stop-color="#1915f8"/><stop offset="0.867" stop-color="#0d05fc"/><stop offset="0.997" stop-color="#0c04fc"/></linearGradient><linearGradient id="f142"><stop offset="0.003" stop-color="#0c04fc"/><stop offset="0.038" stop-color="#0c04fc"/><stop offset="0.050" stop-color="#1e1df6"/><stop offset="0.056" stop-color="#2338f1"/><stop offset="0.062" stop-color="#253ff0"/><stop offset="0.068" stop-color="#3665f0"/><stop offset="0.074" stop-color="#3a6df0"/><stop offset="0.086" stop-color="#53a6f0"/><stop offset="0.092" stop-color="#55adf0"/><stop offset="0.098" stop-color="#62c9f4"/><stop offset="0.104" stop-color="#66d1f5"/><stop offset="0.109" stop-color="#77fafa"/><stop offset="0.127" stop-color="#6cf6e5"/><stop offset="0.133" stop-color="#5ef0cc"/><stop offset="0.139" stop-color="#40f09e"/><stop offset="0.157" stop-color="#50f014"/><stop offset="0.163" stop-color="#50f014"/><stop offset="0.169" stop-color="#6bf01b"/><stop offset="0.175" stop-color="#a8f02a"/><stop offset="0.186" stop-color="#ebf030"/><stop offset="0.222" stop-color="#ef8529"/><stop offset="0.251" stop-color="#f46220"/><stop offset="0.281" stop-color="#f27024"/><stop offset="0.317" stop-color="#edbc30"/><stop offset="0.334" stop-color="#ecf030"/><stop offset="0.352" stop-color="#a7f02a"/><stop offset="0.364" stop-color="#5ef017"/><stop offset="0.376" stop-color="#50f014"/><stop offset="0.423" stop-color="#50f014"/><stop offset="0.441" stop-color="#49f051"/><stop offset="0.459" stop-color="#40f0a1"/><stop offset="0.506" stop-color="#6cf6e4"/><stop offset="0.553" stop-color="#75f4f9"/><stop offset="0.559" stop-color="#68d5f5"/><stop offset="0.577" stop-color="#62c8f4"/><stop offset="0.583" stop-color="#56aff1"/><stop offset="0.607" stop-color="#53a6f0"/><stop offset="0.612" stop-color="#4a8df0"/><stop offset="0.642" stop-color="#4684f0"/><stop offset="0.648" stop-color="#3b6df0"/><stop offset="0.689" stop-color="#3561f0"/><stop offset="0.695" stop-color="#2743f0"/><stop offset="0.749" stop-color="#2337f1"/><stop offset="0.754" stop-color="#1f21f5"/><stop offset="0.861" stop-color="#1915f8"/><stop offset="0.867" stop-color="#0d05fc"/><stop offset="0.997" stop-color="#0c04fc"/></linearGradient><linearGradient id="f144"><stop offset="0.003" stop-color="#0c04fc"/><stop offset="0.038" stop-color="#0c04fc"/><stop offset="0.050" stop-color="#1e1df6"/><stop offset="0.056" stop-color="#2338f1"/><stop offset="0.062" stop-color="#2640f0"/><stop offset="0.068" stop-color="#3766f0"/><stop offset="0.074" stop-color="#3b6df0"/><stop offset="0.086" stop-color="#53a7f0"/><stop offset="0.092" stop-color="#56adf0"/><stop offset="0.098" stop-color="#63c9f4"/><stop offset="0.104" stop-color="#67d2f5"/><stop offset="0.109" stop-color="#78fcf9"/><stop offset="0.127" stop-color="#6cf6e5"/><stop offset="0.139" stop-color="#40f09e"/><stop offset="0.151" stop-color="#4cf034"/><stop offset="0.157" stop-color="#50f014"/><stop offset="0.163" stop-color="#50f014"/><stop offset="0.169" stop-color="#78f01e"/><stop offset="0.175" stop-color="#b6f02e"/><stop offset="0.186" stop-color="#f0ec30"/><stop offset="0.216" stop-color="#ef872a"/><stop offset="0.246" stop-color="#f55a1e"/><stop offset="0.281" stop-color="#f46421"/><stop offset="0.317" stop-color="#edb130"/><stop offset="0.334" stop-color="#f0ea30"/><stop offset="0.352" stop-color="#b5f02d"/><stop offset="0.370" stop-color="#50f014"/><stop offset="0.423" stop-color="#50f014"/><stop offset="0.441" stop-color="#49f051"/><stop offset="0.459" stop-color="#40f0a1"/><stop offset="0.506" stop-color="#6cf6e4"/><stop offset="0.553" stop-color="#75f4f9"/><stop offset="0.559" stop-color="#68d5f5"/><stop offset="0.577" stop-color="#62c8f4"/><stop offset="0.583" stop-color="#56aff1"/><stop offset="0.607" stop-color="#52a6f0"/><stop offset="0.612" stop-color="#4a8df0"/><stop offset="0.642" stop-color="#4684f0"/><stop offset="0.648" stop-color="#3b6df0"/><stop offset="0.689" stop-color="#3561f0"/><stop offset="0.695" stop-color="#2743f0"/><stop offset="0.749" stop-color="#2337f1"/><stop offset="0.754" stop-color="#1f21f5"/><stop offset="0.861" stop-color="#1915f8"/><stop offset="0.873" stop-color="#0d05fc"/><stop offset="0.997" stop-color="#0c04fc"/></linearGradient><linearGradient id="f146"><stop offset="0.003" stop-color="#0c04fc"/><stop offset="0.038" stop-color="#0c04fc"/><stop offset="0.050" stop-color="#1e1ef6"/><stop offset="0.056" stop-color="#2339f1"/><stop offset="0.062" stop-color="#2641f0"/><stop offset="0.074" stop-color="#4583f0"/><stop offset="0.080" stop-color="#498af0"/><stop offset="0.086" stop-color="#53a7f0"/><stop offset="0.092" stop-color="#56aef0"/><stop offset="0.098" stop-color="#63caf4"/><stop offset="0.104" stop-color="#67d3f5"/><stop offset="0.109" stop-color="#77fbf8"/><stop offset="0.127" stop-color="#6bf6e4"/><stop offset="0.139" stop-color="#40f09e"/><stop offset="0.151" stop-color="#4ef026"/><stop offset="0.157" stop-color="#50f014"/><stop offset="0.163" stop-color="#50f014"/><stop offset="0.175" stop-color="#c3f030"/><stop offset="0.180" stop-color="#e2f030"/><stop offset="0.192" stop-color="#eec830"/><stop offset="0.222" stop-color="#f26d23"/><stop offset="0.251" stop-color="#f84d19"/><stop offset="0.287" stop-color="#f46020"/><stop offset="0.322" stop-color="#edb830"/><stop offset="0.340" stop-color="#ebf030"/><stop offset="0.352" stop-color="#c2f030"/><stop offset="0.370" stop-color="#51f014"/><stop offset="0.423" stop-color="#50f014"/><stop offset="0.441" stop-color="#49f051"/><stop offset="0.459" stop-color="#40f0a1"/><stop offset="0.506" stop-color="#6cf6e4"/><stop offset="0.553" stop-color="#75f4f9"/><stop offset="0.559" stop-color="#68d5f5"/><stop offset="0.577" stop-color="#62c8f4"/><stop offset="0.583" stop-color="#56aff1"/><stop offset="0.607" stop-color="#52a6f0"/><stop offset="0.612" stop-color="#4a8df0"/><stop offset="0.642" stop-color="#4684f0"/><stop offset="0.648" stop-color="#3b6df0"/><stop offset="0.689" stop-color="#3561f0"/><stop offset="0.695" stop-color="#2742f0"/><stop offset="0.749" stop-color="#2337f1"/><stop offset="0.754" stop-color="#1f21f5"/><stop offset="0.861" stop-color="#1915f8"/><stop offset="0.873" stop-color="#0d05fc"/><stop offset="0.997" stop-color="#0c04fc"/></linearGradient><linearGradient id="f148"><stop offset="0.003" stop-color="#0c04fc"/><stop offset="0.038" stop-color="#0c04fc"/><stop offset="0.050" stop-color="#1e1ff6"/><stop offset="0.056" stop-color="#243af0"/><stop offset="0.062" stop-color="#2641f0"/><stop offset="0.074" stop-color="#4683f0"/><stop offset="0.080" stop-color="#498bf0"/><stop offset="0.086" stop-color="#53a8f0"/><stop offset="0.092" stop-color="#56aef1"/><stop offset="0.098" stop-color="#63caf4"/><stop offset="0.104" stop-color="#67d4f5"/><stop offset="0.109" stop-color="#76fbf7"/><stop offset="0.127" stop-color="#6bf6e4"/><stop offset="0.139" stop-color="#40f09e"/><stop offset="0.145" stop-color="#46f06a"/><stop offset="0.151" stop-color="#50f018"/><stop offset="0.163" stop-color="#50f014"/><stop offset="0.175" stop-color="#cbf030"/><stop offset="0.180" stop-color="#ebf030"/><stop offset="0.210" stop-color="#f07e28"/><stop offset="0.234" stop-color="#f84f1a"/><stop offset="0.269" stop-color="#fa4515"/><stop offset="0.299" stop-color="#f36b23"/><stop offset="0.340" stop-color="#f0eb30"/><stop offset="0.358" stop-color="#adf02b"/><stop offset="0.370" stop-color="#5ef018"/><stop offset="0.382" stop-color="#50f014"/><stop offset="0.423" stop-color="#50f014"/><stop offset="0.441" stop-color="#49f051"/><stop offset="0.459" stop-color="#40f0a1"/><stop offset="0.506" stop-color="#6cf6e4"/><stop offset="0.553" stop-color="#75f4f9"/><stop offset="0.559" stop-color="#68d5f5"/><stop offset="0.577" stop-color="#62c8f3"/><stop offset="0.583" stop-color="#56aff1"/><stop offset="0.607" stop-color="#52a6f0"/><stop offset="0.612" stop-color="#4a8df0"/><stop offset="0.642" stop-color="#4683f0"/><stop offset="0.648" stop-color="#3b6df0"/><stop offset="0.689" stop-color="#3561f0"/><stop offset="0.695" stop-color="#2742f0"/><stop offset="0.749" stop-color="#2336f1"/><stop offset="0.754" stop-color="#1f21f5"/><stop offset="0.861" stop-color="#1915f8"/><stop offset="0.873" stop-color="#0d05fc"/><stop offset="0.997" stop-color="#0c04fc"/></linearGradient><linearGradient id="f150"><stop offset="0.003" stop-color="#0c04fc"/><stop offset="0.038" stop-color="#0c04fc"/><stop offset="0.050" stop-color="#1f1ff5"/><stop offset="0.056" stop-color="#243af0"/><stop offset="0.062" stop-color="#2742f0"/><stop offset="0.074" stop-color="#4684f0"/><stop offset="0.080" stop-color="#498bf0"/><stop offset="0.086" stop-color="#54a9f0"/><stop offset="0.092" stop-color="#56aff1"/><stop offset="0.098" stop-color="#64cbf4"/><stop offset="0.104" stop-color="#68d5f5"/><stop offset="0.109" stop-color="#76fbf6"/><stop offset="0.127" stop-color="#6bf5e3"/><stop offset="0.133" stop-color="#4ef0b4"/><stop offset="0.139" stop-color="#40f09e"/><stop offset="0.145" stop-color="#46f06a"/><stop offset="0.151" stop-color="#50f014"/><stop offset="0.163" stop-color="#57f016"/><stop offset="0.169" stop-color="#a2f029"/><stop offset="0.175" stop-color="#d4f030"/><stop offset="0.180" stop-color="#f0ec30"/><stop offset="0.204" stop-color="#ef8529"/><stop offset="0.228" stop-color="#f84c18"/><stop offset="0.263" stop-color="#fd3710"/><stop offset="0.299" stop-color="#f45f1f"/><stop offset="0.340" stop-color="#efe130"/><stop offset="0.352" stop-color="#d3f030"/><stop offset="0.364" stop-color="#94f025"/><stop offset="0.376" stop-color="#50f014"/><stop offset="0.423" stop-color="#50f014"/><stop offset="0.441" stop-color="#49f051"/><stop offset="0.459" stop-color="#40f0a0"/><stop offset="0.506" stop-color="#6bf6e4"/><stop offset="0.553" stop-color="#75f4f9"/><stop offset="0.559" stop-color="#68d5f5"/><stop offset="0.577" stop-color="#62c8f3"/><stop offset="0.583" stop-color="#56aff1"/><stop offset="0.607" stop-color="#52a6f0"/><stop offset="0.612" stop-color="#4a8df0"/><stop offset="0.642" stop-color="#4683f0"/><stop offset="0.648" stop-color="#3b6df0"/><stop offset="0.689" stop-color="#3560f0"/><stop offset="0.695" stop-color="#2742f0"/><stop offset="0.743" stop-color="#2337f1"/><stop offset="0.749" stop-color="#1f22f5"/><stop offset="0.861" stop-color="#1814f8"/><stop offset="0.873" stop-color="#0d05fc"/><stop offset="0.997" stop-color="#0c04fc"/></linearGradient><linearGradient id="f152"><stop offset="0.003" stop-color="#0c04fc"/><stop offset="0.038" stop-color="#0c04fc"/><stop offset="0.050" stop-color="#1f20f5"/><stop offset="0.056" stop-color="#243bf0"/><stop offset="0.062" stop-color="#2743f0"/><stop offset="0.074" stop-color="#4685f0"/><stop offset="0.080" stop-color="#498cf0"/><stop offset="0.086" stop-color="#54aaf0"/><stop offset="0.092" stop-color="#57b0f1"/><stop offset="0.098" stop-color="#64ccf4"/><stop offset="0.104" stop-color="#68d7f5"/><stop offset="0.109" stop-color="#75faf5"/><stop offset="0.127" stop-color="#6af5e2"/><stop offset="0.133" stop-color="#4df0b4"/><stop offset="0.139" stop-color="#40f09e"/><stop offset="0.145" stop-color="#46f06a"/><stop offset="0.151" stop-color="#50f014"/><stop offset="0.157" stop-color="#50f014"/><stop offset="0.163" stop-color="#64f019"/><stop offset="0.169" stop-color="#b0f02c"/><stop offset="0.175" stop-color="#ddf030"/><stop offset="0.180" stop-color="#efe130"/><stop offset="0.204" stop-color="#f17926"/><stop offset="0.228" stop-color="#fa4214"/><stop offset="0.263" stop-color="#ff2c0c"/><stop offset="0.299" stop-color="#f6541b"/><stop offset="0.334" stop-color="#eec030"/><stop offset="0.346" stop-color="#f0ee30"/><stop offset="0.358" stop-color="#c6f030"/><stop offset="0.376" stop-color="#50f014"/><stop offset="0.423" stop-color="#50f014"/><stop offset="0.441" stop-color="#49f050"/><stop offset="0.459" stop-color="#40f0a0"/><stop offset="0.506" stop-color="#6bf6e4"/><stop offset="0.553" stop-color="#75f4f9"/><stop offset="0.559" stop-color="#68d4f5"/><stop offset="0.577" stop-color="#62c8f3"/><stop offset="0.583" stop-color="#56aff1"/><stop offset="0.607" stop-color="#52a5f0"/><stop offset="0.612" stop-color="#4a8df0"/><stop offset="0.642" stop-color="#4683f0"/><stop offset="0.648" stop-color="#3a6df0"/><stop offset="0.683" stop-color="#3562f0"/><stop offset="0.689" stop-color="#2744f0"/><stop offset="0.743" stop-color="#2337f1"/><stop offset="0.749" stop-color="#1f21f5"/><stop offset="0.861" stop-color="#1814f8"/><stop offset="0.873" stop-color="#0d05fc"/><stop offset="0.997" stop-color="#0c04fc"/></linearGradient><linearGradient id="f154"><stop offset="0.003" stop-color="#0c04fc"/><stop offset="0.038" stop-color="#0c04fc"/><stop offset="0.050" stop-color="#1f20f5"/><stop offset="0.062" stop-color="#3561f0"/><stop offset="0.068" stop-color="#396af0"/><stop offset="0.074" stop-color="#4785f0"/><stop offset="0.080" stop-color="#4a8df0"/><stop offset="0.092" stop-color="#61c6f3"/><stop offset="0.098" stop-color="#64ccf4"/><stop offset="0.104" stop-color="#72edf8"/><stop offset="0.115" stop-color="#71f9ee"/><stop offset="0.127" stop-color="#69f5e0"/><stop offset="0.133" stop-color="#4df0b4"/><stop offset="0.139" stop-color="#40f09e"/><stop offset="0.145" stop-color="#46f06a"/><stop offset="0.151" stop-color="#50f014"/><stop offset="0.157" stop-color="#50f014"/><stop offset="0.163" stop-color="#6ff01c"/><stop offset="0.169" stop-color="#bcf02f"/><stop offset="0.175" stop-color="#e4f030"/><stop offset="0.186" stop-color="#edb930"/><stop offset="0.210" stop-color="#f55c1f"/><stop offset="0.240" stop-color="#ff2b0c"/><stop offset="0.281" stop-color="#fe300e"/><stop offset="0.311" stop-color="#f36722"/><stop offset="0.346" stop-color="#efe630"/><stop offset="0.358" stop-color="#ccf030"/><stop offset="0.376" stop-color="#59f016"/><stop offset="0.417" stop-color="#50f014"/><stop offset="0.429" stop-color="#4ef022"/><stop offset="0.459" stop-color="#40f0a0"/><stop offset="0.506" stop-color="#6bf6e4"/><stop offset="0.553" stop-color="#75f4f9"/><stop offset="0.559" stop-color="#68d4f5"/><stop offset="0.577" stop-color="#62c8f3"/><stop offset="0.583" stop-color="#56aff1"/><stop offset="0.607" stop-color="#52a5f0"/><stop offset="0.612" stop-color="#4a8df0"/><stop offset="0.642" stop-color="#4683f0"/><stop offset="0.648" stop-color="#3a6df0"/><stop offset="0.683" stop-color="#3562f0"/><stop offset="0.689" stop-color="#2744f0"/><stop offset="0.743" stop-color="#2337f1"/><stop offset="0.749" stop-color="#1f21f5"/><stop offset="0.855" stop-color="#1915f8"/><stop offset="0.861" stop-color="#0d05fc"/><stop offset="0.997" stop-color="#0c04fc"/></linearGradient><linearGradient id="f156"><stop offset="0.003" stop-color="#0c04fc"/><stop offset="0.038" stop-color="#0c04fc"/><stop offset="0.050" stop-color="#1f21f5"/><stop offset="0.062" stop-color="#3562f0"/><stop offset="0.068" stop-color="#396af0"/><stop offset="0.074" stop-color="#4786f0"/><stop offset="0.080" stop-color="#4a8df0"/><stop offset="0.092" stop-color="#62c7f3"/><stop offset="0.098" stop-color="#65cef4"/><stop offset="0.104" stop-color="#73f0f9"/><stop offset="0.121" stop-color="#6df7e7"/><stop offset="0.127" stop-color="#67f3dc"/><stop offset="0.133" stop-color="#4df0b4"/><stop offset="0.139" stop-color="#40f09e"/><stop offset="0.145" stop-color="#46f06a"/><stop offset="0.151" stop-color="#50f014"/><stop offset="0.157" stop-color="#50f014"/><stop offset="0.163" stop-color="#76f01d"/><stop offset="0.169" stop-color="#c2f030"/><stop offset="0.175" stop-color="#e8f030"/><stop offset="0.204" stop-color="#f36822"/><stop offset="0.234" stop-color="#ff2c0c"/><stop offset="0.281" stop-color="#ff2b0b"/><stop offset="0.311" stop-color="#f46020"/><stop offset="0.346" stop-color="#efe130"/><stop offset="0.358" stop-color="#d1f030"/><stop offset="0.370" stop-color="#8bf023"/><stop offset="0.376" stop-color="#60f018"/><stop offset="0.382" stop-color="#50f014"/><stop offset="0.423" stop-color="#50f014"/><stop offset="0.441" stop-color="#49f050"/><stop offset="0.459" stop-color="#40f0a0"/><stop offset="0.506" stop-color="#6bf6e4"/><stop offset="0.553" stop-color="#75f4f9"/><stop offset="0.559" stop-color="#68d4f5"/><stop offset="0.577" stop-color="#62c8f3"/><stop offset="0.583" stop-color="#56aff1"/><stop offset="0.607" stop-color="#52a5f0"/><stop offset="0.612" stop-color="#4a8df0"/><stop offset="0.642" stop-color="#4683f0"/><stop offset="0.648" stop-color="#3a6df0"/><stop offset="0.683" stop-color="#3562f0"/><stop offset="0.689" stop-color="#2743f0"/><stop offset="0.743" stop-color="#2337f1"/><stop offset="0.749" stop-color="#1f21f5"/><stop offset="0.855" stop-color="#1915f8"/><stop offset="0.861" stop-color="#0d05fc"/><stop offset="0.997" stop-color="#0c04fc"/></linearGradient><linearGradient id="f158"><stop offset="0.003" stop-color="#0c04fc"/><stop offset="0.038" stop-color="#0d05fc"/><stop offset="0.050" stop-color="#2336f1"/><stop offset="0.056" stop-color="#243df0"/><stop offset="0.062" stop-color="#3663f0"/><stop offset="0.068" stop-color="#3a6bf0"/><stop offset="0.080" stop-color="#52a4f0"/><stop offset="0.086" stop-color="#55abf0"/><stop offset="0.092" stop-color="#62c7f3"/><stop offset="0.098" stop-color="#65cff4"/><stop offset="0.104" stop-color="#74f3f9"/><stop offset="0.127" stop-color="#64f2d7"/><stop offset="0.139" stop-color="#40f09e"/><stop offset="0.145" stop-color="#46f06a"/><stop offset="0.151" stop-color="#50f014"/><stop offset="0.157" stop-color="#50f014"/><stop offset="0.163" stop-color="#7df01f"/><stop offset="0.169" stop-color="#c6f030"/><stop offset="0.175" stop-color="#edf030"/><stop offset="0.198" stop-color="#f17826"/><stop offset="0.222" stop-color="#fc3811"/><stop offset="0.257" stop-color="#ff2104"/><stop offset="0.293" stop-color="#fd3610"/><stop offset="0.322" stop-color="#f08028"/><stop offset="0.352" stop-color="#ecf030"/><stop offset="0.364" stop-color="#bcf02f"/><stop offset="0.376" stop-color="#67f01a"/><stop offset="0.382" stop-color="#50f014"/><stop offset="0.423" stop-color="#50f014"/><stop offset="0.441" stop-color="#49f050"/><stop offset="0.459" stop-color="#40f0a0"/><stop offset="0.506" stop-color="#6bf6e4"/><stop offset="0.553" stop-color="#75f4f9"/><stop offset="0.559" stop-color="#68d4f5"/><stop offset="0.577" stop-color="#62c8f3"/><stop offset="0.583" stop-color="#56aff1"/><stop offset="0.607" stop-color="#52a5f0"/><stop offset="0.612" stop-color="#4a8df0"/><stop offset="0.642" stop-color="#4683f0"/><stop offset="0.648" stop-color="#3a6df0"/><stop offset="0.683" stop-color="#3562f0"/><stop offset="0.689" stop-color="#2743f0"/><stop offset="0.743" stop-color="#2336f1"/><stop offset="0.749" stop-color="#1f21f5"/><stop offset="0.855" stop-color="#1915f8"/><stop offset="0.861" stop-color="#0d05fc"/><stop offset="0.997" stop-color="#0c04fc"/></linearGradient><linearGradient id="f160"><stop offset="0.003" stop-color="#0c04fc"/><stop offset="0.038" stop-color="#0d05fc"/><stop offset="0.050" stop-color="#2337f1"/><stop offset="0.056" stop-color="#253ef0"/><stop offset="0.062" stop-color="#3663f0"/><stop offset="0.068" stop-color="#3a6cf0"/><stop offset="0.080" stop-color="#52a5f0"/><stop offset="0.086" stop-color="#55acf0"/><stop offset="0.092" stop-color="#62c8f4"/><stop offset="0.098" stop-color="#66d0f4"/><stop offset="0.104" stop-color="#76f7f9"/><stop offset="0.121" stop-color="#6df6e6"/><stop offset="0.139" stop-color="#40f09e"/><stop offset="0.145" stop-color="#46f06a"/><stop offset="0.151" stop-color="#50f014"/><stop offset="0.157" stop-color="#50f014"/><stop offset="0.163" stop-color="#84f021"/><stop offset="0.169" stop-color="#cbf030"/><stop offset="0.175" stop-color="#f0ee30"/><stop offset="0.198" stop-color="#f27225"/><stop offset="0.222" stop-color="#fe330f"/><stop offset="0.257" stop-color="#ff2004"/><stop offset="0.293" stop-color="#fe300e"/><stop offset="0.322" stop-color="#f17a27"/><stop offset="0.352" stop-color="#f0ef30"/><stop offset="0.364" stop-color="#c2f030"/><stop offset="0.376" stop-color="#6ef01b"/><stop offset="0.382" stop-color="#50f014"/><stop offset="0.423" stop-color="#50f014"/><stop offset="0.441" stop-color="#49f050"/><stop offset="0.459" stop-color="#40f0a0"/><stop offset="0.506" stop-color="#6bf6e4"/><stop offset="0.553" stop-color="#75f4f9"/><stop offset="0.559" stop-color="#68d4f5"/><stop offset="0.577" stop-color="#62c8f3"/><stop offset="0.583" stop-color="#56aff1"/><stop offset="0.607" stop-color="#52a5f0"/><stop offset="0.612" stop-color="#4a8df0"/><stop offset="0.642" stop-color="#4583f0"/><stop offset="0.648" stop-color="#3a6df0"/><stop offset="0.683" stop-color="#3562f0"/><stop offset="0.689" stop-color="#2743f0"/><stop offset="0.737" stop-color="#2337f1"/><stop offset="0.743" stop-color="#1f22f5"/><stop offset="0.855" stop-color="#1915f8"/><stop offset="0.861" stop-color="#0d05fc"/><stop offset="0.997" stop-color="#0c04fc"/></linearGradient><linearGradient id="f162"><stop offset="0.003" stop-color="#0c04fc"/><stop offset="0.038" stop-color="#0d05fc"/><stop offset="0.050" stop-color="#2338f1"/><stop offset="0.056" stop-color="#253ff0"/><stop offset="0.062" stop-color="#3664f0"/><stop offset="0.068" stop-color="#3a6cf0"/><stop offset="0.080" stop-color="#52a6f0"/><stop offset="0.086" stop-color="#55adf0"/><stop offset="0.092" stop-color="#62c9f4"/><stop offset="0.098" stop-color="#66d1f5"/><stop offset="0.104" stop-color="#77fafa"/><stop offset="0.121" stop-color="#6cf6e5"/><stop offset="0.139" stop-color="#40f09e"/><stop offset="0.145" stop-color="#46f06a"/><stop offset="0.151" stop-color="#50f014"/><stop offset="0.157" stop-color="#50f014"/><stop offset="0.169" stop-color="#cff030"/><stop offset="0.175" stop-color="#f0e930"/><stop offset="0.198" stop-color="#f36c23"/><stop offset="0.222" stop-color="#ff2d0c"/><stop offset="0.263" stop-color="#ff2004"/><stop offset="0.293" stop-color="#ff2b0c"/><stop offset="0.322" stop-color="#f17425"/><stop offset="0.352" stop-color="#f0ea30"/><stop offset="0.364" stop-color="#c6f030"/><stop offset="0.382" stop-color="#50f014"/><stop offset="0.423" stop-color="#50f014"/><stop offset="0.441" stop-color="#49f050"/><stop offset="0.459" stop-color="#40f0a0"/><stop offset="0.506" stop-color="#6bf6e4"/><stop offset="0.553" stop-color="#75f4f9"/><stop offset="0.559" stop-color="#68d4f5"/><stop offset="0.577" stop-color="#62c8f3"/><stop offset="0.583" stop-color="#56aef1"/><stop offset="0.607" stop-color="#52a5f0"/><stop offset="0.612" stop-color="#4a8df0"/><stop offset="0.642" stop-color="#4583f0"/><stop offset="0.648" stop-color="#3a6df0"/><stop offset="0.683" stop-color="#3561f0"/><stop offset="0.689" stop-color="#2743f0"/><stop offset="0.737" stop-color="#2337f1"/><stop offset="0.743" stop-color="#1f21f5"/><stop offset="0.855" stop-color="#1915f8"/><stop offset="0.861" stop-color="#0d05fc"/><stop offset="0.997" stop-color="#0c04fc"/></linearGradient><linearGradient id="cbar" x1="0" x2="0" y1="0" y2="1"><stop offset="0.000" stop-color="#ff2010"/><stop offset="0.060" stop-color="#ff3014"/><stop offset="0.110" stop-color="#f06020"/><stop offset="0.170" stop-color="#e8a030"/><stop offset="0.270" stop-color="#f0f030"/><stop offset="0.330" stop-color="#c0f030"/><stop offset="0.420" stop-color="#48f020"/><stop offset="0.580" stop-color="#48f020"/><stop offset="0.655" stop-color="#40f0a0"/><stop offset="0.700" stop-color="#60f0d0"/><stop offset="0.735" stop-color="#78f8f8"/><stop offset="0.810" stop-color="#50a0f0"/><stop offset="0.880" stop-color="#3060f0"/><stop offset="0.930" stop-color="#2020f0"/><stop offset="1.000" stop-color="#1818f0"/></linearGradient></defs><rect width="685" height="410" fill="#fff"/><rect x="16.10" y="6.60" width="193.50" height="4.40" fill="url(#sbA)"/>
<line x1="16.60" y1="11.00" x2="16.60" y2="178.90" stroke="#222" stroke-width="1.1"/>
<line x1="16.60" y1="176.40" x2="209.00" y2="176.40" stroke="#444" stroke-width="1.1"/>
<line x1="209.00" y1="11.00" x2="209.00" y2="178.90" stroke="#999" stroke-width="1.4"/>
<line x1="16.60" y1="176.40" x2="16.60" y2="179.00" stroke="#444" stroke-width="0.9"/>
<text x="16.60" y="187.30" font-size="6.90" text-anchor="middle" fill="#111" stroke="#111" stroke-width="0.08" >300</text>
<line x1="35.84" y1="176.40" x2="35.84" y2="178.00" stroke="#444" stroke-width="0.9"/>
<line x1="55.08" y1="176.40" x2="55.08" y2="179.00" stroke="#444" stroke-width="0.9"/>
<text x="55.08" y="187.30" font-size="6.90" text-anchor="middle" fill="#111" stroke="#111" stroke-width="0.08" >400</text>
<line x1="74.32" y1="176.40" x2="74.32" y2="178.00" stroke="#444" stroke-width="0.9"/>
<line x1="93.56" y1="176.40" x2="93.56" y2="179.00" stroke="#444" stroke-width="0.9"/>
<text x="93.56" y="187.30" font-size="6.90" text-anchor="middle" fill="#111" stroke="#111" stroke-width="0.08" >500</text>
<line x1="112.80" y1="176.40" x2="112.80" y2="178.00" stroke="#444" stroke-width="0.9"/>
<line x1="132.04" y1="176.40" x2="132.04" y2="179.00" stroke="#444" stroke-width="0.9"/>
<text x="132.04" y="187.30" font-size="6.90" text-anchor="middle" fill="#111" stroke="#111" stroke-width="0.08" >600</text>
<line x1="151.28" y1="176.40" x2="151.28" y2="178.00" stroke="#444" stroke-width="0.9"/>
<line x1="170.52" y1="176.40" x2="170.52" y2="179.00" stroke="#444" stroke-width="0.9"/>
<text x="170.52" y="187.30" font-size="6.90" text-anchor="middle" fill="#111" stroke="#111" stroke-width="0.08" >700</text>
<line x1="189.76" y1="176.40" x2="189.76" y2="178.00" stroke="#444" stroke-width="0.9"/>
<line x1="209.00" y1="176.40" x2="209.00" y2="179.00" stroke="#444" stroke-width="0.9"/>
<text x="209.00" y="187.30" font-size="6.90" text-anchor="middle" fill="#111" stroke="#111" stroke-width="0.08" >800</text>
<text x="116.40" y="198.50" font-size="9.35" text-anchor="middle" fill="#111" stroke="#111" stroke-width="0.20" >Wavelength (nm)</text>
<text transform="translate(10.00,93.50) rotate(-90)" font-size="9.1" text-anchor="middle" fill="#111" stroke="#111" stroke-width="0.2">PL intensity (a.u.)</text>
<text x="3.00" y="12.60" font-size="16.50" text-anchor="start" fill="#000" stroke="#000" stroke-width="0.20" >a</text>
<line x1="19.00" y1="20.00" x2="36.00" y2="20.00" stroke="#3f9fd2" stroke-width="1.4"/>
<text x="38.50" y="23.10" font-size="8.80" text-anchor="start" fill="#111" stroke="#111" stroke-width="0.20" >CSCCI</text>
<line x1="19.00" y1="33.00" x2="36.00" y2="33.00" stroke="#3cecaa" stroke-width="1.4"/>
<text x="38.50" y="36.10" font-size="8.80" text-anchor="start" fill="#111" stroke="#111" stroke-width="0.20" >CDSCCI</text>
<line x1="19.00" y1="46.00" x2="36.00" y2="46.00" stroke="#2e8c56" stroke-width="1.4"/>
<text x="38.50" y="49.10" font-size="8.80" text-anchor="start" fill="#111" stroke="#111" stroke-width="0.20" >CDSCI</text>
<line x1="19.00" y1="59.00" x2="36.00" y2="59.00" stroke="#ef6444" stroke-width="1.4"/>
<text x="38.50" y="62.10" font-size="8.80" text-anchor="start" fill="#111" stroke="#111" stroke-width="0.20" >CDSCBr</text>
<path d="M63.00,168.60 L63.80,168.42 L64.60,168.24 L65.40,168.06 L66.20,167.87 L67.00,167.69 L67.80,167.51 L68.60,167.32 L69.40,167.14 L70.20,166.96 L71.00,166.77 L71.80,166.58 L72.60,166.40 L73.40,166.21 L74.20,166.02 L75.00,165.83 L75.80,165.63 L76.60,165.44 L77.40,165.25 L78.20,165.05 L79.00,164.85 L79.80,164.65 L80.60,164.45 L81.40,164.24 L82.20,164.03 L83.00,163.82 L83.80,163.60 L84.60,163.37 L85.40,163.13 L86.20,162.89 L87.00,162.64 L87.80,162.37 L88.60,162.10 L89.40,161.81 L90.20,161.51 L91.00,161.19 L91.80,160.86 L92.60,160.51 L93.40,160.15 L94.20,159.76 L95.00,159.36 L95.80,158.94 L96.60,158.50 L97.40,158.03 L98.20,157.54 L99.00,157.02 L99.80,156.47 L100.60,155.90 L101.40,155.30 L102.20,154.66 L103.00,153.99 L103.80,153.28 L104.60,152.53 L105.40,151.75 L106.20,150.92 L107.00,150.06 L107.80,149.15 L108.60,148.19 L109.40,147.19 L110.20,146.14 L111.00,145.04 L111.80,143.88 L112.60,142.68 L113.40,141.42 L114.20,140.11 L115.00,138.74 L115.80,137.32 L116.60,135.83 L117.40,134.29 L118.20,132.69 L119.00,131.03 L119.80,129.30 L120.60,127.51 L121.40,125.65 L122.20,123.72 L123.00,121.73 L123.80,119.66 L124.60,117.51 L125.40,115.29 L126.20,112.99 L127.00,110.61 L127.80,108.14 L128.60,105.61 L129.40,103.02 L130.20,100.39 L131.00,97.73 L131.80,95.07 L132.60,92.41 L133.40,89.75 L134.20,87.11 L135.00,84.48 L135.80,81.87 L136.60,79.28 L137.40,76.72 L138.20,74.19 L139.00,71.69 L139.80,69.23 L140.60,66.80 L141.40,64.42 L142.20,62.06 L143.00,59.74 L143.80,57.45 L144.60,55.19 L145.40,52.97 L146.20,50.77 L147.00,48.60 L147.80,46.46 L148.60,44.35 L149.40,42.29 L150.20,40.27 L151.00,38.31 L151.80,36.42 L152.60,34.60 L153.40,32.86 L154.20,31.20 L155.00,29.64 L155.80,28.18 L156.60,26.82 L157.40,25.57 L158.20,24.43 L159.00,23.41 L159.80,22.51 L160.60,21.73 L161.40,21.07 L162.20,20.53 L163.00,20.09 L163.80,19.76 L164.60,19.51 L165.40,19.36 L166.20,19.28 L167.00,19.27 L167.80,19.33 L168.60,19.45 L169.40,19.64 L170.20,19.92 L171.00,20.30 L171.80,20.78 L172.60,21.38 L173.40,22.10 L174.20,22.96 L175.00,23.97 L175.80,25.12 L176.60,26.42 L177.40,27.84 L178.20,29.36 L179.00,30.98 L179.80,32.67 L180.60,34.42 L181.40,36.22 L182.20,38.06 L183.00,39.91 L183.80,41.76 L184.60,43.61 L185.40,45.45 L186.20,47.29 L187.00,49.12 L187.80,50.96 L188.60,52.80 L189.40,54.64 L190.20,56.49 L191.00,58.36 L191.80,60.24 L192.60,62.13 L193.40,64.03 L194.20,65.95 L195.00,67.87 L195.80,69.81 L196.60,71.76 L197.40,73.71 L198.20,75.67 L199.00,77.63 L199.80,79.60 L200.60,81.58 L201.40,83.55 L202.20,85.54 L203.00,87.52 L203.80,89.52 L204.60,91.51 L205.40,93.50 L206.20,95.50 L207.00,97.50 L207.80,99.50 L208.60,101.50 L208.80,102.00" fill="none" stroke="#ef6444" stroke-width="1.15" stroke-linejoin="round"/>
<path d="M80.40,167.80 L81.20,163.25 L82.00,158.73 L82.80,154.26 L83.60,149.88 L84.40,145.62 L85.20,141.50 L86.00,137.55 L86.80,133.67 L87.60,129.69 L88.40,125.43 L89.20,120.70 L90.00,115.34 L90.80,109.17 L91.60,102.10 L92.40,94.33 L93.20,86.07 L94.00,77.56 L94.80,69.04 L95.60,60.72 L96.40,52.84 L97.20,45.60 L98.00,39.21 L98.80,33.89 L99.60,29.79 L100.40,26.78 L101.20,24.65 L102.00,23.14 L102.80,22.05 L103.60,21.19 L104.40,20.54 L105.20,20.08 L106.00,19.78 L106.80,19.63 L107.60,19.60 L108.40,19.68 L109.20,19.89 L110.00,20.25 L110.80,20.78 L111.60,21.50 L112.40,22.43 L113.20,23.58 L114.00,24.98 L114.80,26.64 L115.60,28.57 L116.40,30.79 L117.20,33.30 L118.00,36.12 L118.80,39.20 L119.60,42.48 L120.40,45.91 L121.20,49.43 L122.00,53.00 L122.80,56.55 L123.60,60.03 L124.40,63.39 L125.20,66.58 L126.00,69.59 L126.80,72.44 L127.60,75.14 L128.40,77.71 L129.20,80.16 L130.00,82.51 L130.80,84.76 L131.60,86.93 L132.40,89.03 L133.20,91.09 L134.00,93.10 L134.80,95.09 L135.60,97.06 L136.40,99.00 L137.20,100.91 L138.00,102.80 L138.80,104.66 L139.60,106.49 L140.40,108.29 L141.20,110.05 L142.00,111.78 L142.80,113.47 L143.60,115.13 L144.40,116.74 L145.20,118.32 L146.00,119.85 L146.80,121.34 L147.60,122.79 L148.40,124.20 L149.20,125.57 L150.00,126.90 L150.80,128.19 L151.60,129.44 L152.40,130.65 L153.20,131.83 L154.00,132.97 L154.80,134.08 L155.60,135.15 L156.40,136.19 L157.20,137.19 L158.00,138.16 L158.80,139.10 L159.60,140.01 L160.40,140.89 L161.20,141.74 L162.00,142.56 L162.80,143.35 L163.60,144.12 L164.40,144.86 L165.20,145.58 L166.00,146.27 L166.80,146.95 L167.60,147.60 L168.40,148.23 L169.20,148.84 L170.00,149.44 L170.80,150.02 L171.60,150.58 L172.40,151.13 L173.20,151.67 L174.00,152.19 L174.80,152.70 L175.60,153.20 L176.40,153.69 L177.20,154.18 L178.00,154.65 L178.80,155.12 L179.60,155.59 L180.40,156.05 L181.20,156.51 L182.00,156.96 L182.80,157.40 L183.60,157.84 L184.40,158.28 L185.20,158.70 L186.00,159.12 L186.80,159.54 L187.60,159.95 L188.40,160.35 L189.20,160.74 L190.00,161.12 L190.80,161.50 L191.60,161.87 L192.40,162.23 L193.20,162.58 L194.00,162.92 L194.80,163.26 L195.60,163.58 L196.40,163.90 L197.20,164.20 L198.00,164.50 L198.80,164.79 L199.60,165.07 L200.40,165.34 L201.20,165.61 L202.00,165.87 L202.80,166.12 L203.60,166.38 L204.40,166.62 L205.20,166.87 L206.00,167.11 L206.80,167.35 L207.60,167.59 L208.40,167.82 L209.00,168.00" fill="none" stroke="#2e8c56" stroke-width="1.15" stroke-linejoin="round"/>
<path d="M16.60,169.40 L17.40,169.37 L18.20,169.34 L19.00,169.31 L19.80,169.28 L20.60,169.25 L21.40,169.23 L22.20,169.20 L23.00,169.17 L23.80,169.15 L24.60,169.13 L25.40,169.11 L26.20,169.10 L27.00,169.08 L27.80,169.07 L28.60,169.06 L29.40,169.06 L30.20,169.06 L31.00,169.06 L31.80,169.07 L32.60,169.08 L33.40,169.09 L34.20,169.11 L35.00,169.13 L35.80,169.16 L36.60,169.20 L37.40,169.23 L38.20,169.28 L39.00,169.33 L39.80,169.39 L40.60,169.40 L41.40,169.40 L42.20,169.40 L43.00,169.40 L43.80,169.40 L44.60,169.40 L45.40,169.40 L46.20,169.40 L47.00,169.33 L47.80,169.13 L48.60,168.86 L49.40,168.51 L50.20,168.06 L51.00,167.50 L51.80,166.81 L52.60,165.97 L53.40,164.98 L54.20,163.83 L55.00,162.50 L55.80,161.01 L56.60,159.34 L57.40,157.50 L58.20,155.49 L59.00,153.32 L59.80,151.00 L60.60,148.55 L61.40,145.99 L62.20,143.31 L63.00,140.55 L63.80,137.70 L64.60,134.78 L65.40,131.68 L66.20,128.33 L67.00,124.61 L67.80,120.43 L68.60,115.69 L69.40,110.28 L70.20,104.18 L71.00,97.58 L71.80,90.69 L72.60,83.72 L73.40,76.89 L74.20,70.41 L75.00,64.50 L75.80,59.31 L76.60,54.64 L77.40,50.14 L78.20,45.49 L79.00,40.45 L79.80,35.30 L80.60,30.44 L81.40,26.24 L82.20,22.99 L83.00,20.75 L83.80,19.53 L84.60,19.38 L85.40,20.03 L86.20,20.88 L87.00,21.49 L87.80,22.10 L88.60,23.02 L89.40,24.57 L90.20,26.98 L91.00,30.26 L91.80,34.42 L92.60,39.47 L93.40,45.52 L94.20,52.51 L95.00,59.88 L95.80,66.91 L96.60,73.33 L97.40,79.10 L98.20,84.24 L99.00,88.73 L99.80,92.71 L100.60,96.40 L101.40,100.00 L102.20,103.72 L103.00,107.61 L103.80,111.70 L104.60,116.04 L105.40,120.64 L106.20,125.41 L107.00,130.13 L107.80,134.56 L108.60,138.48 L109.40,141.81 L110.20,144.62 L111.00,147.00 L111.80,149.02 L112.60,150.73 L113.40,152.21 L114.20,153.50 L115.00,154.66 L115.80,155.75 L116.60,156.78 L117.40,157.76 L118.20,158.68 L119.00,159.55 L119.80,160.36 L120.60,161.13 L121.40,161.86 L122.20,162.53 L123.00,163.17 L123.80,163.76 L124.60,164.31 L125.40,164.82 L126.20,165.30 L127.00,165.73 L127.80,166.13 L128.60,166.50 L129.40,166.84 L130.20,167.14 L131.00,167.41 L131.80,167.66 L132.60,167.88 L133.40,168.07 L134.20,168.24 L135.00,168.38 L135.80,168.51 L136.60,168.61 L137.40,168.70 L138.20,168.77 L139.00,168.83 L139.80,168.88 L140.60,168.91 L141.40,168.94 L142.20,168.96 L143.00,168.98 L143.80,168.99 L144.60,169.00 L145.40,169.00 L146.20,169.01 L147.00,169.02 L147.80,169.03 L148.60,169.04 L149.40,169.05 L150.20,169.06 L151.00,169.07 L151.80,169.08 L152.60,169.09 L153.40,169.10 L154.20,169.11 L155.00,169.12 L155.80,169.13 L156.60,169.14 L157.40,169.15 L158.20,169.16 L159.00,169.17 L159.80,169.18 L160.60,169.19 L161.40,169.20 L162.20,169.21 L163.00,169.22 L163.80,169.23 L164.60,169.24 L165.40,169.25 L166.20,169.26 L167.00,169.27 L167.80,169.28 L168.60,169.29 L169.40,169.29 L170.20,169.30 L171.00,169.31 L171.80,169.32 L172.60,169.32 L173.40,169.33 L174.20,169.34 L175.00,169.34 L175.80,169.35 L176.60,169.35 L177.40,169.36 L178.20,169.36 L179.00,169.37 L179.80,169.37 L180.60,169.37 L181.40,169.38 L182.20,169.38 L183.00,169.38 L183.80,169.39 L184.60,169.39 L185.40,169.39 L186.20,169.39 L187.00,169.40 L187.80,169.40 L188.60,169.40 L189.40,169.40 L190.20,169.40 L191.00,169.40 L191.80,169.40 L192.60,169.40 L193.40,169.40 L194.20,169.40 L195.00,169.40 L195.80,169.40 L196.60,169.40 L197.40,169.40 L198.20,169.40 L199.00,169.40 L199.80,169.40 L200.60,169.40 L201.40,169.40 L202.20,169.40 L203.00,169.40 L203.80,169.40 L204.60,169.40 L205.40,169.40 L206.20,169.40 L207.00,169.40 L207.80,169.40 L208.60,169.40 L209.00,169.40" fill="none" stroke="#3f9fd2" stroke-width="1.15" stroke-linejoin="round"/>
<path d="M16.60,169.40 L17.40,169.40 L18.20,169.39 L19.00,169.39 L19.80,169.38 L20.60,169.38 L21.40,169.38 L22.20,169.37 L23.00,169.37 L23.80,169.36 L24.60,169.36 L25.40,169.36 L26.20,169.36 L27.00,169.35 L27.80,169.35 L28.60,169.35 L29.40,169.35 L30.20,169.34 L31.00,169.34 L31.80,169.34 L32.60,169.34 L33.40,169.34 L34.20,169.34 L35.00,169.34 L35.80,169.35 L36.60,169.35 L37.40,169.35 L38.20,169.35 L39.00,169.36 L39.80,169.36 L40.60,169.36 L41.40,169.37 L42.20,169.37 L43.00,169.38 L43.80,169.39 L44.60,169.40 L45.40,169.40 L46.20,169.40 L47.00,169.40 L47.80,169.38 L48.60,169.34 L49.40,169.27 L50.20,169.16 L51.00,169.00 L51.80,168.80 L52.60,168.54 L53.40,168.25 L54.20,167.92 L55.00,167.55 L55.80,167.15 L56.60,166.72 L57.40,166.27 L58.20,165.80 L59.00,165.28 L59.80,164.71 L60.60,164.08 L61.40,163.38 L62.20,162.59 L63.00,161.70 L63.80,160.70 L64.60,159.58 L65.40,158.32 L66.20,156.90 L67.00,155.32 L67.80,153.55 L68.60,151.57 L69.40,149.38 L70.20,146.95 L71.00,144.26 L71.80,141.32 L72.60,138.08 L73.40,134.56 L74.20,130.72 L75.00,126.56 L75.80,122.07 L76.60,117.24 L77.40,112.04 L78.20,106.48 L79.00,100.59 L79.80,94.46 L80.60,88.18 L81.40,81.81 L82.20,75.44 L83.00,69.16 L83.80,63.05 L84.60,57.17 L85.40,51.55 L86.20,46.22 L87.00,41.20 L87.80,36.51 L88.60,32.23 L89.40,28.51 L90.20,25.45 L91.00,23.17 L91.80,21.63 L92.60,20.66 L93.40,20.15 L94.20,19.94 L95.00,19.89 L95.80,19.95 L96.60,20.18 L97.40,20.63 L98.20,21.37 L99.00,22.46 L99.80,23.96 L100.60,25.94 L101.40,28.44 L102.20,31.53 L103.00,35.24 L103.80,39.56 L104.60,44.36 L105.40,49.51 L106.20,54.89 L107.00,60.37 L107.80,65.84 L108.60,71.20 L109.40,76.44 L110.20,81.56 L111.00,86.55 L111.80,91.38 L112.60,96.05 L113.40,100.55 L114.20,104.87 L115.00,108.99 L115.80,112.89 L116.60,116.56 L117.40,119.98 L118.20,123.15 L119.00,126.10 L119.80,128.85 L120.60,131.41 L121.40,133.81 L122.20,136.06 L123.00,138.18 L123.80,140.19 L124.60,142.08 L125.40,143.84 L126.20,145.48 L127.00,147.00 L127.80,148.39 L128.60,149.67 L129.40,150.86 L130.20,151.96 L131.00,152.99 L131.80,153.97 L132.60,154.92 L133.40,155.83 L134.20,156.72 L135.00,157.58 L135.80,158.41 L136.60,159.20 L137.40,159.97 L138.20,160.70 L139.00,161.40 L139.80,162.06 L140.60,162.68 L141.40,163.26 L142.20,163.81 L143.00,164.31 L143.80,164.77 L144.60,165.20 L145.40,165.58 L146.20,165.94 L147.00,166.26 L147.80,166.55 L148.60,166.81 L149.40,167.05 L150.20,167.26 L151.00,167.45 L151.80,167.63 L152.60,167.78 L153.40,167.92 L154.20,168.04 L155.00,168.16 L155.80,168.26 L156.60,168.36 L157.40,168.45 L158.20,168.53 L159.00,168.61 L159.80,168.68 L160.60,168.74 L161.40,168.79 L162.20,168.84 L163.00,168.88 L163.80,168.92 L164.60,168.95 L165.40,168.98 L166.20,169.01 L167.00,169.02 L167.80,169.04 L168.60,169.05 L169.40,169.06 L170.20,169.06 L171.00,169.07 L171.80,169.07 L172.60,169.06 L173.40,169.06 L174.20,169.06 L175.00,169.05 L175.80,169.04 L176.60,169.03 L177.40,169.03 L178.20,169.02 L179.00,169.01 L179.80,169.00 L180.60,169.00 L181.40,168.99 L182.20,168.99 L183.00,168.98 L183.80,168.98 L184.60,168.98 L185.40,168.98 L186.20,168.98 L187.00,168.98 L187.80,168.98 L188.60,168.98 L189.40,168.98 L190.20,168.99 L191.00,168.99 L191.80,169.00 L192.60,169.00 L193.40,169.01 L194.20,169.01 L195.00,169.02 L195.80,169.03 L196.60,169.04 L197.40,169.05 L198.20,169.05 L199.00,169.06 L199.80,169.07 L200.60,169.08 L201.40,169.09 L202.20,169.10 L203.00,169.12 L203.80,169.13 L204.60,169.14 L205.40,169.15 L206.20,169.16 L207.00,169.17 L207.80,169.18 L208.60,169.19 L209.00,169.20" fill="none" stroke="#3cecaa" stroke-width="1.15" stroke-linejoin="round"/>
<rect x="17.10" y="217.70" width="192.90" height="4.90" fill="url(#sbD)"/>
<line x1="17.60" y1="222.60" x2="17.60" y2="384.10" stroke="#222" stroke-width="1.1"/>
<line x1="17.60" y1="381.60" x2="209.50" y2="381.60" stroke="#444" stroke-width="1.1"/>
<line x1="209.50" y1="222.60" x2="209.50" y2="384.10" stroke="#999" stroke-width="1.4"/>
<line x1="17.60" y1="381.60" x2="17.60" y2="384.20" stroke="#444" stroke-width="0.9"/>
<text x="17.60" y="393.20" font-size="6.90" text-anchor="middle" fill="#111" stroke="#111" stroke-width="0.08" >300</text>
<line x1="36.79" y1="381.60" x2="36.79" y2="383.20" stroke="#444" stroke-width="0.9"/>
<line x1="55.98" y1="381.60" x2="55.98" y2="384.20" stroke="#444" stroke-width="0.9"/>
<text x="55.98" y="393.20" font-size="6.90" text-anchor="middle" fill="#111" stroke="#111" stroke-width="0.08" >400</text>
<line x1="75.17" y1="381.60" x2="75.17" y2="383.20" stroke="#444" stroke-width="0.9"/>
<line x1="94.36" y1="381.60" x2="94.36" y2="384.20" stroke="#444" stroke-width="0.9"/>
<text x="94.36" y="393.20" font-size="6.90" text-anchor="middle" fill="#111" stroke="#111" stroke-width="0.08" >500</text>
<line x1="113.55" y1="381.60" x2="113.55" y2="383.20" stroke="#444" stroke-width="0.9"/>
<line x1="132.74" y1="381.60" x2="132.74" y2="384.20" stroke="#444" stroke-width="0.9"/>
<text x="132.74" y="393.20" font-size="6.90" text-anchor="middle" fill="#111" stroke="#111" stroke-width="0.08" >600</text>
<line x1="151.93" y1="381.60" x2="151.93" y2="383.20" stroke="#444" stroke-width="0.9"/>
<line x1="171.12" y1="381.60" x2="171.12" y2="384.20" stroke="#444" stroke-width="0.9"/>
<text x="171.12" y="393.20" font-size="6.90" text-anchor="middle" fill="#111" stroke="#111" stroke-width="0.08" >700</text>
<line x1="190.31" y1="381.60" x2="190.31" y2="383.20" stroke="#444" stroke-width="0.9"/>
<line x1="209.50" y1="381.60" x2="209.50" y2="384.20" stroke="#444" stroke-width="0.9"/>
<text x="209.50" y="393.20" font-size="6.90" text-anchor="middle" fill="#111" stroke="#111" stroke-width="0.08" >800</text>
<text x="120.90" y="406.30" font-size="9.35" text-anchor="middle" fill="#111" stroke="#111" stroke-width="0.20" >Wavelength (nm)</text>
<text transform="translate(10.90,295.70) rotate(-90)" font-size="9.1" text-anchor="middle" fill="#111" stroke="#111" stroke-width="0.2">RL intensity (a.u.)</text>
<text x="1.20" y="230.30" font-size="16.50" text-anchor="start" fill="#000" stroke="#000" stroke-width="0.20" >d</text>
<line x1="20.70" y1="233.00" x2="37.70" y2="233.00" stroke="#3f9fd2" stroke-width="1.4"/>
<text x="40.20" y="236.10" font-size="8.80" text-anchor="start" fill="#111" stroke="#111" stroke-width="0.20" >CSCCI</text>
<line x1="20.70" y1="246.00" x2="37.70" y2="246.00" stroke="#3cecaa" stroke-width="1.4"/>
<text x="40.20" y="249.10" font-size="8.80" text-anchor="start" fill="#111" stroke="#111" stroke-width="0.20" >CDSCCI</text>
<line x1="20.70" y1="259.00" x2="37.70" y2="259.00" stroke="#2e8c56" stroke-width="1.4"/>
<text x="40.20" y="262.10" font-size="8.80" text-anchor="start" fill="#111" stroke="#111" stroke-width="0.20" >CDSCI</text>
<line x1="20.70" y1="272.00" x2="37.70" y2="272.00" stroke="#ef6444" stroke-width="1.4"/>
<text x="40.20" y="275.10" font-size="8.80" text-anchor="start" fill="#111" stroke="#111" stroke-width="0.20" >CDSCBr</text>
<path d="M17.60,377.70 L18.40,377.69 L19.20,377.69 L20.00,377.68 L20.80,377.68 L21.60,377.67 L22.40,377.67 L23.20,377.66 L24.00,377.66 L24.80,377.66 L25.60,377.66 L26.40,377.65 L27.20,377.65 L28.00,377.65 L28.80,377.65 L29.60,377.65 L30.40,377.66 L31.20,377.66 L32.00,377.66 L32.80,377.67 L33.60,377.68 L34.40,377.68 L35.20,377.69 L36.00,377.70 L36.80,377.72 L37.60,377.73 L38.40,377.75 L39.20,377.76 L40.00,377.78 L40.80,377.80 L41.60,377.83 L42.40,377.85 L43.20,377.88 L44.00,377.91 L44.80,377.94 L45.60,377.97 L46.40,378.01 L47.20,378.05 L48.00,378.09 L48.80,378.13 L49.60,378.18 L50.40,378.20 L51.20,378.20 L52.00,378.20 L52.80,378.20 L53.60,378.20 L54.40,378.20 L55.20,378.20 L56.00,378.20 L56.80,378.20 L57.60,378.20 L58.40,378.20 L59.20,378.20 L60.00,378.20 L60.80,378.20 L61.60,378.20 L62.40,378.20 L63.20,378.20 L64.00,378.20 L64.80,378.20 L65.60,378.20 L66.40,378.20 L67.20,378.20 L68.00,378.20 L68.80,378.20 L69.60,378.20 L70.40,378.20 L71.20,378.20 L72.00,378.20 L72.80,378.20 L73.60,378.20 L74.40,378.20 L75.20,378.20 L76.00,378.20 L76.80,378.15 L77.60,377.99 L78.40,377.82 L79.20,377.64 L80.00,377.44 L80.80,377.23 L81.60,377.00 L82.40,376.75 L83.20,376.49 L84.00,376.21 L84.80,375.93 L85.60,375.63 L86.40,375.32 L87.20,375.01 L88.00,374.69 L88.80,374.36 L89.60,374.03 L90.40,373.70 L91.20,373.37 L92.00,373.03 L92.80,372.70 L93.60,372.37 L94.40,372.04 L95.20,371.72 L96.00,371.40 L96.80,371.09 L97.60,370.77 L98.40,370.44 L99.20,370.08 L100.00,369.70 L100.80,369.28 L101.60,368.81 L102.40,368.30 L103.20,367.72 L104.00,367.08 L104.80,366.36 L105.60,365.55 L106.40,364.66 L107.20,363.67 L108.00,362.58 L108.80,361.38 L109.60,360.09 L110.40,358.73 L111.20,357.32 L112.00,355.87 L112.80,354.40 L113.60,352.92 L114.40,351.44 L115.20,349.94 L116.00,348.43 L116.80,346.89 L117.60,345.34 L118.40,343.76 L119.20,342.16 L120.00,340.52 L120.80,338.84 L121.60,337.13 L122.40,335.37 L123.20,333.57 L124.00,331.72 L124.80,329.82 L125.60,327.86 L126.40,325.84 L127.20,323.76 L128.00,321.62 L128.80,319.41 L129.60,317.13 L130.40,314.78 L131.20,312.35 L132.00,309.85 L132.80,307.26 L133.60,304.59 L134.40,301.84 L135.20,299.02 L136.00,296.17 L136.80,293.28 L137.60,290.39 L138.40,287.50 L139.20,284.64 L140.00,281.83 L140.80,279.06 L141.60,276.35 L142.40,273.69 L143.20,271.10 L144.00,268.59 L144.80,266.15 L145.60,263.80 L146.40,261.53 L147.20,259.37 L148.00,257.30 L148.80,255.34 L149.60,253.48 L150.40,251.72 L151.20,250.04 L152.00,248.45 L152.80,246.94 L153.60,245.50 L154.40,244.12 L155.20,242.80 L156.00,241.53 L156.80,240.31 L157.60,239.15 L158.40,238.05 L159.20,237.01 L160.00,236.04 L160.80,235.15 L161.60,234.33 L162.40,233.60 L163.20,232.95 L164.00,232.39 L164.80,231.92 L165.60,231.54 L166.40,231.25 L167.20,231.03 L168.00,230.90 L168.80,230.83 L169.60,230.84 L170.40,230.91 L171.20,231.05 L172.00,231.27 L172.80,231.57 L173.60,231.96 L174.40,232.46 L175.20,233.06 L176.00,233.79 L176.80,234.63 L177.60,235.59 L178.40,236.65 L179.20,237.80 L180.00,239.04 L180.80,240.35 L181.60,241.72 L182.40,243.15 L183.20,244.62 L184.00,246.14 L184.80,247.69 L185.60,249.29 L186.40,250.94 L187.20,252.66 L188.00,254.44 L188.80,256.31 L189.60,258.26 L190.40,260.30 L191.20,262.45 L192.00,264.69 L192.80,267.00 L193.60,269.34 L194.40,271.69 L195.20,274.01 L196.00,276.28 L196.80,278.45 L197.60,280.50 L198.40,282.43 L199.20,284.30 L200.00,286.19 L200.80,288.11 L201.60,290.08 L202.40,292.08 L203.20,294.11 L204.00,296.17 L204.80,298.26 L205.60,300.36 L206.40,302.48 L207.20,304.62 L208.00,306.76 L208.80,308.91 L209.50,310.80" fill="none" stroke="#ef6444" stroke-width="1.15" stroke-linejoin="round"/>
<path d="M17.60,380.20 L18.40,380.13 L19.20,380.06 L20.00,379.99 L20.80,379.92 L21.60,379.85 L22.40,379.78 L23.20,379.71 L24.00,379.64 L24.80,379.57 L25.60,379.51 L26.40,379.45 L27.20,379.38 L28.00,379.32 L28.80,379.27 L29.60,379.21 L30.40,379.16 L31.20,379.10 L32.00,379.05 L32.80,379.01 L33.60,378.96 L34.40,378.92 L35.20,378.88 L36.00,378.85 L36.80,378.82 L37.60,378.79 L38.40,378.77 L39.20,378.74 L40.00,378.73 L40.80,378.72 L41.60,378.71 L42.40,378.70 L43.20,378.70 L44.00,378.71 L44.80,378.72 L45.60,378.73 L46.40,378.75 L47.20,378.78 L48.00,378.81 L48.80,378.84 L49.60,378.88 L50.40,378.93 L51.20,378.98 L52.00,379.04 L52.80,379.11 L53.60,379.18 L54.40,379.26 L55.20,379.34 L56.00,379.43 L56.80,379.53 L57.60,379.64 L58.40,379.75 L59.20,379.87 L60.00,380.00 L60.80,380.14 L61.60,380.20 L62.40,380.20 L63.20,380.20 L64.00,380.20 L64.80,380.20 L65.60,380.20 L66.40,380.20 L67.20,380.20 L68.00,380.20 L68.80,380.20 L69.60,380.20 L70.40,380.20 L71.20,380.20 L72.00,380.20 L72.80,380.20 L73.60,380.20 L74.40,380.20 L75.20,380.20 L76.00,380.20 L76.80,380.11 L77.60,379.76 L78.40,379.35 L79.20,378.89 L80.00,378.36 L80.80,377.78 L81.60,377.13 L82.40,376.43 L83.20,375.69 L84.00,374.94 L84.80,374.19 L85.60,373.44 L86.40,372.48 L87.20,371.01 L88.00,368.72 L88.80,365.36 L89.60,360.92 L90.40,355.57 L91.20,349.46 L92.00,342.76 L92.80,335.63 L93.60,328.22 L94.40,320.56 L95.20,312.65 L96.00,304.47 L96.80,296.00 L97.60,287.23 L98.40,278.20 L99.20,269.41 L100.00,261.62 L100.80,255.40 L101.60,250.62 L102.40,247.00 L103.20,244.24 L104.00,242.06 L104.80,240.17 L105.60,238.42 L106.40,236.83 L107.20,235.39 L108.00,234.14 L108.80,233.07 L109.60,232.19 L110.40,231.52 L111.20,231.07 L112.00,230.84 L112.80,230.85 L113.60,231.09 L114.40,231.53 L115.20,232.19 L116.00,233.05 L116.80,234.10 L117.60,235.33 L118.40,236.74 L119.20,238.31 L120.00,240.05 L120.80,241.94 L121.60,243.98 L122.40,246.16 L123.20,248.50 L124.00,250.99 L124.80,253.62 L125.60,256.39 L126.40,259.27 L127.20,262.18 L128.00,265.09 L128.80,267.92 L129.60,270.62 L130.40,273.13 L131.20,275.45 L132.00,277.61 L132.80,279.65 L133.60,281.62 L134.40,283.55 L135.20,285.49 L136.00,287.46 L136.80,289.45 L137.60,291.47 L138.40,293.51 L139.20,295.56 L140.00,297.62 L140.80,299.69 L141.60,301.75 L142.40,303.80 L143.20,305.84 L144.00,307.87 L144.80,309.87 L145.60,311.84 L146.40,313.78 L147.20,315.68 L148.00,317.55 L148.80,319.38 L149.60,321.16 L150.40,322.91 L151.20,324.62 L152.00,326.28 L152.80,327.91 L153.60,329.49 L154.40,331.02 L155.20,332.52 L156.00,333.97 L156.80,335.37 L157.60,336.73 L158.40,338.05 L159.20,339.31 L160.00,340.53 L160.80,341.71 L161.60,342.84 L162.40,343.93 L163.20,344.98 L164.00,346.00 L164.80,346.98 L165.60,347.93 L166.40,348.85 L167.20,349.74 L168.00,350.61 L168.80,351.46 L169.60,352.28 L170.40,353.08 L171.20,353.87 L172.00,354.65 L172.80,355.41 L173.60,356.16 L174.40,356.90 L175.20,357.64 L176.00,358.36 L176.80,359.09 L177.60,359.80 L178.40,360.50 L179.20,361.18 L180.00,361.86 L180.80,362.52 L181.60,363.16 L182.40,363.79 L183.20,364.39 L184.00,364.98 L184.80,365.55 L185.60,366.10 L186.40,366.62 L187.20,367.12 L188.00,367.59 L188.80,368.03 L189.60,368.45 L190.40,368.84 L191.20,369.20 L192.00,369.53 L192.80,369.83 L193.60,370.11 L194.40,370.37 L195.20,370.60 L196.00,370.81 L196.80,371.01 L197.60,371.18 L198.40,371.33 L199.20,371.47 L200.00,371.60 L200.80,371.70 L201.60,371.80 L202.40,371.88 L203.20,371.96 L204.00,372.02 L204.80,372.08 L205.60,372.13 L206.40,372.17 L207.20,372.21 L208.00,372.24 L208.80,372.27 L209.50,372.30" fill="none" stroke="#2e8c56" stroke-width="1.15" stroke-linejoin="round"/>
<path d="M17.60,375.20 L18.40,375.24 L19.20,375.29 L20.00,375.33 L20.80,375.38 L21.60,375.43 L22.40,375.48 L23.20,375.53 L24.00,375.58 L24.80,375.64 L25.60,375.70 L26.40,375.77 L27.20,375.83 L28.00,375.91 L28.80,375.99 L29.60,376.07 L30.40,376.16 L31.20,376.25 L32.00,376.36 L32.80,376.46 L33.60,376.58 L34.40,376.70 L35.20,376.83 L36.00,376.97 L36.80,377.12 L37.60,377.26 L38.40,377.41 L39.20,377.55 L40.00,377.69 L40.80,377.70 L41.60,377.70 L42.40,377.70 L43.20,377.70 L44.00,377.70 L44.80,377.70 L45.60,377.70 L46.40,377.70 L47.20,377.70 L48.00,377.70 L48.80,377.70 L49.60,377.70 L50.40,377.70 L51.20,377.70 L52.00,377.58 L52.80,377.31 L53.60,376.98 L54.40,376.58 L55.20,376.09 L56.00,375.50 L56.80,374.80 L57.60,373.98 L58.40,373.01 L59.20,371.88 L60.00,370.58 L60.80,369.08 L61.60,367.38 L62.40,365.47 L63.20,363.35 L64.00,360.99 L64.80,358.41 L65.60,355.58 L66.40,352.51 L67.20,349.18 L68.00,345.58 L68.80,341.73 L69.60,337.60 L70.40,333.19 L71.20,328.51 L72.00,323.54 L72.80,318.28 L73.60,312.61 L74.40,306.38 L75.20,299.42 L76.00,291.55 L76.80,282.61 L77.60,273.21 L78.40,265.33 L79.20,259.64 L80.00,255.27 L80.80,251.38 L81.60,247.68 L82.40,244.24 L83.20,241.10 L84.00,238.31 L84.80,235.95 L85.60,234.09 L86.40,232.77 L87.20,231.95 L88.00,231.61 L88.80,231.71 L89.60,232.16 L90.40,232.89 L91.20,233.79 L92.00,234.86 L92.80,236.37 L93.60,238.67 L94.40,242.10 L95.20,246.68 L96.00,251.76 L96.80,256.66 L97.60,261.50 L98.40,267.26 L99.20,274.73 L100.00,283.05 L100.80,290.63 L101.60,297.07 L102.40,302.58 L103.20,307.36 L104.00,311.64 L104.80,315.64 L105.60,319.55 L106.40,323.61 L107.20,327.96 L108.00,332.53 L108.80,337.19 L109.60,341.80 L110.40,346.24 L111.20,350.36 L112.00,354.04 L112.80,357.25 L113.60,360.04 L114.40,362.44 L115.20,364.51 L116.00,366.28 L116.80,367.80 L117.60,369.11 L118.40,370.26 L119.20,371.26 L120.00,372.14 L120.80,372.91 L121.60,373.57 L122.40,374.12 L123.20,374.60 L124.00,374.99 L124.80,375.32 L125.60,375.59 L126.40,375.82 L127.20,376.00 L128.00,376.16 L128.80,376.31 L129.60,376.43 L130.40,376.55 L131.20,376.65 L132.00,376.74 L132.80,376.82 L133.60,376.89 L134.40,376.94 L135.20,376.99 L136.00,377.03 L136.80,377.05 L137.60,377.07 L138.40,377.08 L139.20,377.09 L140.00,377.09 L140.80,377.08 L141.60,377.06 L142.40,377.04 L143.20,377.01 L144.00,376.98 L144.80,376.95 L145.60,376.91 L146.40,376.87 L147.20,376.83 L148.00,376.79 L148.80,376.74 L149.60,376.69 L150.40,376.64 L151.20,376.58 L152.00,376.53 L152.80,376.47 L153.60,376.42 L154.40,376.36 L155.20,376.30 L156.00,376.24 L156.80,376.18 L157.60,376.13 L158.40,376.07 L159.20,376.02 L160.00,375.96 L160.80,375.91 L161.60,375.86 L162.40,375.81 L163.20,375.77 L164.00,375.72 L164.80,375.68 L165.60,375.65 L166.40,375.61 L167.20,375.58 L168.00,375.55 L168.80,375.53 L169.60,375.51 L170.40,375.48 L171.20,375.46 L172.00,375.43 L172.80,375.40 L173.60,375.36 L174.40,375.32 L175.20,375.27 L176.00,375.21 L176.80,375.14 L177.60,375.06 L178.40,374.97 L179.20,374.87 L180.00,374.76 L180.80,374.63 L181.60,374.48 L182.40,374.32 L183.20,374.14 L184.00,373.95 L184.80,373.77 L185.60,373.60 L186.40,373.44 L187.20,373.30 L188.00,373.20 L188.80,373.13 L189.60,373.11 L190.40,373.14 L191.20,373.23 L192.00,373.38 L192.80,373.58 L193.60,373.82 L194.40,374.08 L195.20,374.34 L196.00,374.60 L196.80,374.84 L197.60,375.05 L198.40,375.21 L199.20,375.33 L200.00,375.42 L200.80,375.47 L201.60,375.49 L202.40,375.48 L203.20,375.45 L204.00,375.39 L204.80,375.31 L205.60,375.21 L206.40,375.10 L207.20,374.98 L208.00,374.85 L208.80,374.72 L209.50,374.60" fill="none" stroke="#3f9fd2" stroke-width="1.15" stroke-linejoin="round"/>
<path d="M17.60,379.60 L18.40,379.60 L19.20,379.60 L20.00,379.60 L20.80,379.60 L21.60,379.60 L22.40,379.60 L23.20,379.60 L24.00,379.60 L24.80,379.60 L25.60,379.60 L26.40,379.60 L27.20,379.60 L28.00,379.60 L28.80,379.60 L29.60,379.60 L30.40,379.60 L31.20,379.60 L32.00,379.60 L32.80,379.60 L33.60,379.60 L34.40,379.60 L35.20,379.60 L36.00,379.60 L36.80,379.60 L37.60,379.60 L38.40,379.60 L39.20,379.60 L40.00,379.60 L40.80,379.60 L41.60,379.60 L42.40,379.60 L43.20,379.60 L44.00,379.60 L44.80,379.60 L45.60,379.60 L46.40,379.60 L47.20,379.60 L48.00,379.60 L48.80,379.60 L49.60,379.60 L50.40,379.60 L51.20,379.60 L52.00,379.60 L52.80,379.60 L53.60,379.60 L54.40,379.60 L55.20,379.60 L56.00,379.60 L56.80,379.60 L57.60,379.60 L58.40,379.34 L59.20,378.99 L60.00,378.52 L60.80,377.88 L61.60,377.02 L62.40,375.90 L63.20,374.51 L64.00,372.92 L64.80,371.19 L65.60,369.37 L66.40,367.55 L67.20,365.73 L68.00,363.88 L68.80,361.94 L69.60,359.86 L70.40,357.58 L71.20,355.07 L72.00,352.25 L72.80,349.09 L73.60,345.53 L74.40,341.54 L75.20,337.17 L76.00,332.50 L76.80,327.58 L77.60,322.49 L78.40,317.28 L79.20,312.03 L80.00,306.79 L80.80,301.55 L81.60,296.23 L82.40,290.74 L83.20,284.99 L84.00,278.95 L84.80,272.79 L85.60,266.73 L86.40,261.01 L87.20,255.77 L88.00,251.02 L88.80,246.80 L89.60,243.10 L90.40,239.96 L91.20,237.37 L92.00,235.30 L92.80,233.71 L93.60,232.54 L94.40,231.73 L95.20,231.25 L96.00,231.04 L96.80,231.05 L97.60,231.23 L98.40,231.57 L99.20,232.10 L100.00,232.84 L100.80,233.81 L101.60,235.03 L102.40,236.52 L103.20,238.32 L104.00,240.43 L104.80,242.89 L105.60,245.74 L106.40,248.99 L107.20,252.70 L108.00,256.90 L108.80,261.61 L109.60,266.82 L110.40,272.35 L111.20,277.93 L112.00,283.35 L112.80,288.51 L113.60,293.44 L114.40,298.16 L115.20,302.70 L116.00,307.09 L116.80,311.35 L117.60,315.50 L118.40,319.58 L119.20,323.60 L120.00,327.59 L120.80,331.51 L121.60,335.34 L122.40,339.03 L123.20,342.56 L124.00,345.89 L124.80,348.98 L125.60,351.80 L126.40,354.32 L127.20,356.56 L128.00,358.53 L128.80,360.26 L129.60,361.78 L130.40,363.09 L131.20,364.23 L132.00,365.21 L132.80,366.06 L133.60,366.80 L134.40,367.45 L135.20,368.03 L136.00,368.57 L136.80,369.07 L137.60,369.55 L138.40,370.00 L139.20,370.42 L140.00,370.83 L140.80,371.21 L141.60,371.56 L142.40,371.90 L143.20,372.21 L144.00,372.50 L144.80,372.78 L145.60,373.03 L146.40,373.27 L147.20,373.50 L148.00,373.70 L148.80,373.89 L149.60,374.07 L150.40,374.23 L151.20,374.38 L152.00,374.52 L152.80,374.65 L153.60,374.77 L154.40,374.87 L155.20,374.97 L156.00,375.07 L156.80,375.15 L157.60,375.23 L158.40,375.31 L159.20,375.37 L160.00,375.44 L160.80,375.50 L161.60,375.56 L162.40,375.62 L163.20,375.68 L164.00,375.74 L164.80,375.81 L165.60,375.87 L166.40,375.93 L167.20,376.00 L168.00,376.08 L168.80,376.16 L169.60,376.24 L170.40,376.34 L171.20,376.43 L172.00,376.53 L172.80,376.63 L173.60,376.73 L174.40,376.83 L175.20,376.93 L176.00,377.02 L176.80,377.11 L177.60,377.19 L178.40,377.26 L179.20,377.33 L180.00,377.38 L180.80,377.42 L181.60,377.45 L182.40,377.46 L183.20,377.45 L184.00,377.43 L184.80,377.39 L185.60,377.33 L186.40,377.25 L187.20,377.15 L188.00,377.04 L188.80,376.92 L189.60,376.79 L190.40,376.65 L191.20,376.50 L192.00,376.36 L192.80,376.20 L193.60,376.05 L194.40,375.91 L195.20,375.76 L196.00,375.62 L196.80,375.49 L197.60,375.37 L198.40,375.26 L199.20,375.16 L200.00,375.07 L200.80,374.99 L201.60,374.92 L202.40,374.86 L203.20,374.80 L204.00,374.75 L204.80,374.70 L205.60,374.66 L206.40,374.63 L207.20,374.59 L208.00,374.56 L208.80,374.53 L209.50,374.50" fill="none" stroke="#3cecaa" stroke-width="1.15" stroke-linejoin="round"/>
<line x1="248.80" y1="6.89" x2="248.80" y2="181.40" stroke="#e2e2e2" stroke-width="0.8"/>
<line x1="260.36" y1="6.89" x2="260.36" y2="181.40" stroke="#e2e2e2" stroke-width="0.8"/>
<line x1="271.92" y1="6.89" x2="271.92" y2="181.40" stroke="#e2e2e2" stroke-width="0.8"/>
<line x1="283.48" y1="6.89" x2="283.48" y2="181.40" stroke="#e2e2e2" stroke-width="0.8"/>
<line x1="295.04" y1="6.89" x2="295.04" y2="181.40" stroke="#e2e2e2" stroke-width="0.8"/>
<line x1="306.60" y1="6.89" x2="306.60" y2="181.40" stroke="#e2e2e2" stroke-width="0.8"/>
<line x1="318.16" y1="6.89" x2="318.16" y2="181.40" stroke="#e2e2e2" stroke-width="0.8"/>
<line x1="329.72" y1="6.89" x2="329.72" y2="181.40" stroke="#e2e2e2" stroke-width="0.8"/>
<line x1="341.28" y1="6.89" x2="341.28" y2="181.40" stroke="#e2e2e2" stroke-width="0.8"/>
<line x1="352.84" y1="6.89" x2="352.84" y2="181.40" stroke="#e2e2e2" stroke-width="0.8"/>
<line x1="364.40" y1="6.89" x2="364.40" y2="181.40" stroke="#e2e2e2" stroke-width="0.8"/>
<line x1="375.96" y1="6.89" x2="375.96" y2="181.40" stroke="#e2e2e2" stroke-width="0.8"/>
<line x1="387.52" y1="6.89" x2="387.52" y2="181.40" stroke="#e2e2e2" stroke-width="0.8"/>
<line x1="399.08" y1="6.89" x2="399.08" y2="181.40" stroke="#e2e2e2" stroke-width="0.8"/>
<line x1="410.64" y1="6.89" x2="410.64" y2="181.40" stroke="#e2e2e2" stroke-width="0.8"/>
<line x1="422.20" y1="6.89" x2="422.20" y2="181.40" stroke="#e2e2e2" stroke-width="0.8"/>
<line x1="433.76" y1="6.89" x2="433.76" y2="181.40" stroke="#e2e2e2" stroke-width="0.8"/>
<line x1="248.80" y1="181.40" x2="433.76" y2="181.40" stroke="#e2e2e2" stroke-width="0.8"/>
<line x1="248.80" y1="171.71" x2="433.76" y2="171.71" stroke="#e2e2e2" stroke-width="0.8"/>
<line x1="248.80" y1="162.01" x2="433.76" y2="162.01" stroke="#e2e2e2" stroke-width="0.8"/>
<line x1="248.80" y1="152.31" x2="433.76" y2="152.31" stroke="#e2e2e2" stroke-width="0.8"/>
<line x1="248.80" y1="142.62" x2="433.76" y2="142.62" stroke="#e2e2e2" stroke-width="0.8"/>
<line x1="248.80" y1="132.93" x2="433.76" y2="132.93" stroke="#e2e2e2" stroke-width="0.8"/>
<line x1="248.80" y1="123.23" x2="433.76" y2="123.23" stroke="#e2e2e2" stroke-width="0.8"/>
<line x1="248.80" y1="113.53" x2="433.76" y2="113.53" stroke="#e2e2e2" stroke-width="0.8"/>
<line x1="248.80" y1="103.84" x2="433.76" y2="103.84" stroke="#e2e2e2" stroke-width="0.8"/>
<line x1="248.80" y1="94.14" x2="433.76" y2="94.14" stroke="#e2e2e2" stroke-width="0.8"/>
<line x1="248.80" y1="84.45" x2="433.76" y2="84.45" stroke="#e2e2e2" stroke-width="0.8"/>
<line x1="248.80" y1="74.75" x2="433.76" y2="74.75" stroke="#e2e2e2" stroke-width="0.8"/>
<line x1="248.80" y1="65.06" x2="433.76" y2="65.06" stroke="#e2e2e2" stroke-width="0.8"/>
<line x1="248.80" y1="55.36" x2="433.76" y2="55.36" stroke="#e2e2e2" stroke-width="0.8"/>
<line x1="248.80" y1="45.67" x2="433.76" y2="45.67" stroke="#e2e2e2" stroke-width="0.8"/>
<line x1="248.80" y1="35.97" x2="433.76" y2="35.97" stroke="#e2e2e2" stroke-width="0.8"/>
<line x1="248.80" y1="26.28" x2="433.76" y2="26.28" stroke="#e2e2e2" stroke-width="0.8"/>
<line x1="248.80" y1="16.58" x2="433.76" y2="16.58" stroke="#e2e2e2" stroke-width="0.8"/>
<line x1="248.80" y1="6.89" x2="433.76" y2="6.89" stroke="#e2e2e2" stroke-width="0.8"/>
<g clip-path="url(#cieclip)">
<rect x="263" y="19" width="7" height="1" fill="url(#c6)"/>
<rect x="261" y="20" width="14" height="1" fill="url(#c7)"/>
<rect x="259" y="21" width="20" height="1" fill="url(#c8)"/>
<rect x="258" y="22" width="23" height="1" fill="url(#c9)"/>
<rect x="257" y="23" width="26" height="1" fill="url(#c10)"/>
<rect x="256" y="24" width="29" height="1" fill="url(#c11)"/>
<rect x="255" y="25" width="32" height="1" fill="url(#c12)"/>
<rect x="254" y="26" width="35" height="1" fill="url(#c13)"/>
<rect x="254" y="27" width="37" height="1" fill="url(#c14)"/>
<rect x="253" y="28" width="40" height="1" fill="url(#c15)"/>
<rect x="253" y="29" width="42" height="1" fill="url(#c16)"/>
<rect x="252" y="30" width="44" height="1" fill="url(#c17)"/>
<rect x="252" y="31" width="46" height="1" fill="url(#c18)"/>
<rect x="251" y="32" width="49" height="1" fill="url(#c19)"/>
<rect x="251" y="33" width="50" height="1" fill="url(#c20)"/>
<rect x="251" y="34" width="52" height="1" fill="url(#c21)"/>
<rect x="251" y="35" width="53" height="1" fill="url(#c22)"/>
<rect x="250" y="36" width="56" height="1" fill="url(#c23)"/>
<rect x="250" y="37" width="57" height="1" fill="url(#c24)"/>
<rect x="250" y="38" width="59" height="1" fill="url(#c25)"/>
<rect x="250" y="39" width="60" height="1" fill="url(#c26)"/>
<rect x="250" y="40" width="61" height="1" fill="url(#c27)"/>
<rect x="249" y="41" width="64" height="1" fill="url(#c28)"/>
<rect x="249" y="42" width="65" height="1" fill="url(#c29)"/>
<rect x="249" y="43" width="67" height="1" fill="url(#c30)"/>
<rect x="249" y="44" width="68" height="1" fill="url(#c31)"/>
<rect x="249" y="45" width="69" height="1" fill="url(#c32)"/>
<rect x="249" y="46" width="70" height="1" fill="url(#c33)"/>
<rect x="249" y="47" width="72" height="1" fill="url(#c34)"/>
<rect x="249" y="48" width="73" height="1" fill="url(#c35)"/>
<rect x="248" y="49" width="75" height="1" fill="url(#c36)"/>
<rect x="248" y="50" width="77" height="1" fill="url(#c37)"/>
<rect x="248" y="51" width="78" height="1" fill="url(#c38)"/>
<rect x="248" y="52" width="79" height="1" fill="url(#c39)"/>
<rect x="248" y="53" width="80" height="1" fill="url(#c40)"/>
<rect x="248" y="54" width="82" height="1" fill="url(#c41)"/>
<rect x="248" y="55" width="83" height="1" fill="url(#c42)"/>
<rect x="248" y="56" width="84" height="1" fill="url(#c43)"/>
<rect x="248" y="57" width="85" height="1" fill="url(#c44)"/>
<rect x="248" y="58" width="87" height="1" fill="url(#c45)"/>
<rect x="248" y="59" width="88" height="1" fill="url(#c46)"/>
<rect x="248" y="60" width="89" height="1" fill="url(#c47)"/>
<rect x="248" y="61" width="90" height="1" fill="url(#c48)"/>
<rect x="248" y="62" width="92" height="1" fill="url(#c49)"/>
<rect x="248" y="63" width="93" height="1" fill="url(#c50)"/>
<rect x="248" y="64" width="94" height="1" fill="url(#c51)"/>
<rect x="249" y="65" width="94" height="1" fill="url(#c52)"/>
<rect x="249" y="66" width="95" height="1" fill="url(#c53)"/>
<rect x="249" y="67" width="97" height="1" fill="url(#c54)"/>
<rect x="249" y="68" width="98" height="1" fill="url(#c55)"/>
<rect x="249" y="69" width="99" height="1" fill="url(#c56)"/>
<rect x="249" y="70" width="100" height="1" fill="url(#c57)"/>
<rect x="249" y="71" width="101" height="1" fill="url(#c58)"/>
<rect x="249" y="72" width="103" height="1" fill="url(#c59)"/>
<rect x="249" y="73" width="104" height="1" fill="url(#c60)"/>
<rect x="249" y="74" width="105" height="1" fill="url(#c61)"/>
<rect x="249" y="75" width="106" height="1" fill="url(#c62)"/>
<rect x="249" y="76" width="107" height="1" fill="url(#c63)"/>
<rect x="249" y="77" width="109" height="1" fill="url(#c64)"/>
<rect x="249" y="78" width="110" height="1" fill="url(#c65)"/>
<rect x="249" y="79" width="111" height="1" fill="url(#c66)"/>
<rect x="250" y="80" width="111" height="1" fill="url(#c67)"/>
<rect x="250" y="81" width="112" height="1" fill="url(#c68)"/>
<rect x="250" y="82" width="114" height="1" fill="url(#c69)"/>
<rect x="250" y="83" width="115" height="1" fill="url(#c70)"/>
<rect x="250" y="84" width="116" height="1" fill="url(#c71)"/>
<rect x="250" y="85" width="117" height="1" fill="url(#c72)"/>
<rect x="250" y="86" width="118" height="1" fill="url(#c73)"/>
<rect x="250" y="87" width="120" height="1" fill="url(#c74)"/>
<rect x="251" y="88" width="120" height="1" fill="url(#c75)"/>
<rect x="251" y="89" width="121" height="1" fill="url(#c76)"/>
<rect x="251" y="90" width="122" height="1" fill="url(#c77)"/>
<rect x="251" y="91" width="123" height="1" fill="url(#c78)"/>
<rect x="251" y="92" width="125" height="1" fill="url(#c79)"/>
<rect x="251" y="93" width="126" height="1" fill="url(#c80)"/>
<rect x="252" y="94" width="126" height="1" fill="url(#c81)"/>
<rect x="252" y="95" width="127" height="1" fill="url(#c82)"/>
<rect x="252" y="96" width="128" height="1" fill="url(#c83)"/>
<rect x="252" y="97" width="130" height="1" fill="url(#c84)"/>
<rect x="252" y="98" width="131" height="1" fill="url(#c85)"/>
<rect x="252" y="99" width="132" height="1" fill="url(#c86)"/>
<rect x="253" y="100" width="132" height="1" fill="url(#c87)"/>
<rect x="253" y="101" width="133" height="1" fill="url(#c88)"/>
<rect x="253" y="102" width="135" height="1" fill="url(#c89)"/>
<rect x="253" y="103" width="136" height="1" fill="url(#c90)"/>
<rect x="253" y="104" width="137" height="1" fill="url(#c91)"/>
<rect x="254" y="105" width="137" height="1" fill="url(#c92)"/>
<rect x="254" y="106" width="138" height="1" fill="url(#c93)"/>
<rect x="254" y="107" width="140" height="1" fill="url(#c94)"/>
<rect x="254" y="108" width="141" height="1" fill="url(#c95)"/>
<rect x="254" y="109" width="142" height="1" fill="url(#c96)"/>
<rect x="255" y="110" width="142" height="1" fill="url(#c97)"/>
<rect x="255" y="111" width="143" height="1" fill="url(#c98)"/>
<rect x="255" y="112" width="145" height="1" fill="url(#c99)"/>
<rect x="255" y="113" width="146" height="1" fill="url(#c100)"/>
<rect x="255" y="114" width="147" height="1" fill="url(#c101)"/>
<rect x="256" y="115" width="147" height="1" fill="url(#c102)"/>
<rect x="256" y="116" width="148" height="1" fill="url(#c103)"/>
<rect x="256" y="117" width="150" height="1" fill="url(#c104)"/>
<rect x="256" y="118" width="151" height="1" fill="url(#c105)"/>
<rect x="257" y="119" width="151" height="1" fill="url(#c106)"/>
<rect x="257" y="120" width="152" height="1" fill="url(#c107)"/>
<rect x="257" y="121" width="153" height="1" fill="url(#c108)"/>
<rect x="257" y="122" width="155" height="1" fill="url(#c109)"/>
<rect x="258" y="123" width="155" height="1" fill="url(#c110)"/>
<rect x="258" y="124" width="156" height="1" fill="url(#c111)"/>
<rect x="258" y="125" width="157" height="1" fill="url(#c112)"/>
<rect x="258" y="126" width="158" height="1" fill="url(#c113)"/>
<rect x="259" y="127" width="159" height="1" fill="url(#c114)"/>
<rect x="259" y="128" width="160" height="1" fill="url(#c115)"/>
<rect x="259" y="129" width="161" height="1" fill="url(#c116)"/>
<rect x="259" y="130" width="161" height="1" fill="url(#c117)"/>
<rect x="260" y="131" width="157" height="1" fill="url(#c118)"/>
<rect x="260" y="132" width="155" height="1" fill="url(#c119)"/>
<rect x="260" y="133" width="152" height="1" fill="url(#c120)"/>
<rect x="261" y="134" width="148" height="1" fill="url(#c121)"/>
<rect x="261" y="135" width="146" height="1" fill="url(#c122)"/>
<rect x="261" y="136" width="143" height="1" fill="url(#c123)"/>
<rect x="262" y="137" width="140" height="1" fill="url(#c124)"/>
<rect x="262" y="138" width="137" height="1" fill="url(#c125)"/>
<rect x="262" y="139" width="135" height="1" fill="url(#c126)"/>
<rect x="262" y="140" width="132" height="1" fill="url(#c127)"/>
<rect x="263" y="141" width="128" height="1" fill="url(#c128)"/>
<rect x="263" y="142" width="126" height="1" fill="url(#c129)"/>
<rect x="264" y="143" width="122" height="1" fill="url(#c130)"/>
<rect x="264" y="144" width="120" height="1" fill="url(#c131)"/>
<rect x="264" y="145" width="117" height="1" fill="url(#c132)"/>
<rect x="265" y="146" width="114" height="1" fill="url(#c133)"/>
<rect x="265" y="147" width="111" height="1" fill="url(#c134)"/>
<rect x="265" y="148" width="108" height="1" fill="url(#c135)"/>
<rect x="266" y="149" width="105" height="1" fill="url(#c136)"/>
<rect x="266" y="150" width="102" height="1" fill="url(#c137)"/>
<rect x="267" y="151" width="99" height="1" fill="url(#c138)"/>
<rect x="267" y="152" width="96" height="1" fill="url(#c139)"/>
<rect x="267" y="153" width="94" height="1" fill="url(#c140)"/>
<rect x="268" y="154" width="90" height="1" fill="url(#c141)"/>
<rect x="268" y="155" width="87" height="1" fill="url(#c142)"/>
<rect x="269" y="156" width="84" height="1" fill="url(#c143)"/>
<rect x="269" y="157" width="81" height="1" fill="url(#c144)"/>
<rect x="270" y="158" width="78" height="1" fill="url(#c145)"/>
<rect x="270" y="159" width="75" height="1" fill="url(#c146)"/>
<rect x="271" y="160" width="72" height="1" fill="url(#c147)"/>
<rect x="271" y="161" width="69" height="1" fill="url(#c148)"/>
<rect x="272" y="162" width="65" height="1" fill="url(#c149)"/>
<rect x="272" y="163" width="63" height="1" fill="url(#c150)"/>
<rect x="273" y="164" width="59" height="1" fill="url(#c151)"/>
<rect x="273" y="165" width="57" height="1" fill="url(#c152)"/>
<rect x="274" y="166" width="53" height="1" fill="url(#c153)"/>
<rect x="274" y="167" width="51" height="1" fill="url(#c154)"/>
<rect x="275" y="168" width="47" height="1" fill="url(#c155)"/>
<rect x="275" y="169" width="44" height="1" fill="url(#c156)"/>
<rect x="276" y="170" width="41" height="1" fill="url(#c157)"/>
<rect x="277" y="171" width="37" height="1" fill="url(#c158)"/>
<rect x="278" y="172" width="34" height="1" fill="url(#c159)"/>
<rect x="278" y="173" width="31" height="1" fill="url(#c160)"/>
<rect x="279" y="174" width="28" height="1" fill="url(#c161)"/>
<rect x="280" y="175" width="24" height="1" fill="url(#c162)"/>
<rect x="281" y="176" width="21" height="1" fill="url(#c163)"/>
<rect x="283" y="177" width="16" height="1" fill="url(#c164)"/>
<rect x="284" y="178" width="12" height="1" fill="url(#c165)"/>
<rect x="285" y="179" width="9" height="1" fill="url(#c166)"/>
<rect x="287" y="180" width="4" height="1" fill="url(#c167)"/>
</g>
<path d="M289.05,180.43 L288.98,180.46 L288.87,180.47 L288.71,180.47 L288.43,180.41 L287.85,180.06 L286.81,179.29 L285.01,177.97 L282.09,175.64 L281.73,175.31 L281.36,174.96 L280.97,174.57 L280.56,174.14 L280.13,173.66 L279.66,173.12 L279.16,172.49 L278.63,171.79 L278.07,171.02 L277.49,170.19 L276.89,169.28 L276.25,168.26 L275.57,167.13 L274.87,165.90 L274.14,164.57 L273.37,163.10 L272.56,161.46 L271.71,159.67 L270.83,157.73 L269.91,155.67 L268.94,153.43 L267.91,150.97 L266.84,148.31 L265.76,145.48 L264.68,142.48 L263.61,139.27 L262.52,135.79 L261.44,132.09 L260.36,128.21 L259.30,124.20 L258.24,119.98 L257.16,115.51 L256.11,110.86 L255.13,106.12 L254.23,101.38 L253.38,96.58 L252.54,91.65 L251.76,86.70 L251.13,81.78 L250.70,77.00 L250.39,72.31 L250.12,67.64 L249.90,63.06 L249.76,58.63 L249.70,54.43 L249.84,50.37 L250.20,46.39 L250.72,42.59 L251.35,39.07 L252.01,35.94 L252.82,33.03 L253.87,30.22 L255.10,27.67 L256.43,25.53 L257.79,23.95 L259.23,22.71 L260.82,21.57 L262.50,20.61 L264.23,19.97 L265.98,19.73 L267.75,19.81 L269.58,20.04 L271.45,20.37 L273.33,20.77 L275.20,21.20 L277.08,21.75 L278.96,22.48 L280.85,23.34 L282.73,24.25 L284.57,25.14 L286.37,26.02 L288.15,26.93 L289.92,27.88 L291.66,28.86 L293.40,29.85 L295.12,30.86 L296.82,31.90 L298.51,32.96 L300.20,34.04 L301.88,35.14 L303.57,36.26 L305.24,37.41 L306.92,38.58 L308.59,39.76 L310.25,40.96 L311.91,42.17 L313.57,43.40 L315.23,44.64 L316.88,45.90 L318.53,47.16 L320.18,48.44 L321.83,49.72 L323.48,51.02 L325.13,52.33 L326.78,53.64 L328.44,54.96 L330.10,56.29 L331.75,57.63 L333.41,58.97 L335.06,60.31 L336.71,61.66 L338.36,63.01 L340.00,64.37 L341.65,65.72 L343.29,67.08 L344.93,68.43 L346.58,69.79 L348.22,71.14 L349.85,72.50 L351.48,73.84 L353.09,75.19 L354.71,76.53 L356.31,77.87 L357.91,79.21 L359.50,80.53 L361.08,81.85 L362.65,83.16 L364.21,84.47 L365.76,85.77 L367.29,87.05 L368.81,88.32 L370.32,89.58 L371.82,90.84 L373.30,92.07 L374.76,93.29 L376.20,94.50 L377.63,95.69 L379.04,96.86 L380.43,98.01 L381.79,99.15 L383.12,100.26 L384.43,101.37 L385.72,102.45 L386.98,103.50 L388.19,104.52 L389.37,105.50 L390.51,106.46 L391.62,107.39 L392.71,108.29 L393.76,109.17 L394.80,110.04 L395.81,110.88 L396.80,111.71 L397.75,112.50 L398.66,113.26 L399.54,113.99 L400.40,114.70 L401.22,115.39 L402.00,116.03 L402.73,116.64 L403.42,117.21 L404.10,117.78 L404.75,118.33 L405.39,118.86 L406.00,119.37 L406.59,119.87 L407.15,120.34 L407.69,120.79 L408.20,121.22 L408.67,121.62 L409.13,122.00 L409.56,122.36 L409.98,122.71 L410.38,123.04 L410.77,123.36 L411.14,123.67 L411.49,123.97 L411.83,124.25 L412.15,124.52 L412.47,124.78 L412.77,125.03 L413.06,125.28 L413.35,125.52 L413.62,125.75 L413.88,125.97 L414.14,126.18 L414.38,126.39 L414.61,126.58 L414.83,126.76 L416.65,128.27 L417.58,129.05 L418.36,129.71 L418.66,129.96 Z" fill="none" stroke="#111" stroke-width="1.2"/>
<line x1="282.09" y1="175.64" x2="280.06" y2="177.85" stroke="#111" stroke-width="0.8"/>
<line x1="280.13" y1="173.66" x2="278.61" y2="174.96" stroke="#111" stroke-width="0.8"/>
<line x1="277.49" y1="170.19" x2="274.99" y2="171.85" stroke="#111" stroke-width="0.8"/>
<line x1="274.14" y1="164.57" x2="272.37" y2="165.50" stroke="#111" stroke-width="0.8"/>
<line x1="269.91" y1="155.67" x2="267.16" y2="156.86" stroke="#111" stroke-width="0.8"/>
<line x1="264.68" y1="142.48" x2="262.79" y2="143.12" stroke="#111" stroke-width="0.8"/>
<line x1="259.30" y1="124.20" x2="256.39" y2="124.93" stroke="#111" stroke-width="0.8"/>
<line x1="254.23" y1="101.38" x2="252.26" y2="101.73" stroke="#111" stroke-width="0.8"/>
<line x1="250.70" y1="77.00" x2="247.70" y2="77.20" stroke="#111" stroke-width="0.8"/>
<line x1="249.70" y1="54.43" x2="247.70" y2="54.37" stroke="#111" stroke-width="0.8"/>
<line x1="252.01" y1="35.94" x2="249.12" y2="35.13" stroke="#111" stroke-width="0.8"/>
<line x1="257.79" y1="23.95" x2="256.49" y2="22.44" stroke="#111" stroke-width="0.8"/>
<line x1="265.98" y1="19.73" x2="266.12" y2="16.73" stroke="#111" stroke-width="0.8"/>
<line x1="275.20" y1="21.20" x2="275.76" y2="19.28" stroke="#111" stroke-width="0.8"/>
<line x1="284.57" y1="25.14" x2="285.88" y2="22.44" stroke="#111" stroke-width="0.8"/>
<line x1="293.40" y1="29.85" x2="294.41" y2="28.12" stroke="#111" stroke-width="0.8"/>
<line x1="301.88" y1="35.14" x2="303.55" y2="32.65" stroke="#111" stroke-width="0.8"/>
<line x1="310.25" y1="40.96" x2="311.43" y2="39.34" stroke="#111" stroke-width="0.8"/>
<line x1="318.53" y1="47.16" x2="320.36" y2="44.79" stroke="#111" stroke-width="0.8"/>
<line x1="326.78" y1="53.64" x2="328.03" y2="52.08" stroke="#111" stroke-width="0.8"/>
<line x1="335.06" y1="60.31" x2="336.96" y2="57.99" stroke="#111" stroke-width="0.8"/>
<line x1="343.29" y1="67.08" x2="344.56" y2="65.53" stroke="#111" stroke-width="0.8"/>
<line x1="351.48" y1="73.84" x2="353.39" y2="71.54" stroke="#111" stroke-width="0.8"/>
<line x1="359.50" y1="80.53" x2="360.78" y2="79.00" stroke="#111" stroke-width="0.8"/>
<line x1="367.29" y1="87.05" x2="369.21" y2="84.75" stroke="#111" stroke-width="0.8"/>
<line x1="374.76" y1="93.29" x2="376.04" y2="91.76" stroke="#111" stroke-width="0.8"/>
<line x1="381.79" y1="99.15" x2="383.71" y2="96.85" stroke="#111" stroke-width="0.8"/>
<line x1="388.19" y1="104.52" x2="389.47" y2="102.98" stroke="#111" stroke-width="0.8"/>
<line x1="393.76" y1="109.17" x2="395.69" y2="106.87" stroke="#111" stroke-width="0.8"/>
<line x1="398.66" y1="113.26" x2="399.94" y2="111.72" stroke="#111" stroke-width="0.8"/>
<line x1="402.73" y1="116.64" x2="404.66" y2="114.33" stroke="#111" stroke-width="0.8"/>
<line x1="406.00" y1="119.37" x2="407.29" y2="117.84" stroke="#111" stroke-width="0.8"/>
<line x1="408.67" y1="121.62" x2="410.60" y2="119.32" stroke="#111" stroke-width="0.8"/>
<line x1="412.47" y1="124.78" x2="414.39" y2="122.48" stroke="#111" stroke-width="0.8"/>
<line x1="415.03" y1="126.93" x2="416.95" y2="124.63" stroke="#111" stroke-width="0.8"/>
<line x1="416.65" y1="128.27" x2="418.57" y2="125.97" stroke="#111" stroke-width="0.8"/>
<line x1="417.58" y1="129.05" x2="419.50" y2="126.75" stroke="#111" stroke-width="0.8"/>
<line x1="418.36" y1="129.71" x2="420.29" y2="127.41" stroke="#111" stroke-width="0.8"/>
<line x1="418.66" y1="129.96" x2="420.59" y2="127.66" stroke="#111" stroke-width="0.8"/>
<text x="265.20" y="14.80" font-size="6.60" text-anchor="middle" fill="#34349a" stroke="#34349a" stroke-width="0.08" >520</text>
<text x="308.00" y="31.00" font-size="6.60" text-anchor="middle" fill="#34349a" stroke="#34349a" stroke-width="0.08" >540</text>
<text x="341.00" y="55.20" font-size="6.60" text-anchor="middle" fill="#34349a" stroke="#34349a" stroke-width="0.08" >560</text>
<text x="373.50" y="83.20" font-size="6.60" text-anchor="middle" fill="#34349a" stroke="#34349a" stroke-width="0.08" >580</text>
<text x="400.40" y="105.20" font-size="6.60" text-anchor="middle" fill="#34349a" stroke="#34349a" stroke-width="0.08" >600</text>
<text x="415.80" y="118.20" font-size="6.60" text-anchor="middle" fill="#34349a" stroke="#34349a" stroke-width="0.08" >620</text>
<text x="426.80" y="127.80" font-size="6.60" text-anchor="middle" fill="#34349a" stroke="#34349a" stroke-width="0.08" >700</text>
<text x="240.90" y="76.20" font-size="6.60" text-anchor="middle" fill="#34349a" stroke="#34349a" stroke-width="0.08" >500</text>
<text x="254.50" y="129.60" font-size="6.60" text-anchor="middle" fill="#34349a" stroke="#34349a" stroke-width="0.08" >490</text>
<text x="259.00" y="159.90" font-size="6.60" text-anchor="middle" fill="#34349a" stroke="#34349a" stroke-width="0.08" >480</text>
<text x="265.50" y="173.50" font-size="6.60" text-anchor="middle" fill="#34349a" stroke="#34349a" stroke-width="0.08" >470</text>
<text x="272.40" y="181.20" font-size="6.60" text-anchor="middle" fill="#34349a" stroke="#34349a" stroke-width="0.08" >460</text>
<text x="298.60" y="181.70" font-size="6.60" text-anchor="middle" fill="#34349a" stroke="#34349a" stroke-width="0.08" >380</text>
<line x1="248.80" y1="6.89" x2="248.80" y2="183.40" stroke="#777" stroke-width="1.3"/>
<line x1="246.30" y1="181.40" x2="433.76" y2="181.40" stroke="#111" stroke-width="1.1"/>
<line x1="246.20" y1="181.40" x2="248.80" y2="181.40" stroke="#333" stroke-width="0.9"/>
<text x="244.30" y="183.70" font-size="6.90" text-anchor="end" fill="#111" stroke="#111" stroke-width="0.08" >0.0</text>
<line x1="247.40" y1="171.71" x2="248.80" y2="171.71" stroke="#333" stroke-width="0.9"/>
<line x1="246.20" y1="162.01" x2="248.80" y2="162.01" stroke="#333" stroke-width="0.9"/>
<text x="244.30" y="164.31" font-size="6.90" text-anchor="end" fill="#111" stroke="#111" stroke-width="0.08" >0.1</text>
<line x1="247.40" y1="152.31" x2="248.80" y2="152.31" stroke="#333" stroke-width="0.9"/>
<line x1="246.20" y1="142.62" x2="248.80" y2="142.62" stroke="#333" stroke-width="0.9"/>
<text x="244.30" y="144.92" font-size="6.90" text-anchor="end" fill="#111" stroke="#111" stroke-width="0.08" >0.2</text>
<line x1="247.40" y1="132.93" x2="248.80" y2="132.93" stroke="#333" stroke-width="0.9"/>
<line x1="246.20" y1="123.23" x2="248.80" y2="123.23" stroke="#333" stroke-width="0.9"/>
<text x="244.30" y="125.53" font-size="6.90" text-anchor="end" fill="#111" stroke="#111" stroke-width="0.08" >0.3</text>
<line x1="247.40" y1="113.53" x2="248.80" y2="113.53" stroke="#333" stroke-width="0.9"/>
<line x1="246.20" y1="103.84" x2="248.80" y2="103.84" stroke="#333" stroke-width="0.9"/>
<text x="244.30" y="106.14" font-size="6.90" text-anchor="end" fill="#111" stroke="#111" stroke-width="0.08" >0.4</text>
<line x1="247.40" y1="94.14" x2="248.80" y2="94.14" stroke="#333" stroke-width="0.9"/>
<line x1="246.20" y1="84.45" x2="248.80" y2="84.45" stroke="#333" stroke-width="0.9"/>
<text x="244.30" y="86.75" font-size="6.90" text-anchor="end" fill="#111" stroke="#111" stroke-width="0.08" >0.5</text>
<line x1="247.40" y1="74.75" x2="248.80" y2="74.75" stroke="#333" stroke-width="0.9"/>
<line x1="246.20" y1="65.06" x2="248.80" y2="65.06" stroke="#333" stroke-width="0.9"/>
<text x="244.30" y="67.36" font-size="6.90" text-anchor="end" fill="#111" stroke="#111" stroke-width="0.08" >0.6</text>
<line x1="247.40" y1="55.36" x2="248.80" y2="55.36" stroke="#333" stroke-width="0.9"/>
<line x1="246.20" y1="45.67" x2="248.80" y2="45.67" stroke="#333" stroke-width="0.9"/>
<text x="244.30" y="47.97" font-size="6.90" text-anchor="end" fill="#111" stroke="#111" stroke-width="0.08" >0.7</text>
<line x1="247.40" y1="35.97" x2="248.80" y2="35.97" stroke="#333" stroke-width="0.9"/>
<line x1="246.20" y1="26.28" x2="248.80" y2="26.28" stroke="#333" stroke-width="0.9"/>
<text x="244.30" y="28.58" font-size="6.90" text-anchor="end" fill="#111" stroke="#111" stroke-width="0.08" >0.8</text>
<line x1="247.40" y1="16.58" x2="248.80" y2="16.58" stroke="#333" stroke-width="0.9"/>
<line x1="246.20" y1="6.89" x2="248.80" y2="6.89" stroke="#333" stroke-width="0.9"/>
<text x="244.30" y="9.19" font-size="6.90" text-anchor="end" fill="#111" stroke="#111" stroke-width="0.08" >0.9</text>
<line x1="248.80" y1="181.40" x2="248.80" y2="183.80" stroke="#333" stroke-width="0.9"/>
<text x="248.80" y="190.90" font-size="6.90" text-anchor="middle" fill="#111" stroke="#111" stroke-width="0.08" >0.0</text>
<line x1="260.36" y1="181.40" x2="260.36" y2="182.80" stroke="#333" stroke-width="0.9"/>
<line x1="271.92" y1="181.40" x2="271.92" y2="183.80" stroke="#333" stroke-width="0.9"/>
<text x="271.92" y="190.90" font-size="6.90" text-anchor="middle" fill="#111" stroke="#111" stroke-width="0.08" >0.1</text>
<line x1="283.48" y1="181.40" x2="283.48" y2="182.80" stroke="#333" stroke-width="0.9"/>
<line x1="295.04" y1="181.40" x2="295.04" y2="183.80" stroke="#333" stroke-width="0.9"/>
<text x="295.04" y="190.90" font-size="6.90" text-anchor="middle" fill="#111" stroke="#111" stroke-width="0.08" >0.2</text>
<line x1="306.60" y1="181.40" x2="306.60" y2="182.80" stroke="#333" stroke-width="0.9"/>
<line x1="318.16" y1="181.40" x2="318.16" y2="183.80" stroke="#333" stroke-width="0.9"/>
<text x="318.16" y="190.90" font-size="6.90" text-anchor="middle" fill="#111" stroke="#111" stroke-width="0.08" >0.3</text>
<line x1="329.72" y1="181.40" x2="329.72" y2="182.80" stroke="#333" stroke-width="0.9"/>
<line x1="341.28" y1="181.40" x2="341.28" y2="183.80" stroke="#333" stroke-width="0.9"/>
<text x="341.28" y="190.90" font-size="6.90" text-anchor="middle" fill="#111" stroke="#111" stroke-width="0.08" >0.4</text>
<line x1="352.84" y1="181.40" x2="352.84" y2="182.80" stroke="#333" stroke-width="0.9"/>
<line x1="364.40" y1="181.40" x2="364.40" y2="183.80" stroke="#333" stroke-width="0.9"/>
<text x="364.40" y="190.90" font-size="6.90" text-anchor="middle" fill="#111" stroke="#111" stroke-width="0.08" >0.5</text>
<line x1="375.96" y1="181.40" x2="375.96" y2="182.80" stroke="#333" stroke-width="0.9"/>
<line x1="387.52" y1="181.40" x2="387.52" y2="183.80" stroke="#333" stroke-width="0.9"/>
<text x="387.52" y="190.90" font-size="6.90" text-anchor="middle" fill="#111" stroke="#111" stroke-width="0.08" >0.6</text>
<line x1="399.08" y1="181.40" x2="399.08" y2="182.80" stroke="#333" stroke-width="0.9"/>
<line x1="410.64" y1="181.40" x2="410.64" y2="183.80" stroke="#333" stroke-width="0.9"/>
<text x="410.64" y="190.90" font-size="6.90" text-anchor="middle" fill="#111" stroke="#111" stroke-width="0.08" >0.7</text>
<line x1="422.20" y1="181.40" x2="422.20" y2="182.80" stroke="#333" stroke-width="0.9"/>
<line x1="433.76" y1="181.40" x2="433.76" y2="183.80" stroke="#333" stroke-width="0.9"/>
<text x="433.76" y="190.90" font-size="6.90" text-anchor="middle" fill="#111" stroke="#111" stroke-width="0.08" >0.8</text>
<text x="342.00" y="199.50" font-size="8.00" text-anchor="middle" fill="#111" stroke="#111" stroke-width="0.20" >x</text>
<text x="227.50" y="96.00" font-size="8.00" text-anchor="middle" fill="#111" stroke="#111" stroke-width="0.20" >y</text>
<text x="220.60" y="12.90" font-size="15.60" text-anchor="start" fill="#000" stroke="#000" stroke-width="0.20" >b</text>
<path d="M304.90,141.40 C304.68,138.67 303.78,129.90 303.60,125.00 C303.42,120.10 303.48,115.67 303.80,112.00 C304.12,108.33 304.72,105.58 305.50,103.00 C306.28,100.42 307.25,98.20 308.50,96.50 C309.75,94.80 311.25,93.70 313.00,92.80 C314.75,91.90 316.33,91.27 319.00,91.10 C321.67,90.93 325.83,91.32 329.00,91.80 C332.17,92.28 335.13,93.13 338.00,94.00 C340.87,94.87 343.70,96.17 346.20,97.00 C348.70,97.83 350.73,98.28 353.00,99.00 C355.27,99.72 357.97,100.60 359.80,101.30 C361.63,102.00 363.30,102.88 364.00,103.20" fill="none" stroke="url(#trajg)" stroke-width="1.0"/>
<path d="M370.5,106.8 L364.2,99.6 L361.2,106.2 Z" fill="#f06a3a"/>
<circle cx="278.80" cy="138.50" r="3.0" fill="#fff" fill-opacity="0.3" stroke="#1a1a1a" stroke-width="1.15"/>
<circle cx="298.20" cy="84.60" r="3.0" fill="#fff" fill-opacity="0.3" stroke="#1a1a1a" stroke-width="1.15"/>
<circle cx="342.30" cy="74.40" r="3.0" fill="#fff" fill-opacity="0.3" stroke="#1a1a1a" stroke-width="1.15"/>
<circle cx="382.40" cy="105.60" r="3.0" fill="#fff" fill-opacity="0.3" stroke="#1a1a1a" stroke-width="1.15"/>
<text x="272.80" y="139.60" font-size="7.50" text-anchor="middle" fill="#222" stroke="#222" stroke-width="0.08" >i</text>
<text x="292.00" y="84.80" font-size="7.50" text-anchor="middle" fill="#222" stroke="#222" stroke-width="0.08" >ii</text>
<text x="335.60" y="75.40" font-size="7.50" text-anchor="middle" fill="#222" stroke="#222" stroke-width="0.08" >iii</text>
<text x="374.30" y="108.00" font-size="7.50" text-anchor="middle" fill="#222" stroke="#222" stroke-width="0.08" >iv</text>
<circle cx="375.90" cy="26.40" r="9.5" fill="#4096dc" stroke="#4096dc" stroke-width="1.0"/>
<circle cx="375.00" cy="26.10" r="8.3" fill="#52aef0"/>
<circle cx="410.30" cy="26.40" r="9.5" fill="#5adcd4" stroke="#5adcd4" stroke-width="1.0"/>
<circle cx="409.40" cy="26.10" r="8.3" fill="#7cf8f8"/>
<circle cx="375.90" cy="55.40" r="9.5" fill="#8cb83c" stroke="#8cb83c" stroke-width="1.0"/>
<circle cx="375.00" cy="55.10" r="8.3" fill="#c4e83c"/>
<circle cx="410.30" cy="55.70" r="9.5" fill="#8a3c70" stroke="#8a3c70" stroke-width="1.0"/>
<circle cx="409.40" cy="55.40" r="8.3" fill="#ee5a36"/>
<text x="364.60" y="23.70" font-size="8.60" text-anchor="middle" fill="#111" stroke="#111" stroke-width="0.20" >i</text>
<text x="398.00" y="23.70" font-size="8.60" text-anchor="middle" fill="#111" stroke="#111" stroke-width="0.20" >ii</text>
<text x="360.40" y="53.00" font-size="8.60" text-anchor="middle" fill="#111" stroke="#111" stroke-width="0.20" >iii</text>
<text x="396.00" y="53.00" font-size="8.60" text-anchor="middle" fill="#111" stroke="#111" stroke-width="0.20" >iv</text>
<rect x="479.50" y="10.50" width="202.50" height="164.70" fill="none" stroke="#555" stroke-width="1.1"/>
<line x1="479.50" y1="10.50" x2="682.00" y2="10.50" stroke="#333" stroke-width="1.2"/>
<line x1="476.50" y1="175.20" x2="479.50" y2="175.20" stroke="#444" stroke-width="0.9"/>
<text x="473.60" y="177.50" font-size="6.90" text-anchor="end" fill="#111" stroke="#111" stroke-width="0.08" >340</text>
<line x1="477.70" y1="163.44" x2="479.50" y2="163.44" stroke="#444" stroke-width="0.9"/>
<line x1="476.50" y1="151.67" x2="479.50" y2="151.67" stroke="#444" stroke-width="0.9"/>
<text x="473.60" y="153.97" font-size="6.90" text-anchor="end" fill="#111" stroke="#111" stroke-width="0.08" >360</text>
<line x1="477.70" y1="139.91" x2="479.50" y2="139.91" stroke="#444" stroke-width="0.9"/>
<line x1="476.50" y1="128.14" x2="479.50" y2="128.14" stroke="#444" stroke-width="0.9"/>
<text x="473.60" y="130.44" font-size="6.90" text-anchor="end" fill="#111" stroke="#111" stroke-width="0.08" >380</text>
<line x1="477.70" y1="116.38" x2="479.50" y2="116.38" stroke="#444" stroke-width="0.9"/>
<line x1="476.50" y1="104.61" x2="479.50" y2="104.61" stroke="#444" stroke-width="0.9"/>
<text x="473.60" y="106.91" font-size="6.90" text-anchor="end" fill="#111" stroke="#111" stroke-width="0.08" >400</text>
<line x1="477.70" y1="92.85" x2="479.50" y2="92.85" stroke="#444" stroke-width="0.9"/>
<line x1="476.50" y1="81.09" x2="479.50" y2="81.09" stroke="#444" stroke-width="0.9"/>
<text x="473.60" y="83.39" font-size="6.90" text-anchor="end" fill="#111" stroke="#111" stroke-width="0.08" >420</text>
<line x1="477.70" y1="69.32" x2="479.50" y2="69.32" stroke="#444" stroke-width="0.9"/>
<line x1="476.50" y1="57.56" x2="479.50" y2="57.56" stroke="#444" stroke-width="0.9"/>
<text x="473.60" y="59.86" font-size="6.90" text-anchor="end" fill="#111" stroke="#111" stroke-width="0.08" >440</text>
<line x1="477.70" y1="45.79" x2="479.50" y2="45.79" stroke="#444" stroke-width="0.9"/>
<line x1="476.50" y1="34.03" x2="479.50" y2="34.03" stroke="#444" stroke-width="0.9"/>
<text x="473.60" y="36.33" font-size="6.90" text-anchor="end" fill="#111" stroke="#111" stroke-width="0.08" >460</text>
<line x1="477.70" y1="22.26" x2="479.50" y2="22.26" stroke="#444" stroke-width="0.9"/>
<line x1="476.50" y1="10.50" x2="479.50" y2="10.50" stroke="#444" stroke-width="0.9"/>
<text x="473.60" y="12.80" font-size="6.90" text-anchor="end" fill="#111" stroke="#111" stroke-width="0.08" >480</text>
<line x1="490.35" y1="175.20" x2="490.35" y2="176.80" stroke="#444" stroke-width="0.9"/>
<line x1="508.43" y1="175.20" x2="508.43" y2="177.80" stroke="#444" stroke-width="0.9"/>
<text x="508.43" y="186.20" font-size="6.90" text-anchor="middle" fill="#111" stroke="#111" stroke-width="0.08" >100</text>
<line x1="526.51" y1="175.20" x2="526.51" y2="176.80" stroke="#444" stroke-width="0.9"/>
<line x1="544.59" y1="175.20" x2="544.59" y2="177.80" stroke="#444" stroke-width="0.9"/>
<text x="544.59" y="186.20" font-size="6.90" text-anchor="middle" fill="#111" stroke="#111" stroke-width="0.08" >150</text>
<line x1="562.67" y1="175.20" x2="562.67" y2="176.80" stroke="#444" stroke-width="0.9"/>
<line x1="580.75" y1="175.20" x2="580.75" y2="177.80" stroke="#444" stroke-width="0.9"/>
<text x="580.75" y="186.20" font-size="6.90" text-anchor="middle" fill="#111" stroke="#111" stroke-width="0.08" >200</text>
<line x1="598.83" y1="175.20" x2="598.83" y2="176.80" stroke="#444" stroke-width="0.9"/>
<line x1="616.91" y1="175.20" x2="616.91" y2="177.80" stroke="#444" stroke-width="0.9"/>
<text x="616.91" y="186.20" font-size="6.90" text-anchor="middle" fill="#111" stroke="#111" stroke-width="0.08" >250</text>
<line x1="634.99" y1="175.20" x2="634.99" y2="176.80" stroke="#444" stroke-width="0.9"/>
<line x1="653.07" y1="175.20" x2="653.07" y2="177.80" stroke="#444" stroke-width="0.9"/>
<text x="653.07" y="186.20" font-size="6.90" text-anchor="middle" fill="#111" stroke="#111" stroke-width="0.08" >300</text>
<line x1="671.15" y1="175.20" x2="671.15" y2="176.80" stroke="#444" stroke-width="0.9"/>
<text x="586.00" y="199.30" font-size="9.20" text-anchor="middle" fill="#111" stroke="#111" stroke-width="0.20" >Temperature (K)</text>
<text transform="translate(458.40,92.00) rotate(-90)" font-size="9.2" text-anchor="middle" fill="#111" stroke="#111" stroke-width="0.2">FWHM (meV)</text>
<text x="450.60" y="12.80" font-size="16.50" text-anchor="start" fill="#000" stroke="#000" stroke-width="0.20" >c</text>
<rect x="491.56" y="156.21" width="4.8" height="4.8" fill="#4cc070"/>
<rect x="506.03" y="152.80" width="4.8" height="4.8" fill="#4cc070"/>
<rect x="520.49" y="138.33" width="4.8" height="4.8" fill="#4cc070"/>
<rect x="534.96" y="136.57" width="4.8" height="4.8" fill="#4cc070"/>
<rect x="549.42" y="123.98" width="4.8" height="4.8" fill="#4cc070"/>
<rect x="563.89" y="113.51" width="4.8" height="4.8" fill="#4cc070"/>
<rect x="578.35" y="101.51" width="4.8" height="4.8" fill="#4cc070"/>
<rect x="592.81" y="89.98" width="4.8" height="4.8" fill="#4cc070"/>
<rect x="607.28" y="78.45" width="4.8" height="4.8" fill="#4cc070"/>
<rect x="621.74" y="68.45" width="4.8" height="4.8" fill="#4cc070"/>
<rect x="636.21" y="50.92" width="4.8" height="4.8" fill="#4cc070"/>
<rect x="650.67" y="36.10" width="4.8" height="4.8" fill="#4cc070"/>
<rect x="665.14" y="24.57" width="4.8" height="4.8" fill="#4cc070"/>
<path d="M493.96,157.38 C494.57,157.25 496.38,156.90 497.58,156.62 C498.79,156.34 499.99,156.03 501.20,155.70 C502.40,155.37 503.61,155.01 504.81,154.63 C506.02,154.25 507.22,153.85 508.43,153.41 C509.63,152.98 510.84,152.53 512.04,152.05 C513.25,151.57 514.46,151.06 515.66,150.54 C516.87,150.01 518.07,149.46 519.28,148.89 C520.48,148.32 521.69,147.72 522.89,147.11 C524.10,146.49 525.30,145.85 526.51,145.20 C527.71,144.54 528.92,143.86 530.12,143.17 C531.33,142.47 532.54,141.76 533.74,141.03 C534.95,140.30 536.15,139.55 537.36,138.79 C538.56,138.02 539.77,137.24 540.97,136.44 C542.18,135.65 543.38,134.84 544.59,134.01 C545.79,133.19 547.00,132.35 548.21,131.50 C549.41,130.65 550.62,129.78 551.82,128.90 C553.03,128.03 554.23,127.14 555.44,126.24 C556.64,125.34 557.85,124.43 559.05,123.51 C560.26,122.59 561.46,121.66 562.67,120.73 C563.88,119.79 565.08,118.84 566.29,117.88 C567.49,116.93 568.70,115.96 569.90,114.99 C571.11,114.02 572.31,113.04 573.52,112.06 C574.72,111.07 575.93,110.08 577.13,109.08 C578.34,108.08 579.54,107.07 580.75,106.06 C581.96,105.05 583.16,104.04 584.37,103.02 C585.57,102.00 586.78,100.97 587.98,99.94 C589.19,98.91 590.39,97.87 591.60,96.84 C592.80,95.80 594.01,94.75 595.21,93.71 C596.42,92.66 597.62,91.61 598.83,90.56 C600.04,89.51 601.24,88.45 602.45,87.39 C603.65,86.33 604.86,85.27 606.06,84.21 C607.27,83.14 608.47,82.08 609.68,81.01 C610.88,79.94 612.09,78.87 613.29,77.80 C614.50,76.73 615.71,75.65 616.91,74.58 C618.12,73.50 619.32,72.42 620.53,71.35 C621.73,70.27 622.94,69.19 624.14,68.11 C625.35,67.03 626.55,65.95 627.76,64.87 C628.96,63.79 630.17,62.70 631.38,61.62 C632.58,60.54 633.79,59.45 634.99,58.37 C636.20,57.29 637.40,56.20 638.61,55.12 C639.81,54.03 641.02,52.95 642.22,51.87 C643.43,50.78 644.63,49.70 645.84,48.61 C647.04,47.53 648.25,46.44 649.46,45.36 C650.66,44.28 651.87,43.19 653.07,42.11 C654.28,41.03 655.48,39.94 656.69,38.86 C657.89,37.78 659.10,36.70 660.30,35.62 C661.51,34.53 662.71,33.45 663.92,32.37 C665.12,31.29 666.93,29.68 667.54,29.14" fill="none" stroke="#e8342c" stroke-width="1.1"/>
<rect x="493.0" y="15.3" width="4.8" height="4.8" fill="#4cc070"/>
<text x="506.60" y="20.30" font-size="8.90" text-anchor="start" fill="#111" stroke="#111" stroke-width="0.20" >Experimental</text>
<line x1="486.3" y1="30.9" x2="503.7" y2="30.9" stroke="#ee5a58" stroke-width="1.2"/>
<text x="506.60" y="33.50" font-size="8.90" text-anchor="start" fill="#111" stroke="#111" stroke-width="0.20" >Fitting curve</text>
<text x="593.00" y="126.30" font-size="9.10" text-anchor="start" fill="#111" stroke="#111" stroke-width="0.20" >S = 16.9</text>
<text x="593.00" y="141.60" font-size="9.10" text-anchor="start" fill="#111" stroke="#111" stroke-width="0.20" >&#295;&#969;<tspan font-size="5.2" dy="1.8">photon</tspan><tspan dy="-1.8"> = 36.5 meV</tspan></text>
<text x="593.00" y="158.00" font-size="9.10" text-anchor="start" fill="#111" stroke="#111" stroke-width="0.20" >R<tspan font-size="5.2" dy="-3.2">2</tspan><tspan dy="3.2"> = 0.997</tspan></text>
<rect x="234.80" y="221.10" width="199.70" height="162.80" fill="none" stroke="#333" stroke-width="1.1"/>
<rect x="234.80" y="226.20" width="147.81" height="16.20" fill="url(#eb0)" stroke="#8a8a8a" stroke-width="0.8"/>
<line x1="234.80" y1="247.90" x2="236.80" y2="247.90" stroke="#333" stroke-width="0.9"/>
<rect x="234.80" y="253.40" width="90.20" height="16.20" fill="url(#eb1)" stroke="#8a8a8a" stroke-width="0.8"/>
<line x1="234.80" y1="275.10" x2="236.80" y2="275.10" stroke="#333" stroke-width="0.9"/>
<text x="326.80" y="264.00" font-size="9.00" text-anchor="start" fill="#111" stroke="#111" stroke-width="0.20" >23.8</text>
<text x="431.80" y="263.80" font-size="9.20" text-anchor="end" fill="#111" stroke="#111" stroke-width="0.20" >YAP:Ce</text>
<rect x="234.80" y="280.60" width="61.02" height="16.20" fill="url(#eb2)" stroke="#8a8a8a" stroke-width="0.8"/>
<line x1="234.80" y1="302.30" x2="236.80" y2="302.30" stroke="#333" stroke-width="0.9"/>
<text x="297.62" y="291.20" font-size="9.00" text-anchor="start" fill="#111" stroke="#111" stroke-width="0.20" >16.1</text>
<text x="431.80" y="291.00" font-size="9.20" text-anchor="end" fill="#111" stroke="#111" stroke-width="0.20" >CDSCBr</text>
<rect x="234.80" y="307.80" width="14.02" height="16.20" fill="url(#eb3)" stroke="#8a8a8a" stroke-width="0.8"/>
<line x1="234.80" y1="329.50" x2="236.80" y2="329.50" stroke="#333" stroke-width="0.9"/>
<text x="250.62" y="318.40" font-size="9.00" text-anchor="start" fill="#111" stroke="#111" stroke-width="0.20" >3.7</text>
<text x="431.80" y="318.20" font-size="9.20" text-anchor="end" fill="#111" stroke="#111" stroke-width="0.20" >CDSCCI</text>
<rect x="234.80" y="335.00" width="5.31" height="16.20" fill="url(#eb4)" stroke="#8a8a8a" stroke-width="0.8"/>
<line x1="234.80" y1="356.70" x2="236.80" y2="356.70" stroke="#333" stroke-width="0.9"/>
<text x="241.91" y="345.60" font-size="9.00" text-anchor="start" fill="#111" stroke="#111" stroke-width="0.20" >1.4</text>
<text x="431.80" y="345.40" font-size="9.20" text-anchor="end" fill="#111" stroke="#111" stroke-width="0.20" >CSCCI</text>
<rect x="234.80" y="362.20" width="3.79" height="16.20" fill="url(#eb5)" stroke="#8a8a8a" stroke-width="0.8"/>
<line x1="234.80" y1="383.90" x2="236.80" y2="383.90" stroke="#333" stroke-width="0.9"/>
<text x="240.39" y="372.80" font-size="9.00" text-anchor="start" fill="#111" stroke="#111" stroke-width="0.20" >1.0</text>
<text x="431.80" y="372.60" font-size="9.20" text-anchor="end" fill="#111" stroke="#111" stroke-width="0.20" >PWO</text>
<text x="432.00" y="237.10" font-size="9.00" text-anchor="end" fill="#111" stroke="#111" stroke-width="0.20" >39.0 CDSCI</text>
<text x="333.80" y="403.20" font-size="9.20" text-anchor="middle" fill="#111" stroke="#111" stroke-width="0.20" >X-ray-induced emission</text>
<text x="221.20" y="230.60" font-size="16.50" text-anchor="start" fill="#000" stroke="#000" stroke-width="0.20" >e</text>
<rect x="489" y="219" width="169" height="2" fill="url(#f0)"/>
<rect x="489" y="221" width="169" height="2" fill="url(#f2)"/>
<rect x="489" y="223" width="169" height="2" fill="url(#f4)"/>
<rect x="489" y="225" width="169" height="2" fill="url(#f6)"/>
<rect x="489" y="227" width="169" height="2" fill="url(#f8)"/>
<rect x="489" y="229" width="169" height="2" fill="url(#f10)"/>
<rect x="489" y="231" width="169" height="2" fill="url(#f12)"/>
<rect x="489" y="233" width="169" height="2" fill="url(#f14)"/>
<rect x="489" y="235" width="169" height="2" fill="url(#f16)"/>
<rect x="489" y="237" width="169" height="2" fill="url(#f18)"/>
<rect x="489" y="239" width="169" height="2" fill="url(#f20)"/>
<rect x="489" y="241" width="169" height="2" fill="url(#f22)"/>
<rect x="489" y="243" width="169" height="2" fill="url(#f24)"/>
<rect x="489" y="245" width="169" height="2" fill="url(#f26)"/>
<rect x="489" y="247" width="169" height="2" fill="url(#f28)"/>
<rect x="489" y="249" width="169" height="2" fill="url(#f30)"/>
<rect x="489" y="251" width="169" height="2" fill="url(#f32)"/>
<rect x="489" y="253" width="169" height="2" fill="url(#f34)"/>
<rect x="489" y="255" width="169" height="2" fill="url(#f36)"/>
<rect x="489" y="257" width="169" height="2" fill="url(#f38)"/>
<rect x="489" y="259" width="169" height="2" fill="url(#f40)"/>
<rect x="489" y="261" width="169" height="2" fill="url(#f42)"/>
<rect x="489" y="263" width="169" height="2" fill="url(#f44)"/>
<rect x="489" y="265" width="169" height="2" fill="url(#f46)"/>
<rect x="489" y="267" width="169" height="2" fill="url(#f48)"/>
<rect x="489" y="269" width="169" height="2" fill="url(#f50)"/>
<rect x="489" y="271" width="169" height="2" fill="url(#f52)"/>
<rect x="489" y="273" width="169" height="2" fill="url(#f54)"/>
<rect x="489" y="275" width="169" height="2" fill="url(#f56)"/>
<rect x="489" y="277" width="169" height="2" fill="url(#f58)"/>
<rect x="489" y="279" width="169" height="2" fill="url(#f60)"/>
<rect x="489" y="281" width="169" height="2" fill="url(#f62)"/>
<rect x="489" y="283" width="169" height="2" fill="url(#f64)"/>
<rect x="489" y="285" width="169" height="2" fill="url(#f66)"/>
<rect x="489" y="287" width="169" height="2" fill="url(#f68)"/>
<rect x="489" y="289" width="169" height="2" fill="url(#f70)"/>
<rect x="489" y="291" width="169" height="2" fill="url(#f72)"/>
<rect x="489" y="293" width="169" height="2" fill="url(#f74)"/>
<rect x="489" y="295" width="169" height="2" fill="url(#f76)"/>
<rect x="489" y="297" width="169" height="2" fill="url(#f78)"/>
<rect x="489" y="299" width="169" height="2" fill="url(#f80)"/>
<rect x="489" y="301" width="169" height="2" fill="url(#f82)"/>
<rect x="489" y="303" width="169" height="2" fill="url(#f84)"/>
<rect x="489" y="305" width="169" height="2" fill="url(#f86)"/>
<rect x="489" y="307" width="169" height="2" fill="url(#f88)"/>
<rect x="489" y="309" width="169" height="2" fill="url(#f90)"/>
<rect x="489" y="311" width="169" height="2" fill="url(#f92)"/>
<rect x="489" y="313" width="169" height="2" fill="url(#f94)"/>
<rect x="489" y="315" width="169" height="2" fill="url(#f96)"/>
<rect x="489" y="317" width="169" height="2" fill="url(#f98)"/>
<rect x="489" y="319" width="169" height="2" fill="url(#f100)"/>
<rect x="489" y="321" width="169" height="2" fill="url(#f102)"/>
<rect x="489" y="323" width="169" height="2" fill="url(#f104)"/>
<rect x="489" y="325" width="169" height="2" fill="url(#f106)"/>
<rect x="489" y="327" width="169" height="2" fill="url(#f108)"/>
<rect x="489" y="329" width="169" height="2" fill="url(#f110)"/>
<rect x="489" y="331" width="169" height="2" fill="url(#f112)"/>
<rect x="489" y="333" width="169" height="2" fill="url(#f114)"/>
<rect x="489" y="335" width="169" height="2" fill="url(#f116)"/>
<rect x="489" y="337" width="169" height="2" fill="url(#f118)"/>
<rect x="489" y="339" width="169" height="2" fill="url(#f120)"/>
<rect x="489" y="341" width="169" height="2" fill="url(#f122)"/>
<rect x="489" y="343" width="169" height="2" fill="url(#f124)"/>
<rect x="489" y="345" width="169" height="2" fill="url(#f126)"/>
<rect x="489" y="347" width="169" height="2" fill="url(#f128)"/>
<rect x="489" y="349" width="169" height="2" fill="url(#f130)"/>
<rect x="489" y="351" width="169" height="2" fill="url(#f132)"/>
<rect x="489" y="353" width="169" height="2" fill="url(#f134)"/>
<rect x="489" y="355" width="169" height="2" fill="url(#f136)"/>
<rect x="489" y="357" width="169" height="2" fill="url(#f138)"/>
<rect x="489" y="359" width="169" height="2" fill="url(#f140)"/>
<rect x="489" y="361" width="169" height="2" fill="url(#f142)"/>
<rect x="489" y="363" width="169" height="2" fill="url(#f144)"/>
<rect x="489" y="365" width="169" height="2" fill="url(#f146)"/>
<rect x="489" y="367" width="169" height="2" fill="url(#f148)"/>
<rect x="489" y="369" width="169" height="2" fill="url(#f150)"/>
<rect x="489" y="371" width="169" height="2" fill="url(#f152)"/>
<rect x="489" y="373" width="169" height="2" fill="url(#f154)"/>
<rect x="489" y="375" width="169" height="2" fill="url(#f156)"/>
<rect x="489" y="377" width="169" height="2" fill="url(#f158)"/>
<rect x="489" y="379" width="169" height="2" fill="url(#f160)"/>
<rect x="489" y="381" width="169" height="2" fill="url(#f162)"/>
<rect x="489.20" y="218.60" width="169.30" height="163.60" fill="none" stroke="#333" stroke-width="1.0"/>
<line x1="486.60" y1="382.20" x2="489.20" y2="382.20" stroke="#333" stroke-width="0.9"/>
<text x="484.50" y="384.50" font-size="6.90" text-anchor="end" fill="#111" stroke="#111" stroke-width="0.08" >80</text>
<line x1="486.60" y1="368.57" x2="489.20" y2="368.57" stroke="#333" stroke-width="0.9"/>
<text x="484.50" y="370.87" font-size="6.90" text-anchor="end" fill="#111" stroke="#111" stroke-width="0.08" >100</text>
<line x1="486.60" y1="354.93" x2="489.20" y2="354.93" stroke="#333" stroke-width="0.9"/>
<text x="484.50" y="357.23" font-size="6.90" text-anchor="end" fill="#111" stroke="#111" stroke-width="0.08" >120</text>
<line x1="486.60" y1="341.30" x2="489.20" y2="341.30" stroke="#333" stroke-width="0.9"/>
<text x="484.50" y="343.60" font-size="6.90" text-anchor="end" fill="#111" stroke="#111" stroke-width="0.08" >140</text>
<line x1="486.60" y1="327.67" x2="489.20" y2="327.67" stroke="#333" stroke-width="0.9"/>
<text x="484.50" y="329.97" font-size="6.90" text-anchor="end" fill="#111" stroke="#111" stroke-width="0.08" >160</text>
<line x1="486.60" y1="314.03" x2="489.20" y2="314.03" stroke="#333" stroke-width="0.9"/>
<text x="484.50" y="316.33" font-size="6.90" text-anchor="end" fill="#111" stroke="#111" stroke-width="0.08" >180</text>
<line x1="486.60" y1="300.40" x2="489.20" y2="300.40" stroke="#333" stroke-width="0.9"/>
<text x="484.50" y="302.70" font-size="6.90" text-anchor="end" fill="#111" stroke="#111" stroke-width="0.08" >200</text>
<line x1="486.60" y1="286.77" x2="489.20" y2="286.77" stroke="#333" stroke-width="0.9"/>
<text x="484.50" y="289.07" font-size="6.90" text-anchor="end" fill="#111" stroke="#111" stroke-width="0.08" >220</text>
<line x1="486.60" y1="273.13" x2="489.20" y2="273.13" stroke="#333" stroke-width="0.9"/>
<text x="484.50" y="275.43" font-size="6.90" text-anchor="end" fill="#111" stroke="#111" stroke-width="0.08" >240</text>
<line x1="486.60" y1="259.50" x2="489.20" y2="259.50" stroke="#333" stroke-width="0.9"/>
<text x="484.50" y="261.80" font-size="6.90" text-anchor="end" fill="#111" stroke="#111" stroke-width="0.08" >260</text>
<line x1="486.60" y1="245.87" x2="489.20" y2="245.87" stroke="#333" stroke-width="0.9"/>
<text x="484.50" y="248.17" font-size="6.90" text-anchor="end" fill="#111" stroke="#111" stroke-width="0.08" >280</text>
<line x1="486.60" y1="232.23" x2="489.20" y2="232.23" stroke="#333" stroke-width="0.9"/>
<text x="484.50" y="234.53" font-size="6.90" text-anchor="end" fill="#111" stroke="#111" stroke-width="0.08" >300</text>
<line x1="486.60" y1="218.60" x2="489.20" y2="218.60" stroke="#333" stroke-width="0.9"/>
<text x="484.50" y="220.90" font-size="6.90" text-anchor="end" fill="#111" stroke="#111" stroke-width="0.08" >320</text>
<line x1="498.23" y1="382.20" x2="498.23" y2="383.70" stroke="#333" stroke-width="0.9"/>
<line x1="512.80" y1="382.20" x2="512.80" y2="384.80" stroke="#333" stroke-width="0.9"/>
<text x="512.80" y="393.50" font-size="6.90" text-anchor="middle" fill="#111" stroke="#111" stroke-width="0.08" >500</text>
<line x1="527.37" y1="382.20" x2="527.37" y2="383.70" stroke="#333" stroke-width="0.9"/>
<line x1="541.94" y1="382.20" x2="541.94" y2="384.80" stroke="#333" stroke-width="0.9"/>
<text x="541.94" y="393.50" font-size="6.90" text-anchor="middle" fill="#111" stroke="#111" stroke-width="0.08" >550</text>
<line x1="556.51" y1="382.20" x2="556.51" y2="383.70" stroke="#333" stroke-width="0.9"/>
<line x1="571.08" y1="382.20" x2="571.08" y2="384.80" stroke="#333" stroke-width="0.9"/>
<text x="571.08" y="393.50" font-size="6.90" text-anchor="middle" fill="#111" stroke="#111" stroke-width="0.08" >600</text>
<line x1="585.65" y1="382.20" x2="585.65" y2="383.70" stroke="#333" stroke-width="0.9"/>
<line x1="600.22" y1="382.20" x2="600.22" y2="384.80" stroke="#333" stroke-width="0.9"/>
<text x="600.22" y="393.50" font-size="6.90" text-anchor="middle" fill="#111" stroke="#111" stroke-width="0.08" >650</text>
<line x1="614.79" y1="382.20" x2="614.79" y2="383.70" stroke="#333" stroke-width="0.9"/>
<line x1="629.36" y1="382.20" x2="629.36" y2="384.80" stroke="#333" stroke-width="0.9"/>
<text x="629.36" y="393.50" font-size="6.90" text-anchor="middle" fill="#111" stroke="#111" stroke-width="0.08" >700</text>
<line x1="643.93" y1="382.20" x2="643.93" y2="383.70" stroke="#333" stroke-width="0.9"/>
<line x1="658.50" y1="382.20" x2="658.50" y2="384.80" stroke="#333" stroke-width="0.9"/>
<text x="658.50" y="393.50" font-size="6.90" text-anchor="middle" fill="#111" stroke="#111" stroke-width="0.08" >750</text>
<text x="573.80" y="406.60" font-size="9.30" text-anchor="middle" fill="#111" stroke="#111" stroke-width="0.20" >Wavelength (nm)</text>
<text transform="translate(467.60,298.80) rotate(-90)" font-size="9.2" text-anchor="middle" fill="#111" stroke="#111" stroke-width="0.2">Temperature (K)</text>
<text x="454.00" y="229.60" font-size="16.50" text-anchor="start" fill="#000" stroke="#000" stroke-width="0.20" >f</text>
<rect x="666.9" y="218.2" width="14.1" height="165.3" fill="url(#cbar)"/></svg></body></html>
